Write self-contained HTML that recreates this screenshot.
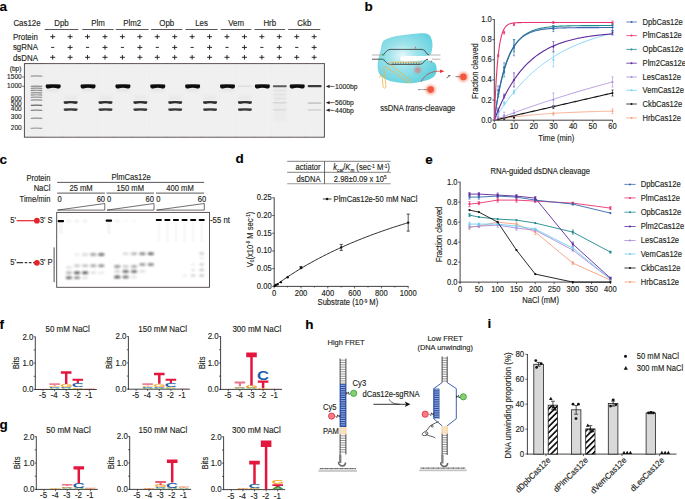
<!DOCTYPE html>
<html><head><meta charset="utf-8"><style>
html,body{margin:0;padding:0;background:#fff;overflow:hidden;}
svg{display:block;font-family:"Liberation Sans", sans-serif;}
text{stroke:#231f20;stroke-width:0.13px;}
</style></head><body>
<svg width="685" height="499" viewBox="0 0 685 499">
<defs>
<filter id="b04" x="-20%" y="-100%" width="140%" height="300%"><feGaussianBlur stdDeviation="0.4"/></filter>
<filter id="b05" x="-20%" y="-100%" width="140%" height="300%"><feGaussianBlur stdDeviation="0.5"/></filter>
<filter id="b08" x="-50%" y="-150%" width="200%" height="400%"><feGaussianBlur stdDeviation="0.75"/></filter>
<filter id="b09" x="-50%" y="-150%" width="200%" height="400%"><feGaussianBlur stdDeviation="0.9"/></filter>
<filter id="b1" x="-50%" y="-50%" width="200%" height="200%"><feGaussianBlur stdDeviation="1"/></filter>
<filter id="b2" x="-50%" y="-50%" width="200%" height="200%"><feGaussianBlur stdDeviation="2"/></filter>
<radialGradient id="cyan" cx="0.42" cy="0.45" r="0.6"><stop offset="0" stop-color="#e4f8fa"/><stop offset="0.4" stop-color="#9fe3eb"/><stop offset="1" stop-color="#62d1de"/></radialGradient>
<pattern id="hatch" patternUnits="userSpaceOnUse" width="4.2" height="4.2" patternTransform="rotate(45)"><rect width="4.2" height="4.2" fill="#fff"/><rect width="1.7" height="4.2" fill="#111"/></pattern>
</defs>
<text x="-0.40" y="10.50" font-size="13.5" text-anchor="start" font-weight="bold" fill="#000" >a</text>
<text x="0" y="0" transform="translate(13.40,25.90) scale(1,1.07)" font-size="7.9" text-anchor="start" fill="#231f20" >Cas12e</text>
<text x="0" y="0" transform="translate(61.50,25.90) scale(1,1.07)" font-size="7.9" text-anchor="middle" fill="#231f20" >Dpb</text>
<line x1="44.70" y1="29.50" x2="78.30" y2="29.50" stroke="#231f20" stroke-width="0.75" />
<text x="0" y="0" transform="translate(97.95,25.90) scale(1,1.07)" font-size="7.9" text-anchor="middle" fill="#231f20" >Plm</text>
<line x1="82.30" y1="29.50" x2="113.60" y2="29.50" stroke="#231f20" stroke-width="0.75" />
<text x="0" y="0" transform="translate(132.15,25.90) scale(1,1.07)" font-size="7.9" text-anchor="middle" fill="#231f20" >Plm2</text>
<line x1="115.80" y1="29.50" x2="148.50" y2="29.50" stroke="#231f20" stroke-width="0.75" />
<text x="0" y="0" transform="translate(166.70,25.90) scale(1,1.07)" font-size="7.9" text-anchor="middle" fill="#231f20" >Opb</text>
<line x1="151.10" y1="29.50" x2="182.30" y2="29.50" stroke="#231f20" stroke-width="0.75" />
<text x="0" y="0" transform="translate(201.55,25.90) scale(1,1.07)" font-size="7.9" text-anchor="middle" fill="#231f20" >Les</text>
<line x1="185.50" y1="29.50" x2="217.60" y2="29.50" stroke="#231f20" stroke-width="0.75" />
<text x="0" y="0" transform="translate(236.05,25.90) scale(1,1.07)" font-size="7.9" text-anchor="middle" fill="#231f20" >Vem</text>
<line x1="220.80" y1="29.50" x2="251.30" y2="29.50" stroke="#231f20" stroke-width="0.75" />
<text x="0" y="0" transform="translate(269.75,25.90) scale(1,1.07)" font-size="7.9" text-anchor="middle" fill="#231f20" >Hrb</text>
<line x1="254.50" y1="29.50" x2="285.00" y2="29.50" stroke="#231f20" stroke-width="0.75" />
<text x="0" y="0" transform="translate(304.25,25.90) scale(1,1.07)" font-size="7.9" text-anchor="middle" fill="#231f20" >Ckb</text>
<line x1="288.20" y1="29.50" x2="320.30" y2="29.50" stroke="#231f20" stroke-width="0.75" />
<text x="0" y="0" transform="translate(12.90,39.80) scale(1,1.07)" font-size="7.9" text-anchor="start" fill="#231f20" >Protein</text>
<text x="0" y="0" transform="translate(12.90,50.30) scale(1,1.07)" font-size="7.9" text-anchor="start" fill="#231f20" >sgRNA</text>
<text x="0" y="0" transform="translate(12.90,60.80) scale(1,1.07)" font-size="7.9" text-anchor="start" fill="#231f20" >dsDNA</text>
<line x1="50.20" y1="36.70" x2="55.20" y2="36.70" stroke="#231f20" stroke-width="0.95" />
<line x1="52.70" y1="34.40" x2="52.70" y2="39.00" stroke="#231f20" stroke-width="0.95" />
<line x1="51.10" y1="47.40" x2="54.30" y2="47.40" stroke="#231f20" stroke-width="0.95" />
<line x1="50.20" y1="57.30" x2="55.20" y2="57.30" stroke="#231f20" stroke-width="0.95" />
<line x1="52.70" y1="55.00" x2="52.70" y2="59.60" stroke="#231f20" stroke-width="0.95" />
<line x1="67.63" y1="36.70" x2="72.63" y2="36.70" stroke="#231f20" stroke-width="0.95" />
<line x1="70.13" y1="34.40" x2="70.13" y2="39.00" stroke="#231f20" stroke-width="0.95" />
<line x1="67.63" y1="47.40" x2="72.63" y2="47.40" stroke="#231f20" stroke-width="0.95" />
<line x1="70.13" y1="45.10" x2="70.13" y2="49.70" stroke="#231f20" stroke-width="0.95" />
<line x1="67.63" y1="57.30" x2="72.63" y2="57.30" stroke="#231f20" stroke-width="0.95" />
<line x1="70.13" y1="55.00" x2="70.13" y2="59.60" stroke="#231f20" stroke-width="0.95" />
<line x1="85.06" y1="36.70" x2="90.06" y2="36.70" stroke="#231f20" stroke-width="0.95" />
<line x1="87.56" y1="34.40" x2="87.56" y2="39.00" stroke="#231f20" stroke-width="0.95" />
<line x1="85.96" y1="47.40" x2="89.16" y2="47.40" stroke="#231f20" stroke-width="0.95" />
<line x1="85.06" y1="57.30" x2="90.06" y2="57.30" stroke="#231f20" stroke-width="0.95" />
<line x1="87.56" y1="55.00" x2="87.56" y2="59.60" stroke="#231f20" stroke-width="0.95" />
<line x1="102.49" y1="36.70" x2="107.49" y2="36.70" stroke="#231f20" stroke-width="0.95" />
<line x1="104.99" y1="34.40" x2="104.99" y2="39.00" stroke="#231f20" stroke-width="0.95" />
<line x1="102.49" y1="47.40" x2="107.49" y2="47.40" stroke="#231f20" stroke-width="0.95" />
<line x1="104.99" y1="45.10" x2="104.99" y2="49.70" stroke="#231f20" stroke-width="0.95" />
<line x1="102.49" y1="57.30" x2="107.49" y2="57.30" stroke="#231f20" stroke-width="0.95" />
<line x1="104.99" y1="55.00" x2="104.99" y2="59.60" stroke="#231f20" stroke-width="0.95" />
<line x1="119.92" y1="36.70" x2="124.92" y2="36.70" stroke="#231f20" stroke-width="0.95" />
<line x1="122.42" y1="34.40" x2="122.42" y2="39.00" stroke="#231f20" stroke-width="0.95" />
<line x1="120.82" y1="47.40" x2="124.02" y2="47.40" stroke="#231f20" stroke-width="0.95" />
<line x1="119.92" y1="57.30" x2="124.92" y2="57.30" stroke="#231f20" stroke-width="0.95" />
<line x1="122.42" y1="55.00" x2="122.42" y2="59.60" stroke="#231f20" stroke-width="0.95" />
<line x1="137.35" y1="36.70" x2="142.35" y2="36.70" stroke="#231f20" stroke-width="0.95" />
<line x1="139.85" y1="34.40" x2="139.85" y2="39.00" stroke="#231f20" stroke-width="0.95" />
<line x1="137.35" y1="47.40" x2="142.35" y2="47.40" stroke="#231f20" stroke-width="0.95" />
<line x1="139.85" y1="45.10" x2="139.85" y2="49.70" stroke="#231f20" stroke-width="0.95" />
<line x1="137.35" y1="57.30" x2="142.35" y2="57.30" stroke="#231f20" stroke-width="0.95" />
<line x1="139.85" y1="55.00" x2="139.85" y2="59.60" stroke="#231f20" stroke-width="0.95" />
<line x1="154.78" y1="36.70" x2="159.78" y2="36.70" stroke="#231f20" stroke-width="0.95" />
<line x1="157.28" y1="34.40" x2="157.28" y2="39.00" stroke="#231f20" stroke-width="0.95" />
<line x1="155.68" y1="47.40" x2="158.88" y2="47.40" stroke="#231f20" stroke-width="0.95" />
<line x1="154.78" y1="57.30" x2="159.78" y2="57.30" stroke="#231f20" stroke-width="0.95" />
<line x1="157.28" y1="55.00" x2="157.28" y2="59.60" stroke="#231f20" stroke-width="0.95" />
<line x1="172.21" y1="36.70" x2="177.21" y2="36.70" stroke="#231f20" stroke-width="0.95" />
<line x1="174.71" y1="34.40" x2="174.71" y2="39.00" stroke="#231f20" stroke-width="0.95" />
<line x1="172.21" y1="47.40" x2="177.21" y2="47.40" stroke="#231f20" stroke-width="0.95" />
<line x1="174.71" y1="45.10" x2="174.71" y2="49.70" stroke="#231f20" stroke-width="0.95" />
<line x1="172.21" y1="57.30" x2="177.21" y2="57.30" stroke="#231f20" stroke-width="0.95" />
<line x1="174.71" y1="55.00" x2="174.71" y2="59.60" stroke="#231f20" stroke-width="0.95" />
<line x1="189.64" y1="36.70" x2="194.64" y2="36.70" stroke="#231f20" stroke-width="0.95" />
<line x1="192.14" y1="34.40" x2="192.14" y2="39.00" stroke="#231f20" stroke-width="0.95" />
<line x1="190.54" y1="47.40" x2="193.74" y2="47.40" stroke="#231f20" stroke-width="0.95" />
<line x1="189.64" y1="57.30" x2="194.64" y2="57.30" stroke="#231f20" stroke-width="0.95" />
<line x1="192.14" y1="55.00" x2="192.14" y2="59.60" stroke="#231f20" stroke-width="0.95" />
<line x1="207.07" y1="36.70" x2="212.07" y2="36.70" stroke="#231f20" stroke-width="0.95" />
<line x1="209.57" y1="34.40" x2="209.57" y2="39.00" stroke="#231f20" stroke-width="0.95" />
<line x1="207.07" y1="47.40" x2="212.07" y2="47.40" stroke="#231f20" stroke-width="0.95" />
<line x1="209.57" y1="45.10" x2="209.57" y2="49.70" stroke="#231f20" stroke-width="0.95" />
<line x1="207.07" y1="57.30" x2="212.07" y2="57.30" stroke="#231f20" stroke-width="0.95" />
<line x1="209.57" y1="55.00" x2="209.57" y2="59.60" stroke="#231f20" stroke-width="0.95" />
<line x1="224.50" y1="36.70" x2="229.50" y2="36.70" stroke="#231f20" stroke-width="0.95" />
<line x1="227.00" y1="34.40" x2="227.00" y2="39.00" stroke="#231f20" stroke-width="0.95" />
<line x1="225.40" y1="47.40" x2="228.60" y2="47.40" stroke="#231f20" stroke-width="0.95" />
<line x1="224.50" y1="57.30" x2="229.50" y2="57.30" stroke="#231f20" stroke-width="0.95" />
<line x1="227.00" y1="55.00" x2="227.00" y2="59.60" stroke="#231f20" stroke-width="0.95" />
<line x1="241.93" y1="36.70" x2="246.93" y2="36.70" stroke="#231f20" stroke-width="0.95" />
<line x1="244.43" y1="34.40" x2="244.43" y2="39.00" stroke="#231f20" stroke-width="0.95" />
<line x1="241.93" y1="47.40" x2="246.93" y2="47.40" stroke="#231f20" stroke-width="0.95" />
<line x1="244.43" y1="45.10" x2="244.43" y2="49.70" stroke="#231f20" stroke-width="0.95" />
<line x1="241.93" y1="57.30" x2="246.93" y2="57.30" stroke="#231f20" stroke-width="0.95" />
<line x1="244.43" y1="55.00" x2="244.43" y2="59.60" stroke="#231f20" stroke-width="0.95" />
<line x1="259.36" y1="36.70" x2="264.36" y2="36.70" stroke="#231f20" stroke-width="0.95" />
<line x1="261.86" y1="34.40" x2="261.86" y2="39.00" stroke="#231f20" stroke-width="0.95" />
<line x1="260.26" y1="47.40" x2="263.46" y2="47.40" stroke="#231f20" stroke-width="0.95" />
<line x1="259.36" y1="57.30" x2="264.36" y2="57.30" stroke="#231f20" stroke-width="0.95" />
<line x1="261.86" y1="55.00" x2="261.86" y2="59.60" stroke="#231f20" stroke-width="0.95" />
<line x1="276.79" y1="36.70" x2="281.79" y2="36.70" stroke="#231f20" stroke-width="0.95" />
<line x1="279.29" y1="34.40" x2="279.29" y2="39.00" stroke="#231f20" stroke-width="0.95" />
<line x1="276.79" y1="47.40" x2="281.79" y2="47.40" stroke="#231f20" stroke-width="0.95" />
<line x1="279.29" y1="45.10" x2="279.29" y2="49.70" stroke="#231f20" stroke-width="0.95" />
<line x1="276.79" y1="57.30" x2="281.79" y2="57.30" stroke="#231f20" stroke-width="0.95" />
<line x1="279.29" y1="55.00" x2="279.29" y2="59.60" stroke="#231f20" stroke-width="0.95" />
<line x1="294.22" y1="36.70" x2="299.22" y2="36.70" stroke="#231f20" stroke-width="0.95" />
<line x1="296.72" y1="34.40" x2="296.72" y2="39.00" stroke="#231f20" stroke-width="0.95" />
<line x1="295.12" y1="47.40" x2="298.32" y2="47.40" stroke="#231f20" stroke-width="0.95" />
<line x1="294.22" y1="57.30" x2="299.22" y2="57.30" stroke="#231f20" stroke-width="0.95" />
<line x1="296.72" y1="55.00" x2="296.72" y2="59.60" stroke="#231f20" stroke-width="0.95" />
<line x1="311.65" y1="36.70" x2="316.65" y2="36.70" stroke="#231f20" stroke-width="0.95" />
<line x1="314.15" y1="34.40" x2="314.15" y2="39.00" stroke="#231f20" stroke-width="0.95" />
<line x1="311.65" y1="47.40" x2="316.65" y2="47.40" stroke="#231f20" stroke-width="0.95" />
<line x1="314.15" y1="45.10" x2="314.15" y2="49.70" stroke="#231f20" stroke-width="0.95" />
<line x1="311.65" y1="57.30" x2="316.65" y2="57.30" stroke="#231f20" stroke-width="0.95" />
<line x1="314.15" y1="55.00" x2="314.15" y2="59.60" stroke="#231f20" stroke-width="0.95" />
<rect x="24.40" y="63.60" width="300.00" height="73.60" fill="#efefef" stroke="#4f4545" stroke-width="0.95" />
<text x="0" y="0" transform="translate(21.50,70.90) scale(1,1.07)" font-size="6.6" text-anchor="end" fill="#231f20" >(bp)</text>
<text x="0" y="0" transform="translate(21.80,78.70) scale(1,1.07)" font-size="6.6" text-anchor="end" fill="#231f20" >1500</text>
<text x="0" y="0" transform="translate(21.80,87.90) scale(1,1.07)" font-size="6.6" text-anchor="end" fill="#231f20" >1000</text>
<text x="0" y="0" transform="translate(21.80,100.50) scale(1,1.07)" font-size="6.6" text-anchor="end" fill="#231f20" >600</text>
<text x="0" y="0" transform="translate(21.80,105.60) scale(1,1.07)" font-size="6.6" text-anchor="end" fill="#231f20" >500</text>
<text x="0" y="0" transform="translate(21.80,111.30) scale(1,1.07)" font-size="6.6" text-anchor="end" fill="#231f20" >400</text>
<text x="0" y="0" transform="translate(21.80,118.90) scale(1,1.07)" font-size="6.6" text-anchor="end" fill="#231f20" >300</text>
<text x="0" y="0" transform="translate(21.80,129.60) scale(1,1.07)" font-size="6.6" text-anchor="end" fill="#231f20" >200</text>
<line x1="22.20" y1="77.00" x2="24.40" y2="77.00" stroke="#231f20" stroke-width="0.6" />
<line x1="22.20" y1="86.30" x2="24.40" y2="86.30" stroke="#231f20" stroke-width="0.6" />
<rect x="45.70" y="64.50" width="15.00" height="72.00" fill="#f4f4f4" stroke="none" stroke-width="0.8" opacity="0.3" filter="url(#b1)"/>
<rect x="63.13" y="64.50" width="15.00" height="72.00" fill="#f4f4f4" stroke="none" stroke-width="0.8" opacity="0.3" filter="url(#b1)"/>
<rect x="80.56" y="64.50" width="15.00" height="72.00" fill="#f4f4f4" stroke="none" stroke-width="0.8" opacity="0.3" filter="url(#b1)"/>
<rect x="97.99" y="64.50" width="15.00" height="72.00" fill="#f4f4f4" stroke="none" stroke-width="0.8" opacity="0.3" filter="url(#b1)"/>
<rect x="115.42" y="64.50" width="15.00" height="72.00" fill="#f4f4f4" stroke="none" stroke-width="0.8" opacity="0.3" filter="url(#b1)"/>
<rect x="132.85" y="64.50" width="15.00" height="72.00" fill="#f4f4f4" stroke="none" stroke-width="0.8" opacity="0.3" filter="url(#b1)"/>
<rect x="150.28" y="64.50" width="15.00" height="72.00" fill="#f4f4f4" stroke="none" stroke-width="0.8" opacity="0.3" filter="url(#b1)"/>
<rect x="167.71" y="64.50" width="15.00" height="72.00" fill="#f4f4f4" stroke="none" stroke-width="0.8" opacity="0.3" filter="url(#b1)"/>
<rect x="185.14" y="64.50" width="15.00" height="72.00" fill="#f4f4f4" stroke="none" stroke-width="0.8" opacity="0.3" filter="url(#b1)"/>
<rect x="202.57" y="64.50" width="15.00" height="72.00" fill="#f4f4f4" stroke="none" stroke-width="0.8" opacity="0.3" filter="url(#b1)"/>
<rect x="220.00" y="64.50" width="15.00" height="72.00" fill="#f4f4f4" stroke="none" stroke-width="0.8" opacity="0.3" filter="url(#b1)"/>
<rect x="237.43" y="64.50" width="15.00" height="72.00" fill="#f4f4f4" stroke="none" stroke-width="0.8" opacity="0.3" filter="url(#b1)"/>
<rect x="254.86" y="64.50" width="15.00" height="72.00" fill="#f4f4f4" stroke="none" stroke-width="0.8" opacity="0.3" filter="url(#b1)"/>
<rect x="272.29" y="64.50" width="15.00" height="72.00" fill="#f4f4f4" stroke="none" stroke-width="0.8" opacity="0.3" filter="url(#b1)"/>
<rect x="289.72" y="64.50" width="15.00" height="72.00" fill="#f4f4f4" stroke="none" stroke-width="0.8" opacity="0.3" filter="url(#b1)"/>
<rect x="307.15" y="64.50" width="15.00" height="72.00" fill="#f4f4f4" stroke="none" stroke-width="0.8" opacity="0.3" filter="url(#b1)"/>
<g opacity="0.375" filter="url(#b05)"><path d="M31.20 75.55 Q30.60 75.55 30.60 76.20 Q30.60 76.84 31.64 76.84 Q36.50 76.23 41.36 76.84 Q42.40 76.84 42.40 76.20 Q42.40 75.55 41.80 75.55 Q36.50 75.10 31.20 75.55 Z" fill="#0a0a0a"/></g>
<g opacity="0.44999999999999996" filter="url(#b05)"><path d="M31.20 85.65 Q30.60 85.65 30.60 86.30 Q30.60 86.94 31.64 86.94 Q36.50 86.33 41.36 86.94 Q42.40 86.94 42.40 86.30 Q42.40 85.65 41.80 85.65 Q36.50 85.20 31.20 85.65 Z" fill="#0a0a0a"/></g>
<g opacity="0.41250000000000003" filter="url(#b05)"><path d="M31.20 87.75 Q30.60 87.75 30.60 88.40 Q30.60 89.04 31.64 89.04 Q36.50 88.42 41.36 89.04 Q42.40 89.04 42.40 88.40 Q42.40 87.75 41.80 87.75 Q36.50 87.30 31.20 87.75 Z" fill="#0a0a0a"/></g>
<g opacity="0.41250000000000003" filter="url(#b05)"><path d="M31.20 89.85 Q30.60 89.85 30.60 90.50 Q30.60 91.14 31.64 91.14 Q36.50 90.53 41.36 91.14 Q42.40 91.14 42.40 90.50 Q42.40 89.85 41.80 89.85 Q36.50 89.40 31.20 89.85 Z" fill="#0a0a0a"/></g>
<g opacity="0.41250000000000003" filter="url(#b05)"><path d="M31.20 92.15 Q30.60 92.15 30.60 92.80 Q30.60 93.44 31.64 93.44 Q36.50 92.83 41.36 93.44 Q42.40 93.44 42.40 92.80 Q42.40 92.15 41.80 92.15 Q36.50 91.70 31.20 92.15 Z" fill="#0a0a0a"/></g>
<g opacity="0.375" filter="url(#b05)"><path d="M31.20 94.35 Q30.60 94.35 30.60 95.00 Q30.60 95.64 31.64 95.64 Q36.50 95.03 41.36 95.64 Q42.40 95.64 42.40 95.00 Q42.40 94.35 41.80 94.35 Q36.50 93.90 31.20 94.35 Z" fill="#0a0a0a"/></g>
<g opacity="0.375" filter="url(#b05)"><path d="M31.20 96.65 Q30.60 96.65 30.60 97.30 Q30.60 97.94 31.64 97.94 Q36.50 97.33 41.36 97.94 Q42.40 97.94 42.40 97.30 Q42.40 96.65 41.80 96.65 Q36.50 96.20 31.20 96.65 Z" fill="#0a0a0a"/></g>
<g opacity="0.41250000000000003" filter="url(#b05)"><path d="M31.20 99.45 Q30.60 99.45 30.60 100.10 Q30.60 100.74 31.64 100.74 Q36.50 100.12 41.36 100.74 Q42.40 100.74 42.40 100.10 Q42.40 99.45 41.80 99.45 Q36.50 99.00 31.20 99.45 Z" fill="#0a0a0a"/></g>
<g opacity="0.6000000000000001" filter="url(#b05)"><path d="M31.20 104.65 Q30.60 104.65 30.60 105.30 Q30.60 105.94 31.64 105.94 Q36.50 105.33 41.36 105.94 Q42.40 105.94 42.40 105.30 Q42.40 104.65 41.80 104.65 Q36.50 104.20 31.20 104.65 Z" fill="#0a0a0a"/></g>
<g opacity="0.44999999999999996" filter="url(#b05)"><path d="M31.20 109.75 Q30.60 109.75 30.60 110.40 Q30.60 111.04 31.64 111.04 Q36.50 110.42 41.36 111.04 Q42.40 111.04 42.40 110.40 Q42.40 109.75 41.80 109.75 Q36.50 109.30 31.20 109.75 Z" fill="#0a0a0a"/></g>
<g opacity="0.41250000000000003" filter="url(#b05)"><path d="M31.20 117.65 Q30.60 117.65 30.60 118.30 Q30.60 118.94 31.64 118.94 Q36.50 118.33 41.36 118.94 Q42.40 118.94 42.40 118.30 Q42.40 117.65 41.80 117.65 Q36.50 117.20 31.20 117.65 Z" fill="#0a0a0a"/></g>
<g opacity="0.3375" filter="url(#b05)"><path d="M31.20 127.75 Q30.60 127.75 30.60 128.40 Q30.60 129.04 31.64 129.04 Q36.50 128.43 41.36 129.04 Q42.40 129.04 42.40 128.40 Q42.40 127.75 41.80 127.75 Q36.50 127.30 31.20 127.75 Z" fill="#0a0a0a"/></g>
<rect x="46.70" y="87.00" width="13.00" height="5.00" fill="#999" stroke="none" stroke-width="0.8" opacity="0.08" filter="url(#b1)"/>
<g opacity="1.0" filter="url(#b05)"><path d="M46.30 84.40 Q45.70 84.40 45.70 86.20 Q45.70 88.49 48.58 88.49 Q53.20 86.80 57.82 88.49 Q60.70 88.49 60.70 86.20 Q60.70 84.40 60.10 84.40 Q53.20 83.95 46.30 84.40 Z" fill="#0a0a0a"/></g>
<rect x="64.13" y="95.00" width="13.00" height="6.00" fill="#999" stroke="none" stroke-width="0.8" opacity="0.06" filter="url(#b1)"/>
<g opacity="0.85" filter="url(#b05)"><path d="M64.23 101.30 Q63.63 101.30 63.63 102.50 Q63.63 103.93 65.55 103.93 Q70.63 102.80 75.71 103.93 Q77.63 103.93 77.63 102.50 Q77.63 101.30 77.03 101.30 Q70.63 100.85 64.23 101.30 Z" fill="#0a0a0a"/></g>
<g opacity="0.8" filter="url(#b05)"><path d="M64.23 108.40 Q63.63 108.40 63.63 109.60 Q63.63 111.03 65.55 111.03 Q70.63 109.90 75.71 111.03 Q77.63 111.03 77.63 109.60 Q77.63 108.40 77.03 108.40 Q70.63 107.95 64.23 108.40 Z" fill="#0a0a0a"/></g>
<rect x="81.56" y="87.00" width="13.00" height="5.00" fill="#999" stroke="none" stroke-width="0.8" opacity="0.08" filter="url(#b1)"/>
<g opacity="1.0" filter="url(#b05)"><path d="M81.16 84.40 Q80.56 84.40 80.56 86.20 Q80.56 88.49 83.44 88.49 Q88.06 86.80 92.68 88.49 Q95.56 88.49 95.56 86.20 Q95.56 84.40 94.96 84.40 Q88.06 83.95 81.16 84.40 Z" fill="#0a0a0a"/></g>
<rect x="98.99" y="95.00" width="13.00" height="6.00" fill="#999" stroke="none" stroke-width="0.8" opacity="0.06" filter="url(#b1)"/>
<g opacity="0.85" filter="url(#b05)"><path d="M99.09 101.30 Q98.49 101.30 98.49 102.50 Q98.49 103.93 100.41 103.93 Q105.49 102.80 110.57 103.93 Q112.49 103.93 112.49 102.50 Q112.49 101.30 111.89 101.30 Q105.49 100.85 99.09 101.30 Z" fill="#0a0a0a"/></g>
<g opacity="0.8" filter="url(#b05)"><path d="M99.09 108.40 Q98.49 108.40 98.49 109.60 Q98.49 111.03 100.41 111.03 Q105.49 109.90 110.57 111.03 Q112.49 111.03 112.49 109.60 Q112.49 108.40 111.89 108.40 Q105.49 107.95 99.09 108.40 Z" fill="#0a0a0a"/></g>
<rect x="116.42" y="87.00" width="13.00" height="5.00" fill="#999" stroke="none" stroke-width="0.8" opacity="0.08" filter="url(#b1)"/>
<g opacity="1.0" filter="url(#b05)"><path d="M116.02 84.40 Q115.42 84.40 115.42 86.20 Q115.42 88.49 118.30 88.49 Q122.92 86.80 127.54 88.49 Q130.42 88.49 130.42 86.20 Q130.42 84.40 129.82 84.40 Q122.92 83.95 116.02 84.40 Z" fill="#0a0a0a"/></g>
<rect x="133.85" y="95.00" width="13.00" height="6.00" fill="#999" stroke="none" stroke-width="0.8" opacity="0.06" filter="url(#b1)"/>
<g opacity="0.85" filter="url(#b05)"><path d="M133.95 101.30 Q133.35 101.30 133.35 102.50 Q133.35 103.93 135.27 103.93 Q140.35 102.80 145.43 103.93 Q147.35 103.93 147.35 102.50 Q147.35 101.30 146.75 101.30 Q140.35 100.85 133.95 101.30 Z" fill="#0a0a0a"/></g>
<g opacity="0.8" filter="url(#b05)"><path d="M133.95 108.40 Q133.35 108.40 133.35 109.60 Q133.35 111.03 135.27 111.03 Q140.35 109.90 145.43 111.03 Q147.35 111.03 147.35 109.60 Q147.35 108.40 146.75 108.40 Q140.35 107.95 133.95 108.40 Z" fill="#0a0a0a"/></g>
<rect x="151.28" y="87.00" width="13.00" height="5.00" fill="#999" stroke="none" stroke-width="0.8" opacity="0.08" filter="url(#b1)"/>
<g opacity="1.0" filter="url(#b05)"><path d="M150.88 84.40 Q150.28 84.40 150.28 86.20 Q150.28 88.49 153.16 88.49 Q157.78 86.80 162.40 88.49 Q165.28 88.49 165.28 86.20 Q165.28 84.40 164.68 84.40 Q157.78 83.95 150.88 84.40 Z" fill="#0a0a0a"/></g>
<rect x="168.71" y="95.00" width="13.00" height="6.00" fill="#999" stroke="none" stroke-width="0.8" opacity="0.06" filter="url(#b1)"/>
<g opacity="0.85" filter="url(#b05)"><path d="M168.81 101.30 Q168.21 101.30 168.21 102.50 Q168.21 103.93 170.13 103.93 Q175.21 102.80 180.29 103.93 Q182.21 103.93 182.21 102.50 Q182.21 101.30 181.61 101.30 Q175.21 100.85 168.81 101.30 Z" fill="#0a0a0a"/></g>
<g opacity="0.8" filter="url(#b05)"><path d="M168.81 108.40 Q168.21 108.40 168.21 109.60 Q168.21 111.03 170.13 111.03 Q175.21 109.90 180.29 111.03 Q182.21 111.03 182.21 109.60 Q182.21 108.40 181.61 108.40 Q175.21 107.95 168.81 108.40 Z" fill="#0a0a0a"/></g>
<rect x="186.14" y="87.00" width="13.00" height="5.00" fill="#999" stroke="none" stroke-width="0.8" opacity="0.08" filter="url(#b1)"/>
<g opacity="1.0" filter="url(#b05)"><path d="M185.74 84.40 Q185.14 84.40 185.14 86.20 Q185.14 88.49 188.02 88.49 Q192.64 86.80 197.26 88.49 Q200.14 88.49 200.14 86.20 Q200.14 84.40 199.54 84.40 Q192.64 83.95 185.74 84.40 Z" fill="#0a0a0a"/></g>
<rect x="203.57" y="95.00" width="13.00" height="6.00" fill="#999" stroke="none" stroke-width="0.8" opacity="0.06" filter="url(#b1)"/>
<g opacity="0.85" filter="url(#b05)"><path d="M203.67 101.30 Q203.07 101.30 203.07 102.50 Q203.07 103.93 204.99 103.93 Q210.07 102.80 215.15 103.93 Q217.07 103.93 217.07 102.50 Q217.07 101.30 216.47 101.30 Q210.07 100.85 203.67 101.30 Z" fill="#0a0a0a"/></g>
<g opacity="0.8" filter="url(#b05)"><path d="M203.67 108.40 Q203.07 108.40 203.07 109.60 Q203.07 111.03 204.99 111.03 Q210.07 109.90 215.15 111.03 Q217.07 111.03 217.07 109.60 Q217.07 108.40 216.47 108.40 Q210.07 107.95 203.67 108.40 Z" fill="#0a0a0a"/></g>
<rect x="221.00" y="87.00" width="13.00" height="5.00" fill="#999" stroke="none" stroke-width="0.8" opacity="0.08" filter="url(#b1)"/>
<g opacity="1.0" filter="url(#b05)"><path d="M220.60 84.40 Q220.00 84.40 220.00 86.20 Q220.00 88.49 222.88 88.49 Q227.50 86.80 232.12 88.49 Q235.00 88.49 235.00 86.20 Q235.00 84.40 234.40 84.40 Q227.50 83.95 220.60 84.40 Z" fill="#0a0a0a"/></g>
<rect x="238.43" y="95.00" width="13.00" height="6.00" fill="#999" stroke="none" stroke-width="0.8" opacity="0.06" filter="url(#b1)"/>
<g opacity="0.85" filter="url(#b05)"><path d="M238.53 101.30 Q237.93 101.30 237.93 102.50 Q237.93 103.93 239.85 103.93 Q244.93 102.80 250.01 103.93 Q251.93 103.93 251.93 102.50 Q251.93 101.30 251.33 101.30 Q244.93 100.85 238.53 101.30 Z" fill="#0a0a0a"/></g>
<g opacity="0.8" filter="url(#b05)"><path d="M238.53 108.40 Q237.93 108.40 237.93 109.60 Q237.93 111.03 239.85 111.03 Q244.93 109.90 250.01 111.03 Q251.93 111.03 251.93 109.60 Q251.93 108.40 251.33 108.40 Q244.93 107.95 238.53 108.40 Z" fill="#0a0a0a"/></g>
<g opacity="0.08" filter="url(#b05)"><rect x="237.83" y="85.50" width="14.20" height="1.60" rx="0.80" fill="#1a1a1a"/></g>
<g opacity="1.0" filter="url(#b05)"><path d="M255.46 84.40 Q254.86 84.40 254.86 86.20 Q254.86 88.49 257.74 88.49 Q262.36 86.80 266.98 88.49 Q269.86 88.49 269.86 86.20 Q269.86 84.40 269.26 84.40 Q262.36 83.95 255.46 84.40 Z" fill="#0a0a0a"/></g>
<g opacity="0.7" filter="url(#b05)"><rect x="272.79" y="85.20" width="14.00" height="2.00" rx="1.00" fill="#1a1a1a"/></g>
<g opacity="0.1" filter="url(#b05)"><rect x="272.69" y="101.90" width="14.20" height="1.60" rx="0.80" fill="#1a1a1a"/></g>
<g opacity="0.08" filter="url(#b05)"><rect x="272.69" y="109.00" width="14.20" height="1.60" rx="0.80" fill="#1a1a1a"/></g>
<rect x="273.29" y="88.00" width="13.00" height="34.00" fill="#ccc" stroke="none" stroke-width="0.8" opacity="0.12" filter="url(#b1)"/>
<g opacity="0.035" filter="url(#b05)"><rect x="273.29" y="89.80" width="13.00" height="1.40" rx="0.70" fill="#1a1a1a"/></g>
<g opacity="0.035" filter="url(#b05)"><rect x="273.29" y="93.80" width="13.00" height="1.40" rx="0.70" fill="#1a1a1a"/></g>
<g opacity="0.035" filter="url(#b05)"><rect x="273.29" y="97.80" width="13.00" height="1.40" rx="0.70" fill="#1a1a1a"/></g>
<g opacity="1.0" filter="url(#b05)"><path d="M290.32 84.40 Q289.72 84.40 289.72 86.20 Q289.72 88.49 292.60 88.49 Q297.22 86.80 301.84 88.49 Q304.72 88.49 304.72 86.20 Q304.72 84.40 304.12 84.40 Q297.22 83.95 290.32 84.40 Z" fill="#0a0a0a"/></g>
<g opacity="0.85" filter="url(#b05)"><rect x="307.65" y="85.10" width="14.00" height="2.20" rx="1.10" fill="#1a1a1a"/></g>
<g opacity="0.18" filter="url(#b05)"><rect x="307.55" y="102.30" width="14.20" height="1.60" rx="0.80" fill="#1a1a1a"/></g>
<g opacity="0.12" filter="url(#b05)"><rect x="307.55" y="109.10" width="14.20" height="1.60" rx="0.80" fill="#1a1a1a"/></g>
<path d="M325.8 86.40 L329.6 84.80 L329.6 88.00 Z" stroke="none" stroke-width="0.8" fill="#231f20" />
<line x1="328.00" y1="86.40" x2="332.50" y2="86.40" stroke="#231f20" stroke-width="0.6" />
<text x="0" y="0" transform="translate(331.00,88.80) scale(1,1.07)" font-size="6.8" text-anchor="start" fill="#231f20" >~1000bp</text>
<path d="M325.8 102.70 L329.6 101.10 L329.6 104.30 Z" stroke="none" stroke-width="0.8" fill="#231f20" />
<line x1="328.00" y1="102.70" x2="332.50" y2="102.70" stroke="#231f20" stroke-width="0.6" />
<text x="0" y="0" transform="translate(331.00,105.10) scale(1,1.07)" font-size="6.8" text-anchor="start" fill="#231f20" >~560bp</text>
<path d="M325.8 110.20 L329.6 108.60 L329.6 111.80 Z" stroke="none" stroke-width="0.8" fill="#231f20" />
<line x1="328.00" y1="110.20" x2="332.50" y2="110.20" stroke="#231f20" stroke-width="0.6" />
<text x="0" y="0" transform="translate(331.00,112.60) scale(1,1.07)" font-size="6.8" text-anchor="start" fill="#231f20" >~440bp</text>
<text x="364.60" y="11.00" font-size="13.5" text-anchor="start" font-weight="bold" fill="#000" >b</text>
<line x1="494.30" y1="19.20" x2="494.30" y2="120.60" stroke="#231f20" stroke-width="0.85" />
<line x1="493.90" y1="120.20" x2="612.80" y2="120.20" stroke="#231f20" stroke-width="0.85" />
<line x1="492.30" y1="120.20" x2="494.30" y2="120.20" stroke="#231f20" stroke-width="0.7" />
<text x="0" y="0" transform="translate(491.80,122.70) scale(1,1.07)" font-size="7.6" text-anchor="end" fill="#231f20" >0.0</text>
<line x1="492.30" y1="100.06" x2="494.30" y2="100.06" stroke="#231f20" stroke-width="0.7" />
<text x="0" y="0" transform="translate(491.80,102.56) scale(1,1.07)" font-size="7.6" text-anchor="end" fill="#231f20" >0.2</text>
<line x1="492.30" y1="79.92" x2="494.30" y2="79.92" stroke="#231f20" stroke-width="0.7" />
<text x="0" y="0" transform="translate(491.80,82.42) scale(1,1.07)" font-size="7.6" text-anchor="end" fill="#231f20" >0.4</text>
<line x1="492.30" y1="59.78" x2="494.30" y2="59.78" stroke="#231f20" stroke-width="0.7" />
<text x="0" y="0" transform="translate(491.80,62.28) scale(1,1.07)" font-size="7.6" text-anchor="end" fill="#231f20" >0.6</text>
<line x1="492.30" y1="39.64" x2="494.30" y2="39.64" stroke="#231f20" stroke-width="0.7" />
<text x="0" y="0" transform="translate(491.80,42.14) scale(1,1.07)" font-size="7.6" text-anchor="end" fill="#231f20" >0.8</text>
<line x1="492.30" y1="19.50" x2="494.30" y2="19.50" stroke="#231f20" stroke-width="0.7" />
<text x="0" y="0" transform="translate(491.80,22.00) scale(1,1.07)" font-size="7.6" text-anchor="end" fill="#231f20" >1.0</text>
<line x1="494.30" y1="120.20" x2="494.30" y2="122.20" stroke="#231f20" stroke-width="0.7" />
<text x="0" y="0" transform="translate(494.30,129.10) scale(1,1.07)" font-size="7.6" text-anchor="middle" fill="#231f20" >0</text>
<line x1="514.00" y1="120.20" x2="514.00" y2="122.20" stroke="#231f20" stroke-width="0.7" />
<text x="0" y="0" transform="translate(514.00,129.10) scale(1,1.07)" font-size="7.6" text-anchor="middle" fill="#231f20" >10</text>
<line x1="533.70" y1="120.20" x2="533.70" y2="122.20" stroke="#231f20" stroke-width="0.7" />
<text x="0" y="0" transform="translate(533.70,129.10) scale(1,1.07)" font-size="7.6" text-anchor="middle" fill="#231f20" >20</text>
<line x1="553.40" y1="120.20" x2="553.40" y2="122.20" stroke="#231f20" stroke-width="0.7" />
<text x="0" y="0" transform="translate(553.40,129.10) scale(1,1.07)" font-size="7.6" text-anchor="middle" fill="#231f20" >30</text>
<line x1="573.10" y1="120.20" x2="573.10" y2="122.20" stroke="#231f20" stroke-width="0.7" />
<text x="0" y="0" transform="translate(573.10,129.10) scale(1,1.07)" font-size="7.6" text-anchor="middle" fill="#231f20" >40</text>
<line x1="592.80" y1="120.20" x2="592.80" y2="122.20" stroke="#231f20" stroke-width="0.7" />
<text x="0" y="0" transform="translate(592.80,129.10) scale(1,1.07)" font-size="7.6" text-anchor="middle" fill="#231f20" >50</text>
<line x1="612.50" y1="120.20" x2="612.50" y2="122.20" stroke="#231f20" stroke-width="0.7" />
<text x="0" y="0" transform="translate(612.50,129.10) scale(1,1.07)" font-size="7.6" text-anchor="middle" fill="#231f20" >60</text>
<text x="0" y="0" transform="translate(556.30,140.60) scale(1,1.07)" font-size="7.6" text-anchor="middle" fill="#231f20" >Time (min)</text>
<text x="0" y="0" font-size="7.6" text-anchor="middle" fill="#231f20" transform="translate(478.20,71.20) rotate(-90) scale(1,1.07)">Fraction cleaved</text>
<path d="M494.30 120.20 L495.29 120.01 L496.27 119.82 L497.25 119.64 L498.24 119.46 L499.23 119.29 L500.21 119.12 L501.19 118.95 L502.18 118.78 L503.17 118.62 L504.15 118.46 L505.13 118.30 L506.12 118.15 L507.11 118.00 L508.09 117.85 L509.07 117.70 L510.06 117.56 L511.05 117.42 L512.03 117.28 L513.01 117.15 L514.00 117.02 L514.99 116.89 L515.97 116.76 L516.96 116.63 L517.94 116.51 L518.92 116.39 L519.91 116.27 L520.89 116.16 L521.88 116.05 L522.87 115.93 L523.85 115.82 L524.84 115.72 L525.82 115.61 L526.81 115.51 L527.79 115.41 L528.77 115.31 L529.76 115.21 L530.75 115.12 L531.73 115.02 L532.72 114.93 L533.70 114.84 L534.69 114.75 L535.67 114.66 L536.65 114.58 L537.64 114.49 L538.62 114.41 L539.61 114.33 L540.60 114.25 L541.58 114.18 L542.57 114.10 L543.55 114.02 L544.53 113.95 L545.52 113.88 L546.50 113.81 L547.49 113.74 L548.48 113.67 L549.46 113.60 L550.45 113.54 L551.43 113.48 L552.41 113.41 L553.40 113.35 L554.38 113.29 L555.37 113.23 L556.36 113.17 L557.34 113.11 L558.33 113.06 L559.31 113.00 L560.30 112.95 L561.28 112.90 L562.26 112.84 L563.25 112.79 L564.24 112.74 L565.22 112.69 L566.21 112.65 L567.19 112.60 L568.17 112.55 L569.16 112.51 L570.14 112.46 L571.13 112.42 L572.12 112.37 L573.10 112.33 L574.09 112.29 L575.07 112.25 L576.06 112.21 L577.04 112.17 L578.02 112.13 L579.01 112.10 L580.00 112.06 L580.98 112.02 L581.97 111.99 L582.95 111.95 L583.94 111.92 L584.92 111.88 L585.90 111.85 L586.89 111.82 L587.88 111.79 L588.86 111.76 L589.85 111.72 L590.83 111.69 L591.82 111.67 L592.80 111.64 L593.78 111.61 L594.77 111.58 L595.75 111.55 L596.74 111.53 L597.73 111.50 L598.71 111.47 L599.70 111.45 L600.68 111.42 L601.66 111.40 L602.65 111.38 L603.63 111.35 L604.62 111.33 L605.61 111.31 L606.59 111.28 L607.58 111.26 L608.56 111.24 L609.55 111.22 L610.53 111.20 L611.51 111.18 L612.50 111.16" stroke="#f4a07a" stroke-width="0.85" fill="none" />
<line x1="498.24" y1="117.18" x2="498.24" y2="119.19" stroke="#f4a07a" stroke-width="0.6" />
<line x1="497.14" y1="117.18" x2="499.34" y2="117.18" stroke="#f4a07a" stroke-width="0.6" />
<line x1="497.14" y1="119.19" x2="499.34" y2="119.19" stroke="#f4a07a" stroke-width="0.6" />
<circle cx="498.24" cy="118.19" r="1.00" fill="#f4a07a" stroke="none" stroke-width="0.5" />
<line x1="504.15" y1="116.17" x2="504.15" y2="118.19" stroke="#f4a07a" stroke-width="0.6" />
<line x1="503.05" y1="116.17" x2="505.25" y2="116.17" stroke="#f4a07a" stroke-width="0.6" />
<line x1="503.05" y1="118.19" x2="505.25" y2="118.19" stroke="#f4a07a" stroke-width="0.6" />
<circle cx="504.15" cy="117.18" r="1.00" fill="#f4a07a" stroke="none" stroke-width="0.5" />
<line x1="514.00" y1="116.17" x2="514.00" y2="118.19" stroke="#f4a07a" stroke-width="0.6" />
<line x1="512.90" y1="116.17" x2="515.10" y2="116.17" stroke="#f4a07a" stroke-width="0.6" />
<line x1="512.90" y1="118.19" x2="515.10" y2="118.19" stroke="#f4a07a" stroke-width="0.6" />
<circle cx="514.00" cy="117.18" r="1.00" fill="#f4a07a" stroke="none" stroke-width="0.5" />
<line x1="553.40" y1="112.14" x2="553.40" y2="115.17" stroke="#f4a07a" stroke-width="0.6" />
<line x1="552.30" y1="112.14" x2="554.50" y2="112.14" stroke="#f4a07a" stroke-width="0.6" />
<line x1="552.30" y1="115.17" x2="554.50" y2="115.17" stroke="#f4a07a" stroke-width="0.6" />
<circle cx="553.40" cy="113.65" r="1.00" fill="#f4a07a" stroke="none" stroke-width="0.5" />
<line x1="612.50" y1="108.62" x2="612.50" y2="113.65" stroke="#f4a07a" stroke-width="0.6" />
<line x1="611.40" y1="108.62" x2="613.60" y2="108.62" stroke="#f4a07a" stroke-width="0.6" />
<line x1="611.40" y1="113.65" x2="613.60" y2="113.65" stroke="#f4a07a" stroke-width="0.6" />
<circle cx="612.50" cy="111.14" r="1.00" fill="#f4a07a" stroke="none" stroke-width="0.5" />
<path d="M494.30 120.20 L495.29 119.97 L496.27 119.75 L497.25 119.52 L498.24 119.29 L499.23 119.07 L500.21 118.84 L501.19 118.61 L502.18 118.39 L503.17 118.16 L504.15 117.93 L505.13 117.71 L506.12 117.48 L507.11 117.25 L508.09 117.03 L509.07 116.80 L510.06 116.57 L511.05 116.35 L512.03 116.12 L513.01 115.90 L514.00 115.67 L514.99 115.44 L515.97 115.22 L516.96 114.99 L517.94 114.76 L518.92 114.54 L519.91 114.31 L520.89 114.08 L521.88 113.86 L522.87 113.63 L523.85 113.40 L524.84 113.18 L525.82 112.95 L526.81 112.72 L527.79 112.50 L528.77 112.27 L529.76 112.04 L530.75 111.82 L531.73 111.59 L532.72 111.36 L533.70 111.14 L534.69 110.91 L535.67 110.68 L536.65 110.46 L537.64 110.23 L538.62 110.00 L539.61 109.78 L540.60 109.55 L541.58 109.32 L542.57 109.10 L543.55 108.87 L544.53 108.64 L545.52 108.42 L546.50 108.19 L547.49 107.96 L548.48 107.74 L549.46 107.51 L550.45 107.29 L551.43 107.06 L552.41 106.83 L553.40 106.61 L554.38 106.38 L555.37 106.15 L556.36 105.93 L557.34 105.70 L558.33 105.47 L559.31 105.25 L560.30 105.02 L561.28 104.79 L562.26 104.57 L563.25 104.34 L564.24 104.11 L565.22 103.89 L566.21 103.66 L567.19 103.43 L568.17 103.21 L569.16 102.98 L570.14 102.75 L571.13 102.53 L572.12 102.30 L573.10 102.07 L574.09 101.85 L575.07 101.62 L576.06 101.39 L577.04 101.17 L578.02 100.94 L579.01 100.71 L580.00 100.49 L580.98 100.26 L581.97 100.03 L582.95 99.81 L583.94 99.58 L584.92 99.36 L585.90 99.13 L586.89 98.90 L587.88 98.68 L588.86 98.45 L589.85 98.22 L590.83 98.00 L591.82 97.77 L592.80 97.54 L593.78 97.32 L594.77 97.09 L595.75 96.86 L596.74 96.64 L597.73 96.41 L598.71 96.18 L599.70 95.96 L600.68 95.73 L601.66 95.50 L602.65 95.28 L603.63 95.05 L604.62 94.82 L605.61 94.60 L606.59 94.37 L607.58 94.14 L608.56 93.92 L609.55 93.69 L610.53 93.46 L611.51 93.24 L612.50 93.01" stroke="#111111" stroke-width="1.1" fill="none" />
<line x1="498.24" y1="118.69" x2="498.24" y2="119.70" stroke="#111111" stroke-width="0.6" />
<line x1="497.14" y1="118.69" x2="499.34" y2="118.69" stroke="#111111" stroke-width="0.6" />
<line x1="497.14" y1="119.70" x2="499.34" y2="119.70" stroke="#111111" stroke-width="0.6" />
<circle cx="498.24" cy="119.19" r="1.00" fill="#111111" stroke="none" stroke-width="0.5" />
<line x1="504.15" y1="118.19" x2="504.15" y2="119.19" stroke="#111111" stroke-width="0.6" />
<line x1="503.05" y1="118.19" x2="505.25" y2="118.19" stroke="#111111" stroke-width="0.6" />
<line x1="503.05" y1="119.19" x2="505.25" y2="119.19" stroke="#111111" stroke-width="0.6" />
<circle cx="504.15" cy="118.69" r="1.00" fill="#111111" stroke="none" stroke-width="0.5" />
<line x1="514.00" y1="116.17" x2="514.00" y2="118.19" stroke="#111111" stroke-width="0.6" />
<line x1="512.90" y1="116.17" x2="515.10" y2="116.17" stroke="#111111" stroke-width="0.6" />
<line x1="512.90" y1="118.19" x2="515.10" y2="118.19" stroke="#111111" stroke-width="0.6" />
<circle cx="514.00" cy="117.18" r="1.00" fill="#111111" stroke="none" stroke-width="0.5" />
<line x1="553.40" y1="105.60" x2="553.40" y2="108.62" stroke="#111111" stroke-width="0.6" />
<line x1="552.30" y1="105.60" x2="554.50" y2="105.60" stroke="#111111" stroke-width="0.6" />
<line x1="552.30" y1="108.62" x2="554.50" y2="108.62" stroke="#111111" stroke-width="0.6" />
<circle cx="553.40" cy="107.11" r="1.00" fill="#111111" stroke="none" stroke-width="0.5" />
<line x1="612.50" y1="89.99" x2="612.50" y2="96.03" stroke="#111111" stroke-width="0.6" />
<line x1="611.40" y1="89.99" x2="613.60" y2="89.99" stroke="#111111" stroke-width="0.6" />
<line x1="611.40" y1="96.03" x2="613.60" y2="96.03" stroke="#111111" stroke-width="0.6" />
<circle cx="612.50" cy="93.01" r="1.00" fill="#111111" stroke="none" stroke-width="0.5" />
<path d="M494.30 120.20 L495.29 119.82 L496.27 119.44 L497.25 119.05 L498.24 118.68 L499.23 118.30 L500.21 117.92 L501.19 117.54 L502.18 117.17 L503.17 116.80 L504.15 116.42 L505.13 116.05 L506.12 115.68 L507.11 115.31 L508.09 114.95 L509.07 114.58 L510.06 114.21 L511.05 113.85 L512.03 113.49 L513.01 113.13 L514.00 112.77 L514.99 112.41 L515.97 112.05 L516.96 111.69 L517.94 111.33 L518.92 110.98 L519.91 110.63 L520.89 110.27 L521.88 109.92 L522.87 109.57 L523.85 109.22 L524.84 108.87 L525.82 108.53 L526.81 108.18 L527.79 107.83 L528.77 107.49 L529.76 107.15 L530.75 106.81 L531.73 106.47 L532.72 106.13 L533.70 105.79 L534.69 105.45 L535.67 105.11 L536.65 104.78 L537.64 104.44 L538.62 104.11 L539.61 103.78 L540.60 103.45 L541.58 103.12 L542.57 102.79 L543.55 102.46 L544.53 102.14 L545.52 101.81 L546.50 101.48 L547.49 101.16 L548.48 100.84 L549.46 100.52 L550.45 100.20 L551.43 99.88 L552.41 99.56 L553.40 99.24 L554.38 98.92 L555.37 98.61 L556.36 98.29 L557.34 97.98 L558.33 97.67 L559.31 97.36 L560.30 97.04 L561.28 96.73 L562.26 96.43 L563.25 96.12 L564.24 95.81 L565.22 95.51 L566.21 95.20 L567.19 94.90 L568.17 94.59 L569.16 94.29 L570.14 93.99 L571.13 93.69 L572.12 93.39 L573.10 93.09 L574.09 92.80 L575.07 92.50 L576.06 92.21 L577.04 91.91 L578.02 91.62 L579.01 91.33 L580.00 91.03 L580.98 90.74 L581.97 90.45 L582.95 90.17 L583.94 89.88 L584.92 89.59 L585.90 89.30 L586.89 89.02 L587.88 88.74 L588.86 88.45 L589.85 88.17 L590.83 87.89 L591.82 87.61 L592.80 87.33 L593.78 87.05 L594.77 86.77 L595.75 86.49 L596.74 86.22 L597.73 85.94 L598.71 85.67 L599.70 85.39 L600.68 85.12 L601.66 84.85 L602.65 84.58 L603.63 84.31 L604.62 84.04 L605.61 83.77 L606.59 83.50 L607.58 83.24 L608.56 82.97 L609.55 82.71 L610.53 82.44 L611.51 82.18 L612.50 81.92" stroke="#a98ad8" stroke-width="0.85" fill="none" />
<line x1="498.24" y1="116.17" x2="498.24" y2="118.19" stroke="#a98ad8" stroke-width="0.6" />
<line x1="497.14" y1="116.17" x2="499.34" y2="116.17" stroke="#a98ad8" stroke-width="0.6" />
<line x1="497.14" y1="118.19" x2="499.34" y2="118.19" stroke="#a98ad8" stroke-width="0.6" />
<circle cx="498.24" cy="117.18" r="1.00" fill="#a98ad8" stroke="none" stroke-width="0.5" />
<line x1="504.15" y1="112.14" x2="504.15" y2="118.19" stroke="#a98ad8" stroke-width="0.6" />
<line x1="503.05" y1="112.14" x2="505.25" y2="112.14" stroke="#a98ad8" stroke-width="0.6" />
<line x1="503.05" y1="118.19" x2="505.25" y2="118.19" stroke="#a98ad8" stroke-width="0.6" />
<circle cx="504.15" cy="115.17" r="1.00" fill="#a98ad8" stroke="none" stroke-width="0.5" />
<line x1="514.00" y1="110.13" x2="514.00" y2="116.17" stroke="#a98ad8" stroke-width="0.6" />
<line x1="512.90" y1="110.13" x2="515.10" y2="110.13" stroke="#a98ad8" stroke-width="0.6" />
<line x1="512.90" y1="116.17" x2="515.10" y2="116.17" stroke="#a98ad8" stroke-width="0.6" />
<circle cx="514.00" cy="113.15" r="1.00" fill="#a98ad8" stroke="none" stroke-width="0.5" />
<line x1="553.40" y1="93.01" x2="553.40" y2="107.11" stroke="#a98ad8" stroke-width="0.6" />
<line x1="552.30" y1="93.01" x2="554.50" y2="93.01" stroke="#a98ad8" stroke-width="0.6" />
<line x1="552.30" y1="107.11" x2="554.50" y2="107.11" stroke="#a98ad8" stroke-width="0.6" />
<circle cx="553.40" cy="100.06" r="1.00" fill="#a98ad8" stroke="none" stroke-width="0.5" />
<line x1="612.50" y1="76.90" x2="612.50" y2="86.97" stroke="#a98ad8" stroke-width="0.6" />
<line x1="611.40" y1="76.90" x2="613.60" y2="76.90" stroke="#a98ad8" stroke-width="0.6" />
<line x1="611.40" y1="86.97" x2="613.60" y2="86.97" stroke="#a98ad8" stroke-width="0.6" />
<circle cx="612.50" cy="81.93" r="1.00" fill="#a98ad8" stroke="none" stroke-width="0.5" />
<path d="M494.30 120.20 L495.29 118.55 L496.27 116.93 L497.25 115.34 L498.24 113.77 L499.23 112.23 L500.21 110.71 L501.19 109.22 L502.18 107.75 L503.17 106.30 L504.15 104.88 L505.13 103.49 L506.12 102.11 L507.11 100.76 L508.09 99.43 L509.07 98.12 L510.06 96.83 L511.05 95.57 L512.03 94.32 L513.01 93.10 L514.00 91.90 L514.99 90.71 L515.97 89.55 L516.96 88.40 L517.94 87.27 L518.92 86.16 L519.91 85.07 L520.89 84.00 L521.88 82.94 L522.87 81.91 L523.85 80.88 L524.84 79.88 L525.82 78.89 L526.81 77.92 L527.79 76.96 L528.77 76.02 L529.76 75.10 L530.75 74.19 L531.73 73.29 L532.72 72.41 L533.70 71.55 L534.69 70.70 L535.67 69.86 L536.65 69.03 L537.64 68.22 L538.62 67.43 L539.61 66.64 L540.60 65.87 L541.58 65.11 L542.57 64.36 L543.55 63.63 L544.53 62.91 L545.52 62.20 L546.50 61.50 L547.49 60.81 L548.48 60.14 L549.46 59.47 L550.45 58.82 L551.43 58.17 L552.41 57.54 L553.40 56.92 L554.38 56.31 L555.37 55.70 L556.36 55.11 L557.34 54.53 L558.33 53.95 L559.31 53.39 L560.30 52.84 L561.28 52.29 L562.26 51.75 L563.25 51.23 L564.24 50.71 L565.22 50.20 L566.21 49.69 L567.19 49.20 L568.17 48.71 L569.16 48.24 L570.14 47.77 L571.13 47.30 L572.12 46.85 L573.10 46.40 L574.09 45.96 L575.07 45.53 L576.06 45.10 L577.04 44.68 L578.02 44.27 L579.01 43.86 L580.00 43.47 L580.98 43.07 L581.97 42.69 L582.95 42.31 L583.94 41.94 L584.92 41.57 L585.90 41.21 L586.89 40.85 L587.88 40.50 L588.86 40.16 L589.85 39.82 L590.83 39.49 L591.82 39.16 L592.80 38.84 L593.78 38.52 L594.77 38.21 L595.75 37.91 L596.74 37.60 L597.73 37.31 L598.71 37.02 L599.70 36.73 L600.68 36.45 L601.66 36.17 L602.65 35.90 L603.63 35.63 L604.62 35.37 L605.61 35.11 L606.59 34.85 L607.58 34.60 L608.56 34.35 L609.55 34.11 L610.53 33.87 L611.51 33.63 L612.50 33.40" stroke="#72cff2" stroke-width="0.85" fill="none" />
<line x1="498.24" y1="113.15" x2="498.24" y2="115.17" stroke="#72cff2" stroke-width="0.6" />
<line x1="497.14" y1="113.15" x2="499.34" y2="113.15" stroke="#72cff2" stroke-width="0.6" />
<line x1="497.14" y1="115.17" x2="499.34" y2="115.17" stroke="#72cff2" stroke-width="0.6" />
<circle cx="498.24" cy="114.16" r="1.00" fill="#72cff2" stroke="none" stroke-width="0.5" />
<line x1="504.15" y1="101.07" x2="504.15" y2="105.09" stroke="#72cff2" stroke-width="0.6" />
<line x1="503.05" y1="101.07" x2="505.25" y2="101.07" stroke="#72cff2" stroke-width="0.6" />
<line x1="503.05" y1="105.09" x2="505.25" y2="105.09" stroke="#72cff2" stroke-width="0.6" />
<circle cx="504.15" cy="103.08" r="1.00" fill="#72cff2" stroke="none" stroke-width="0.5" />
<line x1="514.00" y1="89.99" x2="514.00" y2="94.02" stroke="#72cff2" stroke-width="0.6" />
<line x1="512.90" y1="89.99" x2="515.10" y2="89.99" stroke="#72cff2" stroke-width="0.6" />
<line x1="512.90" y1="94.02" x2="515.10" y2="94.02" stroke="#72cff2" stroke-width="0.6" />
<circle cx="514.00" cy="92.00" r="1.00" fill="#72cff2" stroke="none" stroke-width="0.5" />
<line x1="553.40" y1="52.73" x2="553.40" y2="66.83" stroke="#72cff2" stroke-width="0.6" />
<line x1="552.30" y1="52.73" x2="554.50" y2="52.73" stroke="#72cff2" stroke-width="0.6" />
<line x1="552.30" y1="66.83" x2="554.50" y2="66.83" stroke="#72cff2" stroke-width="0.6" />
<circle cx="553.40" cy="59.78" r="1.00" fill="#72cff2" stroke="none" stroke-width="0.5" />
<line x1="612.50" y1="27.56" x2="612.50" y2="35.61" stroke="#72cff2" stroke-width="0.6" />
<line x1="611.40" y1="27.56" x2="613.60" y2="27.56" stroke="#72cff2" stroke-width="0.6" />
<line x1="611.40" y1="35.61" x2="613.60" y2="35.61" stroke="#72cff2" stroke-width="0.6" />
<circle cx="612.50" cy="31.58" r="1.00" fill="#72cff2" stroke="none" stroke-width="0.5" />
<path d="M494.30 120.20 L495.29 117.56 L496.27 114.99 L497.25 112.50 L498.24 110.09 L499.23 107.74 L500.21 105.47 L501.19 103.26 L502.18 101.12 L503.17 99.05 L504.15 97.04 L505.13 95.08 L506.12 93.19 L507.11 91.35 L508.09 89.56 L509.07 87.83 L510.06 86.16 L511.05 84.53 L512.03 82.95 L513.01 81.41 L514.00 79.93 L514.99 78.48 L515.97 77.08 L516.96 75.73 L517.94 74.41 L518.92 73.13 L519.91 71.89 L520.89 70.69 L521.88 69.52 L522.87 68.39 L523.85 67.29 L524.84 66.22 L525.82 65.19 L526.81 64.19 L527.79 63.21 L528.77 62.27 L529.76 61.35 L530.75 60.47 L531.73 59.60 L532.72 58.77 L533.70 57.96 L534.69 57.17 L535.67 56.41 L536.65 55.66 L537.64 54.95 L538.62 54.25 L539.61 53.57 L540.60 52.92 L541.58 52.28 L542.57 51.66 L543.55 51.06 L544.53 50.48 L545.52 49.92 L546.50 49.37 L547.49 48.84 L548.48 48.32 L549.46 47.82 L550.45 47.34 L551.43 46.87 L552.41 46.41 L553.40 45.97 L554.38 45.54 L555.37 45.12 L556.36 44.72 L557.34 44.33 L558.33 43.95 L559.31 43.58 L560.30 43.22 L561.28 42.87 L562.26 42.54 L563.25 42.21 L564.24 41.89 L565.22 41.59 L566.21 41.29 L567.19 41.00 L568.17 40.72 L569.16 40.44 L570.14 40.18 L571.13 39.92 L572.12 39.67 L573.10 39.43 L574.09 39.20 L575.07 38.97 L576.06 38.75 L577.04 38.54 L578.02 38.33 L579.01 38.13 L580.00 37.93 L580.98 37.74 L581.97 37.56 L582.95 37.38 L583.94 37.21 L584.92 37.04 L585.90 36.88 L586.89 36.72 L587.88 36.57 L588.86 36.42 L589.85 36.27 L590.83 36.13 L591.82 36.00 L592.80 35.87 L593.78 35.74 L594.77 35.61 L595.75 35.49 L596.74 35.38 L597.73 35.26 L598.71 35.15 L599.70 35.05 L600.68 34.94 L601.66 34.84 L602.65 34.75 L603.63 34.65 L604.62 34.56 L605.61 34.47 L606.59 34.39 L607.58 34.30 L608.56 34.22 L609.55 34.14 L610.53 34.07 L611.51 33.99 L612.50 33.92" stroke="#5b2b9c" stroke-width="1.1" fill="none" />
<line x1="498.24" y1="108.12" x2="498.24" y2="112.14" stroke="#5b2b9c" stroke-width="0.6" />
<line x1="497.14" y1="108.12" x2="499.34" y2="108.12" stroke="#5b2b9c" stroke-width="0.6" />
<line x1="497.14" y1="112.14" x2="499.34" y2="112.14" stroke="#5b2b9c" stroke-width="0.6" />
<circle cx="498.24" cy="110.13" r="1.00" fill="#5b2b9c" stroke="none" stroke-width="0.5" />
<line x1="504.15" y1="94.02" x2="504.15" y2="98.05" stroke="#5b2b9c" stroke-width="0.6" />
<line x1="503.05" y1="94.02" x2="505.25" y2="94.02" stroke="#5b2b9c" stroke-width="0.6" />
<line x1="503.05" y1="98.05" x2="505.25" y2="98.05" stroke="#5b2b9c" stroke-width="0.6" />
<circle cx="504.15" cy="96.03" r="1.00" fill="#5b2b9c" stroke="none" stroke-width="0.5" />
<line x1="514.00" y1="72.87" x2="514.00" y2="86.97" stroke="#5b2b9c" stroke-width="0.6" />
<line x1="512.90" y1="72.87" x2="515.10" y2="72.87" stroke="#5b2b9c" stroke-width="0.6" />
<line x1="512.90" y1="86.97" x2="515.10" y2="86.97" stroke="#5b2b9c" stroke-width="0.6" />
<circle cx="514.00" cy="79.92" r="1.00" fill="#5b2b9c" stroke="none" stroke-width="0.5" />
<line x1="553.40" y1="41.65" x2="553.40" y2="51.72" stroke="#5b2b9c" stroke-width="0.6" />
<line x1="552.30" y1="41.65" x2="554.50" y2="41.65" stroke="#5b2b9c" stroke-width="0.6" />
<line x1="552.30" y1="51.72" x2="554.50" y2="51.72" stroke="#5b2b9c" stroke-width="0.6" />
<circle cx="553.40" cy="46.69" r="1.00" fill="#5b2b9c" stroke="none" stroke-width="0.5" />
<line x1="612.50" y1="30.58" x2="612.50" y2="34.61" stroke="#5b2b9c" stroke-width="0.6" />
<line x1="611.40" y1="30.58" x2="613.60" y2="30.58" stroke="#5b2b9c" stroke-width="0.6" />
<line x1="611.40" y1="34.61" x2="613.60" y2="34.61" stroke="#5b2b9c" stroke-width="0.6" />
<circle cx="612.50" cy="32.59" r="1.00" fill="#5b2b9c" stroke="none" stroke-width="0.5" />
<path d="M494.30 120.20 L495.29 113.36 L496.27 107.01 L497.25 101.13 L498.24 95.67 L499.23 90.60 L500.21 85.90 L501.19 81.54 L502.18 77.49 L503.17 73.74 L504.15 70.26 L505.13 67.02 L506.12 64.03 L507.11 61.25 L508.09 58.67 L509.07 56.27 L510.06 54.05 L511.05 51.99 L512.03 50.08 L513.01 48.31 L514.00 46.66 L514.99 45.14 L515.97 43.72 L516.96 42.41 L517.94 41.19 L518.92 40.06 L519.91 39.01 L520.89 38.04 L521.88 37.13 L522.87 36.30 L523.85 35.52 L524.84 34.80 L525.82 34.13 L526.81 33.51 L527.79 32.93 L528.77 32.40 L529.76 31.90 L530.75 31.44 L531.73 31.02 L532.72 30.62 L533.70 30.25 L534.69 29.91 L535.67 29.60 L536.65 29.31 L537.64 29.03 L538.62 28.78 L539.61 28.55 L540.60 28.33 L541.58 28.13 L542.57 27.94 L543.55 27.77 L544.53 27.61 L545.52 27.46 L546.50 27.32 L547.49 27.19 L548.48 27.07 L549.46 26.96 L550.45 26.86 L551.43 26.76 L552.41 26.68 L553.40 26.59 L554.38 26.52 L555.37 26.45 L556.36 26.38 L557.34 26.32 L558.33 26.26 L559.31 26.21 L560.30 26.16 L561.28 26.12 L562.26 26.08 L563.25 26.04 L564.24 26.00 L565.22 25.97 L566.21 25.94 L567.19 25.91 L568.17 25.88 L569.16 25.86 L570.14 25.84 L571.13 25.81 L572.12 25.79 L573.10 25.78 L574.09 25.76 L575.07 25.74 L576.06 25.73 L577.04 25.72 L578.02 25.70 L579.01 25.69 L580.00 25.68 L580.98 25.67 L581.97 25.66 L582.95 25.65 L583.94 25.64 L584.92 25.64 L585.90 25.63 L586.89 25.62 L587.88 25.62 L588.86 25.61 L589.85 25.61 L590.83 25.60 L591.82 25.60 L592.80 25.59 L593.78 25.59 L594.77 25.59 L595.75 25.58 L596.74 25.58 L597.73 25.58 L598.71 25.58 L599.70 25.57 L600.68 25.57 L601.66 25.57 L602.65 25.57 L603.63 25.56 L604.62 25.56 L605.61 25.56 L606.59 25.56 L607.58 25.56 L608.56 25.56 L609.55 25.56 L610.53 25.56 L611.51 25.55 L612.50 25.55" stroke="#1d8a8c" stroke-width="1.1" fill="none" />
<line x1="498.24" y1="91.00" x2="498.24" y2="97.04" stroke="#1d8a8c" stroke-width="0.6" />
<line x1="497.14" y1="91.00" x2="499.34" y2="91.00" stroke="#1d8a8c" stroke-width="0.6" />
<line x1="497.14" y1="97.04" x2="499.34" y2="97.04" stroke="#1d8a8c" stroke-width="0.6" />
<circle cx="498.24" cy="94.02" r="1.00" fill="#1d8a8c" stroke="none" stroke-width="0.5" />
<line x1="504.15" y1="66.83" x2="504.15" y2="76.90" stroke="#1d8a8c" stroke-width="0.6" />
<line x1="503.05" y1="66.83" x2="505.25" y2="66.83" stroke="#1d8a8c" stroke-width="0.6" />
<line x1="503.05" y1="76.90" x2="505.25" y2="76.90" stroke="#1d8a8c" stroke-width="0.6" />
<circle cx="504.15" cy="71.86" r="1.00" fill="#1d8a8c" stroke="none" stroke-width="0.5" />
<line x1="514.00" y1="39.64" x2="514.00" y2="51.72" stroke="#1d8a8c" stroke-width="0.6" />
<line x1="512.90" y1="39.64" x2="515.10" y2="39.64" stroke="#1d8a8c" stroke-width="0.6" />
<line x1="512.90" y1="51.72" x2="515.10" y2="51.72" stroke="#1d8a8c" stroke-width="0.6" />
<circle cx="514.00" cy="45.68" r="1.00" fill="#1d8a8c" stroke="none" stroke-width="0.5" />
<line x1="553.40" y1="25.54" x2="553.40" y2="29.57" stroke="#1d8a8c" stroke-width="0.6" />
<line x1="552.30" y1="25.54" x2="554.50" y2="25.54" stroke="#1d8a8c" stroke-width="0.6" />
<line x1="552.30" y1="29.57" x2="554.50" y2="29.57" stroke="#1d8a8c" stroke-width="0.6" />
<circle cx="553.40" cy="27.56" r="1.00" fill="#1d8a8c" stroke="none" stroke-width="0.5" />
<line x1="612.50" y1="23.53" x2="612.50" y2="27.56" stroke="#1d8a8c" stroke-width="0.6" />
<line x1="611.40" y1="23.53" x2="613.60" y2="23.53" stroke="#1d8a8c" stroke-width="0.6" />
<line x1="611.40" y1="27.56" x2="613.60" y2="27.56" stroke="#1d8a8c" stroke-width="0.6" />
<circle cx="612.50" cy="25.54" r="1.00" fill="#1d8a8c" stroke="none" stroke-width="0.5" />
<path d="M494.30 120.20 L495.29 113.08 L496.27 106.50 L497.25 100.43 L498.24 94.83 L499.23 89.66 L500.21 84.88 L501.19 80.48 L502.18 76.41 L503.17 72.65 L504.15 69.18 L505.13 65.98 L506.12 63.03 L507.11 60.30 L508.09 57.78 L509.07 55.46 L510.06 53.31 L511.05 51.33 L512.03 49.51 L513.01 47.82 L514.00 46.26 L514.99 44.82 L515.97 43.49 L516.96 42.27 L517.94 41.14 L518.92 40.09 L519.91 39.13 L520.89 38.24 L521.88 37.42 L522.87 36.66 L523.85 35.96 L524.84 35.31 L525.82 34.72 L526.81 34.17 L527.79 33.66 L528.77 33.19 L529.76 32.76 L530.75 32.36 L531.73 31.99 L532.72 31.65 L533.70 31.33 L534.69 31.04 L535.67 30.77 L536.65 30.53 L537.64 30.30 L538.62 30.09 L539.61 29.89 L540.60 29.71 L541.58 29.55 L542.57 29.39 L543.55 29.25 L544.53 29.12 L545.52 29.00 L546.50 28.89 L547.49 28.79 L548.48 28.69 L549.46 28.61 L550.45 28.53 L551.43 28.45 L552.41 28.38 L553.40 28.32 L554.38 28.26 L555.37 28.21 L556.36 28.16 L557.34 28.11 L558.33 28.07 L559.31 28.03 L560.30 27.99 L561.28 27.96 L562.26 27.93 L563.25 27.90 L564.24 27.87 L565.22 27.85 L566.21 27.83 L567.19 27.80 L568.17 27.79 L569.16 27.77 L570.14 27.75 L571.13 27.74 L572.12 27.72 L573.10 27.71 L574.09 27.70 L575.07 27.69 L576.06 27.68 L577.04 27.67 L578.02 27.66 L579.01 27.65 L580.00 27.64 L580.98 27.64 L581.97 27.63 L582.95 27.63 L583.94 27.62 L584.92 27.61 L585.90 27.61 L586.89 27.61 L587.88 27.60 L588.86 27.60 L589.85 27.60 L590.83 27.59 L591.82 27.59 L592.80 27.59 L593.78 27.58 L594.77 27.58 L595.75 27.58 L596.74 27.58 L597.73 27.58 L598.71 27.58 L599.70 27.57 L600.68 27.57 L601.66 27.57 L602.65 27.57 L603.63 27.57 L604.62 27.57 L605.61 27.57 L606.59 27.57 L607.58 27.57 L608.56 27.56 L609.55 27.56 L610.53 27.56 L611.51 27.56 L612.50 27.56" stroke="#3a67b0" stroke-width="1.1" fill="none" />
<line x1="498.24" y1="85.96" x2="498.24" y2="94.02" stroke="#3a67b0" stroke-width="0.6" />
<line x1="497.14" y1="85.96" x2="499.34" y2="85.96" stroke="#3a67b0" stroke-width="0.6" />
<line x1="497.14" y1="94.02" x2="499.34" y2="94.02" stroke="#3a67b0" stroke-width="0.6" />
<circle cx="498.24" cy="89.99" r="1.00" fill="#3a67b0" stroke="none" stroke-width="0.5" />
<line x1="504.15" y1="62.80" x2="504.15" y2="72.87" stroke="#3a67b0" stroke-width="0.6" />
<line x1="503.05" y1="62.80" x2="505.25" y2="62.80" stroke="#3a67b0" stroke-width="0.6" />
<line x1="503.05" y1="72.87" x2="505.25" y2="72.87" stroke="#3a67b0" stroke-width="0.6" />
<circle cx="504.15" cy="67.84" r="1.00" fill="#3a67b0" stroke="none" stroke-width="0.5" />
<line x1="514.00" y1="39.64" x2="514.00" y2="55.75" stroke="#3a67b0" stroke-width="0.6" />
<line x1="512.90" y1="39.64" x2="515.10" y2="39.64" stroke="#3a67b0" stroke-width="0.6" />
<line x1="512.90" y1="55.75" x2="515.10" y2="55.75" stroke="#3a67b0" stroke-width="0.6" />
<circle cx="514.00" cy="47.70" r="1.00" fill="#3a67b0" stroke="none" stroke-width="0.5" />
<line x1="553.40" y1="25.54" x2="553.40" y2="31.58" stroke="#3a67b0" stroke-width="0.6" />
<line x1="552.30" y1="25.54" x2="554.50" y2="25.54" stroke="#3a67b0" stroke-width="0.6" />
<line x1="552.30" y1="31.58" x2="554.50" y2="31.58" stroke="#3a67b0" stroke-width="0.6" />
<circle cx="553.40" cy="28.56" r="1.00" fill="#3a67b0" stroke="none" stroke-width="0.5" />
<line x1="612.50" y1="24.53" x2="612.50" y2="30.58" stroke="#3a67b0" stroke-width="0.6" />
<line x1="611.40" y1="24.53" x2="613.60" y2="24.53" stroke="#3a67b0" stroke-width="0.6" />
<line x1="611.40" y1="30.58" x2="613.60" y2="30.58" stroke="#3a67b0" stroke-width="0.6" />
<circle cx="612.50" cy="27.56" r="1.00" fill="#3a67b0" stroke="none" stroke-width="0.5" />
<path d="M494.30 120.20 L495.29 96.72 L496.27 78.88 L497.25 65.33 L498.24 55.04 L499.23 47.22 L500.21 41.28 L501.19 36.77 L502.18 33.34 L503.17 30.74 L504.15 28.77 L505.13 27.26 L506.12 26.12 L507.11 25.26 L508.09 24.60 L509.07 24.10 L510.06 23.72 L511.05 23.43 L512.03 23.21 L513.01 23.05 L514.00 22.92 L514.99 22.82 L515.97 22.75 L516.96 22.70 L517.94 22.65 L518.92 22.62 L519.91 22.60 L520.89 22.58 L521.88 22.57 L522.87 22.55 L523.85 22.55 L524.84 22.54 L525.82 22.54 L526.81 22.53 L527.79 22.53 L528.77 22.53 L529.76 22.53 L530.75 22.52 L531.73 22.52 L532.72 22.52 L533.70 22.52 L534.69 22.52 L535.67 22.52 L536.65 22.52 L537.64 22.52 L538.62 22.52 L539.61 22.52 L540.60 22.52 L541.58 22.52 L542.57 22.52 L543.55 22.52 L544.53 22.52 L545.52 22.52 L546.50 22.52 L547.49 22.52 L548.48 22.52 L549.46 22.52 L550.45 22.52 L551.43 22.52 L552.41 22.52 L553.40 22.52 L554.38 22.52 L555.37 22.52 L556.36 22.52 L557.34 22.52 L558.33 22.52 L559.31 22.52 L560.30 22.52 L561.28 22.52 L562.26 22.52 L563.25 22.52 L564.24 22.52 L565.22 22.52 L566.21 22.52 L567.19 22.52 L568.17 22.52 L569.16 22.52 L570.14 22.52 L571.13 22.52 L572.12 22.52 L573.10 22.52 L574.09 22.52 L575.07 22.52 L576.06 22.52 L577.04 22.52 L578.02 22.52 L579.01 22.52 L580.00 22.52 L580.98 22.52 L581.97 22.52 L582.95 22.52 L583.94 22.52 L584.92 22.52 L585.90 22.52 L586.89 22.52 L587.88 22.52 L588.86 22.52 L589.85 22.52 L590.83 22.52 L591.82 22.52 L592.80 22.52 L593.78 22.52 L594.77 22.52 L595.75 22.52 L596.74 22.52 L597.73 22.52 L598.71 22.52 L599.70 22.52 L600.68 22.52 L601.66 22.52 L602.65 22.52 L603.63 22.52 L604.62 22.52 L605.61 22.52 L606.59 22.52 L607.58 22.52 L608.56 22.52 L609.55 22.52 L610.53 22.52 L611.51 22.52 L612.50 22.52" stroke="#e8336e" stroke-width="1.1" fill="none" />
<line x1="498.24" y1="54.75" x2="498.24" y2="56.76" stroke="#e8336e" stroke-width="0.6" />
<line x1="497.14" y1="54.75" x2="499.34" y2="54.75" stroke="#e8336e" stroke-width="0.6" />
<line x1="497.14" y1="56.76" x2="499.34" y2="56.76" stroke="#e8336e" stroke-width="0.6" />
<circle cx="498.24" cy="55.75" r="1.00" fill="#e8336e" stroke="none" stroke-width="0.5" />
<line x1="504.15" y1="31.08" x2="504.15" y2="34.10" stroke="#e8336e" stroke-width="0.6" />
<line x1="503.05" y1="31.08" x2="505.25" y2="31.08" stroke="#e8336e" stroke-width="0.6" />
<line x1="503.05" y1="34.10" x2="505.25" y2="34.10" stroke="#e8336e" stroke-width="0.6" />
<circle cx="504.15" cy="32.59" r="1.00" fill="#e8336e" stroke="none" stroke-width="0.5" />
<line x1="514.00" y1="23.53" x2="514.00" y2="25.54" stroke="#e8336e" stroke-width="0.6" />
<line x1="512.90" y1="23.53" x2="515.10" y2="23.53" stroke="#e8336e" stroke-width="0.6" />
<line x1="512.90" y1="25.54" x2="515.10" y2="25.54" stroke="#e8336e" stroke-width="0.6" />
<circle cx="514.00" cy="24.54" r="1.00" fill="#e8336e" stroke="none" stroke-width="0.5" />
<line x1="553.40" y1="21.51" x2="553.40" y2="23.53" stroke="#e8336e" stroke-width="0.6" />
<line x1="552.30" y1="21.51" x2="554.50" y2="21.51" stroke="#e8336e" stroke-width="0.6" />
<line x1="552.30" y1="23.53" x2="554.50" y2="23.53" stroke="#e8336e" stroke-width="0.6" />
<circle cx="553.40" cy="22.52" r="1.00" fill="#e8336e" stroke="none" stroke-width="0.5" />
<line x1="612.50" y1="21.01" x2="612.50" y2="24.03" stroke="#e8336e" stroke-width="0.6" />
<line x1="611.40" y1="21.01" x2="613.60" y2="21.01" stroke="#e8336e" stroke-width="0.6" />
<line x1="611.40" y1="24.03" x2="613.60" y2="24.03" stroke="#e8336e" stroke-width="0.6" />
<circle cx="612.50" cy="22.52" r="1.00" fill="#e8336e" stroke="none" stroke-width="0.5" />
<line x1="626.30" y1="22.00" x2="636.80" y2="22.00" stroke="#3a67b0" stroke-width="0.8" />
<circle cx="631.50" cy="22.00" r="1.00" fill="#3a67b0" stroke="none" stroke-width="0.5" />
<text x="0" y="0" transform="translate(642.60,24.60) scale(1,1.07)" font-size="7.6" text-anchor="start" fill="#231f20" >DpbCas12e</text>
<line x1="626.30" y1="35.60" x2="636.80" y2="35.60" stroke="#e8336e" stroke-width="0.8" />
<circle cx="631.50" cy="35.60" r="1.00" fill="#e8336e" stroke="none" stroke-width="0.5" />
<text x="0" y="0" transform="translate(642.60,38.20) scale(1,1.07)" font-size="7.6" text-anchor="start" fill="#231f20" >PlmCas12e</text>
<line x1="626.30" y1="49.40" x2="636.80" y2="49.40" stroke="#1d8a8c" stroke-width="0.8" />
<circle cx="631.50" cy="49.40" r="1.00" fill="#1d8a8c" stroke="none" stroke-width="0.5" />
<text x="0" y="0" transform="translate(642.60,52.00) scale(1,1.07)" font-size="7.6" text-anchor="start" fill="#231f20" >OpbCas12e</text>
<line x1="626.30" y1="63.20" x2="636.80" y2="63.20" stroke="#5b2b9c" stroke-width="0.8" />
<circle cx="631.50" cy="63.20" r="1.00" fill="#5b2b9c" stroke="none" stroke-width="0.5" />
<text x="0" y="0" transform="translate(642.60,65.80) scale(1,1.07)" font-size="7.6" text-anchor="start" fill="#231f20" >Plm2Cas12e</text>
<line x1="626.30" y1="77.00" x2="636.80" y2="77.00" stroke="#a98ad8" stroke-width="0.8" />
<circle cx="631.50" cy="77.00" r="1.00" fill="#a98ad8" stroke="none" stroke-width="0.5" />
<text x="0" y="0" transform="translate(642.60,79.60) scale(1,1.07)" font-size="7.6" text-anchor="start" fill="#231f20" >LesCas12e</text>
<line x1="626.30" y1="90.30" x2="636.80" y2="90.30" stroke="#72cff2" stroke-width="0.8" />
<circle cx="631.50" cy="90.30" r="1.00" fill="#72cff2" stroke="none" stroke-width="0.5" />
<text x="0" y="0" transform="translate(642.60,92.90) scale(1,1.07)" font-size="7.6" text-anchor="start" fill="#231f20" >VemCas12e</text>
<line x1="626.30" y1="104.00" x2="636.80" y2="104.00" stroke="#111111" stroke-width="0.8" />
<circle cx="631.50" cy="104.00" r="1.00" fill="#111111" stroke="none" stroke-width="0.5" />
<text x="0" y="0" transform="translate(642.60,106.60) scale(1,1.07)" font-size="7.6" text-anchor="start" fill="#231f20" >CkbCas12e</text>
<line x1="626.30" y1="117.90" x2="636.80" y2="117.90" stroke="#f4a07a" stroke-width="0.8" />
<circle cx="631.50" cy="117.90" r="1.00" fill="#f4a07a" stroke="none" stroke-width="0.5" />
<text x="0" y="0" transform="translate(642.60,120.50) scale(1,1.07)" font-size="7.6" text-anchor="start" fill="#231f20" >HrbCas12e</text>
<path d="M383.30 41.10 C385.27 38.88 388.78 37.95 392.40 36.90 C396.02 35.85 400.78 35.38 405.00 34.80 C409.22 34.22 414.20 33.62 417.70 33.40 C421.20 33.18 423.90 33.03 426.00 33.50 C428.10 33.97 429.23 34.58 430.30 36.20 C431.37 37.82 432.17 40.73 432.40 43.20 C432.63 45.67 432.27 48.97 431.70 51.00 C431.13 53.03 431.62 54.57 429.00 55.40 C426.38 56.23 420.33 55.85 416.00 56.00 C411.67 56.15 405.63 55.87 403.00 56.30 C400.37 56.73 400.20 57.83 400.20 58.60 C400.20 59.37 400.37 60.50 403.00 60.90 C405.63 61.30 411.67 61.08 416.00 61.00 C420.33 60.92 425.80 59.97 429.00 60.40 C432.20 60.83 433.93 61.92 435.20 63.60 C436.47 65.28 436.80 68.35 436.60 70.50 C436.40 72.65 435.77 74.82 434.00 76.50 C432.23 78.18 429.67 79.48 426.00 80.60 C422.33 81.72 416.67 82.87 412.00 83.20 C407.33 83.53 402.20 83.17 398.00 82.60 C393.80 82.03 389.83 81.10 386.80 79.80 C383.77 78.50 381.32 76.93 379.80 74.80 C378.28 72.67 377.93 69.70 377.70 67.00 C377.47 64.30 377.92 61.40 378.40 58.60 C378.88 55.80 379.78 53.12 380.60 50.20 C381.42 47.28 381.33 43.32 383.30 41.10 Z" fill="url(#cyan)" stroke="none"/>
<line x1="372.00" y1="55.00" x2="382.00" y2="55.00" stroke="#aaa" stroke-width="0.9" />
<line x1="372.00" y1="59.20" x2="382.00" y2="59.20" stroke="#444" stroke-width="0.9" />
<path d="M382 55 C385 55 386 49.4 390 49.4 L422 49.4 C426 49.4 426 55 429 55" stroke="#444" stroke-width="0.9" fill="none" />
<path d="M382 59.2 C385 59.2 386 64.4 390 64.4 L420 64.4 C424 64.4 424 59.2 428 59.2" stroke="#444" stroke-width="0.9" fill="none" />
<line x1="429.00" y1="55.00" x2="440.50" y2="55.00" stroke="#aaa" stroke-width="0.9" />
<line x1="432.00" y1="59.20" x2="440.50" y2="59.20" stroke="#aaa" stroke-width="0.9" />
<path d="M421.5 62.2 L391 62.2 C389 62.2 389 64 391 65 L410 80 C412 82 410 84 408 82 L386 67 C384 66 383 68 384 70 L386 86 C386 89 383 89 383 86 L382 74 L379 78" stroke="#f2b441" stroke-width="0.8" fill="none" />
<line x1="393.00" y1="62.60" x2="393.00" y2="64.20" stroke="#333" stroke-width="0.5" />
<line x1="395.60" y1="62.60" x2="395.60" y2="64.20" stroke="#333" stroke-width="0.5" />
<line x1="398.20" y1="62.60" x2="398.20" y2="64.20" stroke="#333" stroke-width="0.5" />
<line x1="400.80" y1="62.60" x2="400.80" y2="64.20" stroke="#333" stroke-width="0.5" />
<line x1="403.40" y1="62.60" x2="403.40" y2="64.20" stroke="#333" stroke-width="0.5" />
<line x1="406.00" y1="62.60" x2="406.00" y2="64.20" stroke="#333" stroke-width="0.5" />
<line x1="408.60" y1="62.60" x2="408.60" y2="64.20" stroke="#333" stroke-width="0.5" />
<line x1="411.20" y1="62.60" x2="411.20" y2="64.20" stroke="#333" stroke-width="0.5" />
<line x1="413.80" y1="62.60" x2="413.80" y2="64.20" stroke="#333" stroke-width="0.5" />
<line x1="416.40" y1="62.60" x2="416.40" y2="64.20" stroke="#333" stroke-width="0.5" />
<line x1="419.00" y1="62.60" x2="419.00" y2="64.20" stroke="#333" stroke-width="0.5" />
<line x1="415.60" y1="46.60" x2="415.60" y2="48.60" stroke="#e4424a" stroke-width="0.8" />
<line x1="431.40" y1="60.60" x2="431.40" y2="62.60" stroke="#e4424a" stroke-width="0.8" />
<line x1="382.00" y1="55.00" x2="384.50" y2="55.00" stroke="#3bb36a" stroke-width="0.9" />
<line x1="382.00" y1="59.20" x2="384.50" y2="59.20" stroke="#3bb36a" stroke-width="0.9" />
<circle cx="417.70" cy="70.00" r="3.20" fill="#f05a5a" stroke="none" stroke-width="0.5" filter="url(#b1)" opacity="0.55"/>
<path d="M421 82 C425 74 432 71 440 71.2" stroke="#c33" stroke-width="0.7" fill="none" />
<path d="M444.5 71.2 L440 69.4 L440 73 Z" stroke="none" stroke-width="0.8" fill="#e33" />
<circle cx="430.60" cy="89.60" r="5.20" fill="#f47a5a" stroke="none" stroke-width="0.5" filter="url(#b1)" opacity="0.55"/>
<circle cx="430.60" cy="89.60" r="3.30" fill="#f0573e" stroke="none" stroke-width="0.5" />
<line x1="418.00" y1="89.60" x2="427.50" y2="89.60" stroke="#333" stroke-width="0.7" stroke-dasharray="0.8 0.4"/>
<circle cx="463.40" cy="76.90" r="5.20" fill="#f47a5a" stroke="none" stroke-width="0.5" filter="url(#b1)" opacity="0.55"/>
<circle cx="463.40" cy="76.90" r="3.30" fill="#f0573e" stroke="none" stroke-width="0.5" />
<line x1="455.50" y1="76.70" x2="460.00" y2="76.70" stroke="#333" stroke-width="0.6" />
<path d="M446.5 78 L449.5 76 L448.5 75.5 L450.5 75.6" stroke="#333" stroke-width="0.7" fill="none" />
<text x="0" y="0" transform="translate(417.80,111.30) scale(1,1.07)" font-size="7.6" text-anchor="middle" fill="#231f20" >ssDNA <tspan font-style="italic">trans</tspan>-cleavage</text>
<text x="-0.40" y="163.70" font-size="13.5" text-anchor="start" font-weight="bold" fill="#000" >c</text>
<text x="0" y="0" transform="translate(50.50,180.50) scale(1,1.07)" font-size="7.6" text-anchor="end" fill="#231f20" >Protein</text>
<text x="0" y="0" transform="translate(50.50,191.30) scale(1,1.07)" font-size="7.6" text-anchor="end" fill="#231f20" >NaCl</text>
<text x="0" y="0" transform="translate(50.50,202.30) scale(1,1.07)" font-size="7.6" text-anchor="end" fill="#231f20" >Time/min</text>
<text x="0" y="0" transform="translate(131.00,180.30) scale(1,1.07)" font-size="7.6" text-anchor="middle" fill="#231f20" >PlmCas12e</text>
<line x1="57.20" y1="182.40" x2="204.10" y2="182.40" stroke="#231f20" stroke-width="0.75" />
<line x1="57.20" y1="193.10" x2="104.90" y2="193.10" stroke="#231f20" stroke-width="0.75" />
<text x="0" y="0" transform="translate(81.05,191.10) scale(1,1.07)" font-size="7.6" text-anchor="middle" fill="#231f20" >25 mM</text>
<line x1="106.60" y1="193.10" x2="154.00" y2="193.10" stroke="#231f20" stroke-width="0.75" />
<text x="0" y="0" transform="translate(130.30,191.10) scale(1,1.07)" font-size="7.6" text-anchor="middle" fill="#231f20" >150 mM</text>
<line x1="156.00" y1="193.10" x2="204.10" y2="193.10" stroke="#231f20" stroke-width="0.75" />
<text x="0" y="0" transform="translate(180.05,191.10) scale(1,1.07)" font-size="7.6" text-anchor="middle" fill="#231f20" >400 mM</text>
<text x="0" y="0" transform="translate(57.50,202.00) scale(1,1.07)" font-size="7.6" text-anchor="start" fill="#231f20" >0</text>
<text x="0" y="0" transform="translate(105.10,202.00) scale(1,1.07)" font-size="7.6" text-anchor="end" fill="#231f20" >60</text>
<text x="0" y="0" transform="translate(107.00,202.00) scale(1,1.07)" font-size="7.6" text-anchor="start" fill="#231f20" >0</text>
<text x="0" y="0" transform="translate(153.90,202.00) scale(1,1.07)" font-size="7.6" text-anchor="end" fill="#231f20" >60</text>
<text x="0" y="0" transform="translate(156.30,202.00) scale(1,1.07)" font-size="7.6" text-anchor="start" fill="#231f20" >0</text>
<text x="0" y="0" transform="translate(206.30,202.00) scale(1,1.07)" font-size="7.6" text-anchor="end" fill="#231f20" >60</text>
<path d="M57.50 210.1 L104.80 203.5 L104.80 210.1 Z" stroke="#231f20" stroke-width="0.65" fill="none" stroke-linejoin="miter"/>
<path d="M107.00 210.1 L154.00 203.5 L154.00 210.1 Z" stroke="#231f20" stroke-width="0.65" fill="none" stroke-linejoin="miter"/>
<path d="M156.50 210.1 L204.30 203.5 L204.30 210.1 Z" stroke="#231f20" stroke-width="0.65" fill="none" stroke-linejoin="miter"/>
<rect x="56.70" y="212.40" width="152.80" height="74.90" fill="#ffffff" stroke="#4a4141" stroke-width="0.9" />
<text x="0" y="0" transform="translate(210.00,222.90) scale(1,1.07)" font-size="7.8" text-anchor="start" fill="#231f20" >-55 nt</text>
<text x="0" y="0" transform="translate(10.20,223.30) scale(1,1.07)" font-size="7.6" text-anchor="start" fill="#231f20" >5'</text>
<line x1="16.60" y1="220.70" x2="35.50" y2="220.70" stroke="#e5232b" stroke-width="1.2" />
<circle cx="36.90" cy="220.70" r="2.90" fill="#e5232b" stroke="none" stroke-width="0.5" />
<text x="0" y="0" transform="translate(39.70,223.30) scale(1,1.07)" font-size="7.6" text-anchor="start" fill="#231f20" >3' S</text>
<text x="0" y="0" transform="translate(10.20,265.40) scale(1,1.07)" font-size="7.6" text-anchor="start" fill="#231f20" >5'</text>
<line x1="16.60" y1="262.70" x2="35.50" y2="262.70" stroke="#3a3a3a" stroke-width="1.25" stroke-dasharray="6.5 1.6 2.6 1.6 2.6 1.6"/>
<circle cx="36.90" cy="262.80" r="2.90" fill="#e5232b" stroke="none" stroke-width="0.5" />
<text x="0" y="0" transform="translate(39.70,265.40) scale(1,1.07)" font-size="7.6" text-anchor="start" fill="#231f20" >3' P</text>
<line x1="54.10" y1="247.40" x2="54.10" y2="282.20" stroke="#231f20" stroke-width="0.8" />
<rect x="57.60" y="220.00" width="6.40" height="2.20" fill="#000" stroke="none" stroke-width="0.8" rx="0.8" filter="url(#b05)"/>
<rect x="66.40" y="220.60" width="5.00" height="1.20" fill="#111" stroke="none" stroke-width="0.8" rx="1.2" opacity="0.13" filter="url(#b09)"/>
<rect x="74.50" y="220.60" width="5.00" height="1.20" fill="#111" stroke="none" stroke-width="0.8" rx="1.2" opacity="0.13" filter="url(#b09)"/>
<rect x="82.60" y="220.60" width="5.00" height="1.20" fill="#111" stroke="none" stroke-width="0.8" rx="1.2" opacity="0.13" filter="url(#b09)"/>
<rect x="105.70" y="219.60" width="6.40" height="2.20" fill="#000" stroke="none" stroke-width="0.8" rx="0.8" filter="url(#b05)"/>
<rect x="114.78" y="220.40" width="5.00" height="1.20" fill="#111" stroke="none" stroke-width="0.8" rx="1.2" opacity="0.17" filter="url(#b09)"/>
<rect x="123.16" y="220.40" width="5.00" height="1.20" fill="#111" stroke="none" stroke-width="0.8" rx="1.2" opacity="0.09" filter="url(#b09)"/>
<rect x="131.54" y="220.40" width="5.00" height="1.20" fill="#111" stroke="none" stroke-width="0.8" rx="1.2" opacity="0.09" filter="url(#b09)"/>
<rect x="155.80" y="218.90" width="6.00" height="2.10" fill="#000" stroke="none" stroke-width="0.8" rx="0.8" filter="url(#b05)"/>
<rect x="164.38" y="218.90" width="6.00" height="2.10" fill="#000" stroke="none" stroke-width="0.8" rx="0.8" filter="url(#b05)"/>
<rect x="172.96" y="218.90" width="6.00" height="2.10" fill="#000" stroke="none" stroke-width="0.8" rx="0.8" filter="url(#b05)"/>
<rect x="181.54" y="218.90" width="6.00" height="2.10" fill="#000" stroke="none" stroke-width="0.8" rx="0.8" filter="url(#b05)"/>
<rect x="190.12" y="218.90" width="6.00" height="2.10" fill="#000" stroke="none" stroke-width="0.8" rx="0.8" filter="url(#b05)"/>
<rect x="198.70" y="218.90" width="6.00" height="2.10" fill="#000" stroke="none" stroke-width="0.8" rx="0.8" filter="url(#b05)"/>
<rect x="58.80" y="222.00" width="4.00" height="12.00" fill="#888" stroke="none" stroke-width="0.8" opacity="0.07" filter="url(#b08)"/>
<rect x="106.90" y="222.00" width="4.00" height="12.00" fill="#888" stroke="none" stroke-width="0.8" opacity="0.07" filter="url(#b08)"/>
<rect x="157.30" y="222.00" width="3.00" height="20.00" fill="#999" stroke="none" stroke-width="0.8" opacity="0.05" filter="url(#b08)"/>
<rect x="165.88" y="222.00" width="3.00" height="20.00" fill="#999" stroke="none" stroke-width="0.8" opacity="0.05" filter="url(#b08)"/>
<rect x="174.46" y="222.00" width="3.00" height="20.00" fill="#999" stroke="none" stroke-width="0.8" opacity="0.05" filter="url(#b08)"/>
<rect x="183.04" y="222.00" width="3.00" height="20.00" fill="#999" stroke="none" stroke-width="0.8" opacity="0.05" filter="url(#b08)"/>
<rect x="191.62" y="222.00" width="3.00" height="20.00" fill="#999" stroke="none" stroke-width="0.8" opacity="0.05" filter="url(#b08)"/>
<rect x="200.20" y="222.00" width="3.00" height="20.00" fill="#999" stroke="none" stroke-width="0.8" opacity="0.05" filter="url(#b08)"/>
<rect x="65.90" y="266.25" width="6.00" height="2.50" fill="#111" stroke="none" stroke-width="0.8" rx="1.2" opacity="0.13" filter="url(#b09)"/>
<rect x="65.90" y="271.45" width="6.00" height="2.50" fill="#111" stroke="none" stroke-width="0.8" rx="1.2" opacity="0.33" filter="url(#b09)"/>
<rect x="65.90" y="276.45" width="6.00" height="2.50" fill="#111" stroke="none" stroke-width="0.8" rx="1.2" opacity="0.66" filter="url(#b09)"/>
<rect x="74.00" y="253.35" width="6.00" height="2.50" fill="#111" stroke="none" stroke-width="0.8" rx="1.2" opacity="0.07" filter="url(#b09)"/>
<rect x="74.00" y="264.45" width="6.00" height="2.50" fill="#111" stroke="none" stroke-width="0.8" rx="1.2" opacity="0.24" filter="url(#b09)"/>
<rect x="74.00" y="271.45" width="6.00" height="2.50" fill="#111" stroke="none" stroke-width="0.8" rx="1.2" opacity="0.72" filter="url(#b09)"/>
<rect x="74.00" y="276.45" width="6.00" height="2.50" fill="#111" stroke="none" stroke-width="0.8" rx="1.2" opacity="0.50" filter="url(#b09)"/>
<rect x="82.10" y="253.35" width="6.00" height="2.50" fill="#111" stroke="none" stroke-width="0.8" rx="1.2" opacity="0.17" filter="url(#b09)"/>
<rect x="82.10" y="264.45" width="6.00" height="2.50" fill="#111" stroke="none" stroke-width="0.8" rx="1.2" opacity="0.28" filter="url(#b09)"/>
<rect x="82.10" y="271.45" width="6.00" height="2.50" fill="#111" stroke="none" stroke-width="0.8" rx="1.2" opacity="0.72" filter="url(#b09)"/>
<rect x="82.10" y="276.45" width="6.00" height="2.50" fill="#111" stroke="none" stroke-width="0.8" rx="1.2" opacity="0.13" filter="url(#b09)"/>
<rect x="90.20" y="253.35" width="6.00" height="2.50" fill="#111" stroke="none" stroke-width="0.8" rx="1.2" opacity="0.44" filter="url(#b09)"/>
<rect x="90.20" y="264.45" width="6.00" height="2.50" fill="#111" stroke="none" stroke-width="0.8" rx="1.2" opacity="0.39" filter="url(#b09)"/>
<rect x="90.20" y="271.45" width="6.00" height="2.50" fill="#111" stroke="none" stroke-width="0.8" rx="1.2" opacity="0.13" filter="url(#b09)"/>
<rect x="98.30" y="253.35" width="6.00" height="2.50" fill="#111" stroke="none" stroke-width="0.8" rx="1.2" opacity="0.66" filter="url(#b09)"/>
<rect x="98.30" y="264.45" width="6.00" height="2.50" fill="#111" stroke="none" stroke-width="0.8" rx="1.2" opacity="0.50" filter="url(#b09)"/>
<rect x="98.30" y="271.45" width="6.00" height="2.50" fill="#111" stroke="none" stroke-width="0.8" rx="1.2" opacity="0.09" filter="url(#b09)"/>
<rect x="114.28" y="265.15" width="6.00" height="2.50" fill="#111" stroke="none" stroke-width="0.8" rx="1.2" opacity="0.50" filter="url(#b09)"/>
<rect x="114.28" y="270.25" width="6.00" height="2.50" fill="#111" stroke="none" stroke-width="0.8" rx="1.2" opacity="0.20" filter="url(#b09)"/>
<rect x="114.28" y="275.85" width="6.00" height="2.50" fill="#111" stroke="none" stroke-width="0.8" rx="1.2" opacity="0.72" filter="url(#b09)"/>
<rect x="122.66" y="252.45" width="6.00" height="2.50" fill="#111" stroke="none" stroke-width="0.8" rx="1.2" opacity="0.17" filter="url(#b09)"/>
<rect x="122.66" y="265.15" width="6.00" height="2.50" fill="#111" stroke="none" stroke-width="0.8" rx="1.2" opacity="0.24" filter="url(#b09)"/>
<rect x="122.66" y="270.25" width="6.00" height="2.50" fill="#111" stroke="none" stroke-width="0.8" rx="1.2" opacity="0.68" filter="url(#b09)"/>
<rect x="122.66" y="275.85" width="6.00" height="2.50" fill="#111" stroke="none" stroke-width="0.8" rx="1.2" opacity="0.61" filter="url(#b09)"/>
<rect x="131.04" y="252.45" width="6.00" height="2.50" fill="#111" stroke="none" stroke-width="0.8" rx="1.2" opacity="0.33" filter="url(#b09)"/>
<rect x="131.04" y="265.15" width="6.00" height="2.50" fill="#111" stroke="none" stroke-width="0.8" rx="1.2" opacity="0.39" filter="url(#b09)"/>
<rect x="131.04" y="270.25" width="6.00" height="2.50" fill="#111" stroke="none" stroke-width="0.8" rx="1.2" opacity="0.66" filter="url(#b09)"/>
<rect x="131.04" y="275.85" width="6.00" height="2.50" fill="#111" stroke="none" stroke-width="0.8" rx="1.2" opacity="0.11" filter="url(#b09)"/>
<rect x="139.42" y="252.45" width="6.00" height="2.50" fill="#111" stroke="none" stroke-width="0.8" rx="1.2" opacity="0.55" filter="url(#b09)"/>
<rect x="139.42" y="263.35" width="6.00" height="2.50" fill="#111" stroke="none" stroke-width="0.8" rx="1.2" opacity="0.46" filter="url(#b09)"/>
<rect x="139.42" y="269.95" width="6.00" height="2.50" fill="#111" stroke="none" stroke-width="0.8" rx="1.2" opacity="0.13" filter="url(#b09)"/>
<rect x="147.80" y="252.45" width="6.00" height="2.50" fill="#111" stroke="none" stroke-width="0.8" rx="1.2" opacity="0.68" filter="url(#b09)"/>
<rect x="147.80" y="263.35" width="6.00" height="2.50" fill="#111" stroke="none" stroke-width="0.8" rx="1.2" opacity="0.55" filter="url(#b09)"/>
<rect x="199.45" y="252.60" width="4.50" height="1.80" fill="#111" stroke="none" stroke-width="0.8" rx="1.2" opacity="0.28" filter="url(#b09)"/>
<rect x="199.45" y="257.10" width="4.50" height="1.80" fill="#111" stroke="none" stroke-width="0.8" rx="1.2" opacity="0.09" filter="url(#b09)"/>
<rect x="199.45" y="263.60" width="4.50" height="1.80" fill="#111" stroke="none" stroke-width="0.8" rx="1.2" opacity="0.24" filter="url(#b09)"/>
<rect x="199.45" y="269.10" width="4.50" height="1.80" fill="#111" stroke="none" stroke-width="0.8" rx="1.2" opacity="0.28" filter="url(#b09)"/>
<rect x="199.45" y="274.60" width="4.50" height="1.80" fill="#111" stroke="none" stroke-width="0.8" rx="1.2" opacity="0.31" filter="url(#b09)"/>
<rect x="190.87" y="263.60" width="4.50" height="1.80" fill="#111" stroke="none" stroke-width="0.8" rx="1.2" opacity="0.09" filter="url(#b09)"/>
<rect x="190.87" y="269.10" width="4.50" height="1.80" fill="#111" stroke="none" stroke-width="0.8" rx="1.2" opacity="0.13" filter="url(#b09)"/>
<rect x="190.87" y="274.60" width="4.50" height="1.80" fill="#111" stroke="none" stroke-width="0.8" rx="1.2" opacity="0.24" filter="url(#b09)"/>
<rect x="182.29" y="274.60" width="4.50" height="1.80" fill="#111" stroke="none" stroke-width="0.8" rx="1.2" opacity="0.09" filter="url(#b09)"/>
<text x="235.40" y="163.10" font-size="13.5" text-anchor="start" font-weight="bold" fill="#000" >d</text>
<line x1="287.20" y1="161.40" x2="390.70" y2="161.40" stroke="#9a9a9a" stroke-width="1.1" />
<line x1="287.20" y1="172.40" x2="390.70" y2="172.40" stroke="#9a9a9a" stroke-width="1.1" />
<line x1="287.20" y1="183.80" x2="390.70" y2="183.80" stroke="#9a9a9a" stroke-width="1.1" />
<line x1="324.50" y1="161.40" x2="324.50" y2="183.80" stroke="#333" stroke-width="0.7" />
<text x="0" y="0" transform="translate(320.50,170.40) scale(1,1.07)" font-size="7.6" text-anchor="end" fill="#231f20" >actiator</text>
<text x="0" y="0" transform="translate(320.50,182.00) scale(1,1.07)" font-size="7.6" text-anchor="end" fill="#231f20" >dsDNA</text>
<text x="0" y="0" transform="translate(333.30,170.40) scale(1,1.07)" font-size="7.6" text-anchor="start" fill="#231f20" ><tspan font-style="italic">k</tspan><tspan font-style="italic" font-size="4.6" dy="1.2">cat</tspan><tspan dy="-1.2">/</tspan><tspan font-style="italic">K</tspan><tspan font-style="italic" font-size="4.6" dy="1.2">m</tspan><tspan dy="-1.2"> (sec</tspan><tspan font-size="4.6" dy="-2.6">-1</tspan><tspan dy="2.6"> M</tspan><tspan font-size="4.6" dy="-2.6">-1</tspan><tspan dy="2.6">)</tspan></text>
<text x="0" y="0" transform="translate(333.80,182.00) scale(1,1.07)" font-size="7.6" text-anchor="start" fill="#231f20" >2.98±0.09 x 10<tspan font-size="4.6" dy="-2.6">5</tspan></text>
<line x1="274.20" y1="197.50" x2="274.20" y2="286.80" stroke="#231f20" stroke-width="0.85" />
<line x1="273.80" y1="286.40" x2="408.50" y2="286.40" stroke="#231f20" stroke-width="0.85" />
<line x1="272.20" y1="286.40" x2="274.20" y2="286.40" stroke="#231f20" stroke-width="0.7" />
<text x="0" y="0" transform="translate(271.60,288.90) scale(1,1.07)" font-size="7.6" text-anchor="end" fill="#231f20" >0.00</text>
<line x1="272.20" y1="268.68" x2="274.20" y2="268.68" stroke="#231f20" stroke-width="0.7" />
<text x="0" y="0" transform="translate(271.60,271.18) scale(1,1.07)" font-size="7.6" text-anchor="end" fill="#231f20" >0.05</text>
<line x1="272.20" y1="250.96" x2="274.20" y2="250.96" stroke="#231f20" stroke-width="0.7" />
<text x="0" y="0" transform="translate(271.60,253.46) scale(1,1.07)" font-size="7.6" text-anchor="end" fill="#231f20" >0.10</text>
<line x1="272.20" y1="233.24" x2="274.20" y2="233.24" stroke="#231f20" stroke-width="0.7" />
<text x="0" y="0" transform="translate(271.60,235.74) scale(1,1.07)" font-size="7.6" text-anchor="end" fill="#231f20" >0.15</text>
<line x1="272.20" y1="215.52" x2="274.20" y2="215.52" stroke="#231f20" stroke-width="0.7" />
<text x="0" y="0" transform="translate(271.60,218.02) scale(1,1.07)" font-size="7.6" text-anchor="end" fill="#231f20" >0.20</text>
<line x1="272.20" y1="197.80" x2="274.20" y2="197.80" stroke="#231f20" stroke-width="0.7" />
<text x="0" y="0" transform="translate(271.60,200.30) scale(1,1.07)" font-size="7.6" text-anchor="end" fill="#231f20" >0.25</text>
<line x1="274.20" y1="286.40" x2="274.20" y2="288.40" stroke="#231f20" stroke-width="0.7" />
<text x="0" y="0" transform="translate(274.20,295.60) scale(1,1.07)" font-size="7.6" text-anchor="middle" fill="#231f20" >0</text>
<line x1="301.00" y1="286.40" x2="301.00" y2="288.40" stroke="#231f20" stroke-width="0.7" />
<text x="0" y="0" transform="translate(301.00,295.60) scale(1,1.07)" font-size="7.6" text-anchor="middle" fill="#231f20" >200</text>
<line x1="327.80" y1="286.40" x2="327.80" y2="288.40" stroke="#231f20" stroke-width="0.7" />
<text x="0" y="0" transform="translate(327.80,295.60) scale(1,1.07)" font-size="7.6" text-anchor="middle" fill="#231f20" >400</text>
<line x1="354.60" y1="286.40" x2="354.60" y2="288.40" stroke="#231f20" stroke-width="0.7" />
<text x="0" y="0" transform="translate(354.60,295.60) scale(1,1.07)" font-size="7.6" text-anchor="middle" fill="#231f20" >600</text>
<line x1="381.40" y1="286.40" x2="381.40" y2="288.40" stroke="#231f20" stroke-width="0.7" />
<text x="0" y="0" transform="translate(381.40,295.60) scale(1,1.07)" font-size="7.6" text-anchor="middle" fill="#231f20" >800</text>
<line x1="408.20" y1="286.40" x2="408.20" y2="288.40" stroke="#231f20" stroke-width="0.7" />
<text x="0" y="0" transform="translate(408.20,295.60) scale(1,1.07)" font-size="7.6" text-anchor="middle" fill="#231f20" >1000</text>
<line x1="287.60" y1="286.40" x2="287.60" y2="287.60" stroke="#231f20" stroke-width="0.6" />
<line x1="314.40" y1="286.40" x2="314.40" y2="287.60" stroke="#231f20" stroke-width="0.6" />
<line x1="341.20" y1="286.40" x2="341.20" y2="287.60" stroke="#231f20" stroke-width="0.6" />
<line x1="368.00" y1="286.40" x2="368.00" y2="287.60" stroke="#231f20" stroke-width="0.6" />
<line x1="394.80" y1="286.40" x2="394.80" y2="287.60" stroke="#231f20" stroke-width="0.6" />
<text x="0" y="0" transform="translate(347.90,305.30) scale(1,1.07)" font-size="7.6" text-anchor="middle" fill="#231f20" >Substrate (10<tspan font-size="4.6" dy="-2.6">-9</tspan><tspan dy="2.6"> M)</tspan></text>
<text x="0" y="0" font-size="7.6" text-anchor="middle" fill="#231f20" transform="translate(252.5,239.5) rotate(-90) scale(1,1.07)">V<tspan font-size="4.6" dy="1.2">0</tspan><tspan dy="-1.2">(x10</tspan><tspan font-size="4.6" dy="-2.6">-9</tspan><tspan dy="2.6"> M sec</tspan><tspan font-size="4.6" dy="-2.6">-1</tspan><tspan dy="2.6">)</tspan></text>
<path d="M274.20 286.40 L275.54 285.40 L276.88 284.42 L278.22 283.44 L279.56 282.48 L280.90 281.53 L282.24 280.59 L283.58 279.66 L284.92 278.73 L286.26 277.82 L287.60 276.92 L288.94 276.03 L290.28 275.15 L291.62 274.27 L292.96 273.41 L294.30 272.56 L295.64 271.71 L296.98 270.87 L298.32 270.05 L299.66 269.23 L301.00 268.42 L302.34 267.61 L303.68 266.82 L305.02 266.03 L306.36 265.25 L307.70 264.48 L309.04 263.72 L310.38 262.96 L311.72 262.22 L313.06 261.48 L314.40 260.74 L315.74 260.02 L317.08 259.30 L318.42 258.58 L319.76 257.88 L321.10 257.18 L322.44 256.49 L323.78 255.80 L325.12 255.12 L326.46 254.45 L327.80 253.78 L329.14 253.12 L330.48 252.47 L331.82 251.82 L333.16 251.18 L334.50 250.54 L335.84 249.91 L337.18 249.28 L338.52 248.67 L339.86 248.05 L341.20 247.44 L342.54 246.84 L343.88 246.24 L345.22 245.65 L346.56 245.06 L347.90 244.48 L349.24 243.90 L350.58 243.33 L351.92 242.76 L353.26 242.20 L354.60 241.64 L355.94 241.09 L357.28 240.54 L358.62 240.00 L359.96 239.46 L361.30 238.92 L362.64 238.39 L363.98 237.87 L365.32 237.35 L366.66 236.83 L368.00 236.32 L369.34 235.81 L370.68 235.30 L372.02 234.80 L373.36 234.31 L374.70 233.81 L376.04 233.33 L377.38 232.84 L378.72 232.36 L380.06 231.88 L381.40 231.41 L382.74 230.94 L384.08 230.47 L385.42 230.01 L386.76 229.55 L388.10 229.10 L389.44 228.65 L390.78 228.20 L392.12 227.75 L393.46 227.31 L394.80 226.87 L396.14 226.44 L397.48 226.01 L398.82 225.58 L400.16 225.15 L401.50 224.73 L402.84 224.31 L404.18 223.90 L405.52 223.48 L406.86 223.07 L408.20 222.67" stroke="#111" stroke-width="0.9" fill="none" />
<circle cx="274.87" cy="285.69" r="1.20" fill="#111" stroke="none" stroke-width="0.5" />
<circle cx="275.81" cy="284.98" r="1.20" fill="#111" stroke="none" stroke-width="0.5" />
<circle cx="277.55" cy="284.27" r="1.20" fill="#111" stroke="none" stroke-width="0.5" />
<circle cx="280.90" cy="282.15" r="1.20" fill="#111" stroke="none" stroke-width="0.5" />
<circle cx="287.60" cy="277.19" r="1.20" fill="#111" stroke="none" stroke-width="0.5" />
<line x1="301.00" y1="266.55" x2="301.00" y2="268.68" stroke="#111" stroke-width="0.7" />
<line x1="299.40" y1="266.55" x2="302.60" y2="266.55" stroke="#111" stroke-width="0.7" />
<line x1="299.40" y1="268.68" x2="302.60" y2="268.68" stroke="#111" stroke-width="0.7" />
<circle cx="301.00" cy="267.62" r="1.20" fill="#111" stroke="none" stroke-width="0.5" />
<line x1="341.20" y1="244.40" x2="341.20" y2="250.43" stroke="#111" stroke-width="0.7" />
<line x1="339.60" y1="244.40" x2="342.80" y2="244.40" stroke="#111" stroke-width="0.7" />
<line x1="339.60" y1="250.43" x2="342.80" y2="250.43" stroke="#111" stroke-width="0.7" />
<circle cx="341.20" cy="247.42" r="1.20" fill="#111" stroke="none" stroke-width="0.5" />
<line x1="408.20" y1="214.10" x2="408.20" y2="231.11" stroke="#111" stroke-width="0.7" />
<line x1="406.60" y1="214.10" x2="409.80" y2="214.10" stroke="#111" stroke-width="0.7" />
<line x1="406.60" y1="231.11" x2="409.80" y2="231.11" stroke="#111" stroke-width="0.7" />
<circle cx="408.20" cy="222.61" r="1.20" fill="#111" stroke="none" stroke-width="0.5" />
<line x1="322.80" y1="199.00" x2="331.50" y2="199.00" stroke="#111" stroke-width="0.8" />
<circle cx="327.10" cy="199.00" r="1.20" fill="#111" stroke="none" stroke-width="0.5" />
<text x="0" y="0" transform="translate(333.60,201.60) scale(1,1.07)" font-size="7.6" text-anchor="start" fill="#231f20" >PlmCas12e-50 mM NaCl</text>
<text x="425.30" y="163.60" font-size="13.5" text-anchor="start" font-weight="bold" fill="#000" >e</text>
<text x="0" y="0" transform="translate(540.20,173.50) scale(1,1.07)" font-size="7.6" text-anchor="middle" fill="#231f20" >RNA-guided dsDNA cleavage</text>
<line x1="460.10" y1="181.80" x2="460.10" y2="282.50" stroke="#231f20" stroke-width="0.85" />
<line x1="459.70" y1="282.10" x2="610.70" y2="282.10" stroke="#231f20" stroke-width="0.85" />
<line x1="458.10" y1="282.10" x2="460.10" y2="282.10" stroke="#231f20" stroke-width="0.7" />
<text x="0" y="0" transform="translate(457.50,284.60) scale(1,1.07)" font-size="7.6" text-anchor="end" fill="#231f20" >0.0</text>
<line x1="458.10" y1="262.10" x2="460.10" y2="262.10" stroke="#231f20" stroke-width="0.7" />
<text x="0" y="0" transform="translate(457.50,264.60) scale(1,1.07)" font-size="7.6" text-anchor="end" fill="#231f20" >0.2</text>
<line x1="458.10" y1="242.10" x2="460.10" y2="242.10" stroke="#231f20" stroke-width="0.7" />
<text x="0" y="0" transform="translate(457.50,244.60) scale(1,1.07)" font-size="7.6" text-anchor="end" fill="#231f20" >0.4</text>
<line x1="458.10" y1="222.10" x2="460.10" y2="222.10" stroke="#231f20" stroke-width="0.7" />
<text x="0" y="0" transform="translate(457.50,224.60) scale(1,1.07)" font-size="7.6" text-anchor="end" fill="#231f20" >0.6</text>
<line x1="458.10" y1="202.10" x2="460.10" y2="202.10" stroke="#231f20" stroke-width="0.7" />
<text x="0" y="0" transform="translate(457.50,204.60) scale(1,1.07)" font-size="7.6" text-anchor="end" fill="#231f20" >0.8</text>
<line x1="458.10" y1="182.10" x2="460.10" y2="182.10" stroke="#231f20" stroke-width="0.7" />
<text x="0" y="0" transform="translate(457.50,184.60) scale(1,1.07)" font-size="7.6" text-anchor="end" fill="#231f20" >1.0</text>
<line x1="460.10" y1="282.10" x2="460.10" y2="284.10" stroke="#231f20" stroke-width="0.7" />
<text x="0" y="0" transform="translate(460.10,291.50) scale(1,1.07)" font-size="7.6" text-anchor="middle" fill="#231f20" >0</text>
<line x1="478.89" y1="282.10" x2="478.89" y2="284.10" stroke="#231f20" stroke-width="0.7" />
<text x="0" y="0" transform="translate(478.89,291.50) scale(1,1.07)" font-size="7.6" text-anchor="middle" fill="#231f20" >50</text>
<line x1="497.68" y1="282.10" x2="497.68" y2="284.10" stroke="#231f20" stroke-width="0.7" />
<text x="0" y="0" transform="translate(497.68,291.50) scale(1,1.07)" font-size="7.6" text-anchor="middle" fill="#231f20" >100</text>
<line x1="516.46" y1="282.10" x2="516.46" y2="284.10" stroke="#231f20" stroke-width="0.7" />
<text x="0" y="0" transform="translate(516.46,291.50) scale(1,1.07)" font-size="7.6" text-anchor="middle" fill="#231f20" >150</text>
<line x1="535.25" y1="282.10" x2="535.25" y2="284.10" stroke="#231f20" stroke-width="0.7" />
<text x="0" y="0" transform="translate(535.25,291.50) scale(1,1.07)" font-size="7.6" text-anchor="middle" fill="#231f20" >200</text>
<line x1="554.04" y1="282.10" x2="554.04" y2="284.10" stroke="#231f20" stroke-width="0.7" />
<text x="0" y="0" transform="translate(554.04,291.50) scale(1,1.07)" font-size="7.6" text-anchor="middle" fill="#231f20" >250</text>
<line x1="572.82" y1="282.10" x2="572.82" y2="284.10" stroke="#231f20" stroke-width="0.7" />
<text x="0" y="0" transform="translate(572.82,291.50) scale(1,1.07)" font-size="7.6" text-anchor="middle" fill="#231f20" >300</text>
<line x1="591.61" y1="282.10" x2="591.61" y2="284.10" stroke="#231f20" stroke-width="0.7" />
<text x="0" y="0" transform="translate(591.61,291.50) scale(1,1.07)" font-size="7.6" text-anchor="middle" fill="#231f20" >350</text>
<line x1="610.40" y1="282.10" x2="610.40" y2="284.10" stroke="#231f20" stroke-width="0.7" />
<text x="0" y="0" transform="translate(610.40,291.50) scale(1,1.07)" font-size="7.6" text-anchor="middle" fill="#231f20" >400</text>
<text x="0" y="0" transform="translate(540.60,302.90) scale(1,1.07)" font-size="7.6" text-anchor="middle" fill="#231f20" >NaCl (mM)</text>
<text x="0" y="0" font-size="7.6" text-anchor="middle" fill="#231f20" transform="translate(441.6,234.5) rotate(-90) scale(1,1.07)">Fraction cleaved</text>
<path d="M469.49 227.10 L478.89 226.10 L497.68 222.10 L516.46 224.10 L535.25 232.10 L572.82 263.10 L610.40 280.10" stroke="#f4a07a" stroke-width="0.9" fill="none" />
<line x1="469.49" y1="225.10" x2="469.49" y2="229.10" stroke="#f4a07a" stroke-width="0.65" />
<line x1="468.29" y1="225.10" x2="470.69" y2="225.10" stroke="#f4a07a" stroke-width="0.65" />
<line x1="468.29" y1="229.10" x2="470.69" y2="229.10" stroke="#f4a07a" stroke-width="0.65" />
<circle cx="469.49" cy="227.10" r="1.15" fill="#f4a07a" stroke="none" stroke-width="0.5" />
<line x1="478.89" y1="225.10" x2="478.89" y2="227.10" stroke="#f4a07a" stroke-width="0.65" />
<line x1="477.69" y1="225.10" x2="480.09" y2="225.10" stroke="#f4a07a" stroke-width="0.65" />
<line x1="477.69" y1="227.10" x2="480.09" y2="227.10" stroke="#f4a07a" stroke-width="0.65" />
<circle cx="478.89" cy="226.10" r="1.15" fill="#f4a07a" stroke="none" stroke-width="0.5" />
<line x1="497.68" y1="221.10" x2="497.68" y2="223.10" stroke="#f4a07a" stroke-width="0.65" />
<line x1="496.48" y1="221.10" x2="498.88" y2="221.10" stroke="#f4a07a" stroke-width="0.65" />
<line x1="496.48" y1="223.10" x2="498.88" y2="223.10" stroke="#f4a07a" stroke-width="0.65" />
<circle cx="497.68" cy="222.10" r="1.15" fill="#f4a07a" stroke="none" stroke-width="0.5" />
<line x1="516.46" y1="222.10" x2="516.46" y2="226.10" stroke="#f4a07a" stroke-width="0.65" />
<line x1="515.26" y1="222.10" x2="517.66" y2="222.10" stroke="#f4a07a" stroke-width="0.65" />
<line x1="515.26" y1="226.10" x2="517.66" y2="226.10" stroke="#f4a07a" stroke-width="0.65" />
<circle cx="516.46" cy="224.10" r="1.15" fill="#f4a07a" stroke="none" stroke-width="0.5" />
<line x1="535.25" y1="229.60" x2="535.25" y2="234.60" stroke="#f4a07a" stroke-width="0.65" />
<line x1="534.05" y1="229.60" x2="536.45" y2="229.60" stroke="#f4a07a" stroke-width="0.65" />
<line x1="534.05" y1="234.60" x2="536.45" y2="234.60" stroke="#f4a07a" stroke-width="0.65" />
<circle cx="535.25" cy="232.10" r="1.15" fill="#f4a07a" stroke="none" stroke-width="0.5" />
<line x1="572.82" y1="261.60" x2="572.82" y2="264.60" stroke="#f4a07a" stroke-width="0.65" />
<line x1="571.62" y1="261.60" x2="574.02" y2="261.60" stroke="#f4a07a" stroke-width="0.65" />
<line x1="571.62" y1="264.60" x2="574.02" y2="264.60" stroke="#f4a07a" stroke-width="0.65" />
<circle cx="572.82" cy="263.10" r="1.15" fill="#f4a07a" stroke="none" stroke-width="0.5" />
<line x1="610.40" y1="279.10" x2="610.40" y2="281.10" stroke="#f4a07a" stroke-width="0.65" />
<line x1="609.20" y1="279.10" x2="611.60" y2="279.10" stroke="#f4a07a" stroke-width="0.65" />
<line x1="609.20" y1="281.10" x2="611.60" y2="281.10" stroke="#f4a07a" stroke-width="0.65" />
<circle cx="610.40" cy="280.10" r="1.15" fill="#f4a07a" stroke="none" stroke-width="0.5" />
<path d="M469.49 227.10 L478.89 226.10 L497.68 225.10 L516.46 228.10 L535.25 230.10 L572.82 250.10 L610.40 279.10" stroke="#a98ad8" stroke-width="0.9" fill="none" />
<line x1="469.49" y1="225.10" x2="469.49" y2="229.10" stroke="#a98ad8" stroke-width="0.65" />
<line x1="468.29" y1="225.10" x2="470.69" y2="225.10" stroke="#a98ad8" stroke-width="0.65" />
<line x1="468.29" y1="229.10" x2="470.69" y2="229.10" stroke="#a98ad8" stroke-width="0.65" />
<circle cx="469.49" cy="227.10" r="1.15" fill="#a98ad8" stroke="none" stroke-width="0.5" />
<line x1="478.89" y1="224.60" x2="478.89" y2="227.60" stroke="#a98ad8" stroke-width="0.65" />
<line x1="477.69" y1="224.60" x2="480.09" y2="224.60" stroke="#a98ad8" stroke-width="0.65" />
<line x1="477.69" y1="227.60" x2="480.09" y2="227.60" stroke="#a98ad8" stroke-width="0.65" />
<circle cx="478.89" cy="226.10" r="1.15" fill="#a98ad8" stroke="none" stroke-width="0.5" />
<line x1="497.68" y1="223.10" x2="497.68" y2="227.10" stroke="#a98ad8" stroke-width="0.65" />
<line x1="496.48" y1="223.10" x2="498.88" y2="223.10" stroke="#a98ad8" stroke-width="0.65" />
<line x1="496.48" y1="227.10" x2="498.88" y2="227.10" stroke="#a98ad8" stroke-width="0.65" />
<circle cx="497.68" cy="225.10" r="1.15" fill="#a98ad8" stroke="none" stroke-width="0.5" />
<line x1="516.46" y1="226.10" x2="516.46" y2="230.10" stroke="#a98ad8" stroke-width="0.65" />
<line x1="515.26" y1="226.10" x2="517.66" y2="226.10" stroke="#a98ad8" stroke-width="0.65" />
<line x1="515.26" y1="230.10" x2="517.66" y2="230.10" stroke="#a98ad8" stroke-width="0.65" />
<circle cx="516.46" cy="228.10" r="1.15" fill="#a98ad8" stroke="none" stroke-width="0.5" />
<line x1="535.25" y1="229.10" x2="535.25" y2="231.10" stroke="#a98ad8" stroke-width="0.65" />
<line x1="534.05" y1="229.10" x2="536.45" y2="229.10" stroke="#a98ad8" stroke-width="0.65" />
<line x1="534.05" y1="231.10" x2="536.45" y2="231.10" stroke="#a98ad8" stroke-width="0.65" />
<circle cx="535.25" cy="230.10" r="1.15" fill="#a98ad8" stroke="none" stroke-width="0.5" />
<line x1="572.82" y1="249.10" x2="572.82" y2="251.10" stroke="#a98ad8" stroke-width="0.65" />
<line x1="571.62" y1="249.10" x2="574.02" y2="249.10" stroke="#a98ad8" stroke-width="0.65" />
<line x1="571.62" y1="251.10" x2="574.02" y2="251.10" stroke="#a98ad8" stroke-width="0.65" />
<circle cx="572.82" cy="250.10" r="1.15" fill="#a98ad8" stroke="none" stroke-width="0.5" />
<line x1="610.40" y1="278.10" x2="610.40" y2="280.10" stroke="#a98ad8" stroke-width="0.65" />
<line x1="609.20" y1="278.10" x2="611.60" y2="278.10" stroke="#a98ad8" stroke-width="0.65" />
<line x1="609.20" y1="280.10" x2="611.60" y2="280.10" stroke="#a98ad8" stroke-width="0.65" />
<circle cx="610.40" cy="279.10" r="1.15" fill="#a98ad8" stroke="none" stroke-width="0.5" />
<path d="M469.49 224.10 L478.89 224.10 L497.68 224.10 L516.46 226.10 L535.25 229.10 L572.82 248.10 L610.40 279.10" stroke="#72cff2" stroke-width="0.9" fill="none" />
<line x1="469.49" y1="222.10" x2="469.49" y2="226.10" stroke="#72cff2" stroke-width="0.65" />
<line x1="468.29" y1="222.10" x2="470.69" y2="222.10" stroke="#72cff2" stroke-width="0.65" />
<line x1="468.29" y1="226.10" x2="470.69" y2="226.10" stroke="#72cff2" stroke-width="0.65" />
<circle cx="469.49" cy="224.10" r="1.15" fill="#72cff2" stroke="none" stroke-width="0.5" />
<line x1="478.89" y1="223.10" x2="478.89" y2="225.10" stroke="#72cff2" stroke-width="0.65" />
<line x1="477.69" y1="223.10" x2="480.09" y2="223.10" stroke="#72cff2" stroke-width="0.65" />
<line x1="477.69" y1="225.10" x2="480.09" y2="225.10" stroke="#72cff2" stroke-width="0.65" />
<circle cx="478.89" cy="224.10" r="1.15" fill="#72cff2" stroke="none" stroke-width="0.5" />
<line x1="497.68" y1="223.10" x2="497.68" y2="225.10" stroke="#72cff2" stroke-width="0.65" />
<line x1="496.48" y1="223.10" x2="498.88" y2="223.10" stroke="#72cff2" stroke-width="0.65" />
<line x1="496.48" y1="225.10" x2="498.88" y2="225.10" stroke="#72cff2" stroke-width="0.65" />
<circle cx="497.68" cy="224.10" r="1.15" fill="#72cff2" stroke="none" stroke-width="0.5" />
<line x1="516.46" y1="225.10" x2="516.46" y2="227.10" stroke="#72cff2" stroke-width="0.65" />
<line x1="515.26" y1="225.10" x2="517.66" y2="225.10" stroke="#72cff2" stroke-width="0.65" />
<line x1="515.26" y1="227.10" x2="517.66" y2="227.10" stroke="#72cff2" stroke-width="0.65" />
<circle cx="516.46" cy="226.10" r="1.15" fill="#72cff2" stroke="none" stroke-width="0.5" />
<line x1="535.25" y1="228.10" x2="535.25" y2="230.10" stroke="#72cff2" stroke-width="0.65" />
<line x1="534.05" y1="228.10" x2="536.45" y2="228.10" stroke="#72cff2" stroke-width="0.65" />
<line x1="534.05" y1="230.10" x2="536.45" y2="230.10" stroke="#72cff2" stroke-width="0.65" />
<circle cx="535.25" cy="229.10" r="1.15" fill="#72cff2" stroke="none" stroke-width="0.5" />
<line x1="572.82" y1="247.10" x2="572.82" y2="249.10" stroke="#72cff2" stroke-width="0.65" />
<line x1="571.62" y1="247.10" x2="574.02" y2="247.10" stroke="#72cff2" stroke-width="0.65" />
<line x1="571.62" y1="249.10" x2="574.02" y2="249.10" stroke="#72cff2" stroke-width="0.65" />
<circle cx="572.82" cy="248.10" r="1.15" fill="#72cff2" stroke="none" stroke-width="0.5" />
<line x1="610.40" y1="278.10" x2="610.40" y2="280.10" stroke="#72cff2" stroke-width="0.65" />
<line x1="609.20" y1="278.10" x2="611.60" y2="278.10" stroke="#72cff2" stroke-width="0.65" />
<line x1="609.20" y1="280.10" x2="611.60" y2="280.10" stroke="#72cff2" stroke-width="0.65" />
<circle cx="610.40" cy="279.10" r="1.15" fill="#72cff2" stroke="none" stroke-width="0.5" />
<path d="M469.49 215.10 L478.89 217.10 L497.68 219.10 L516.46 220.10 L535.25 223.10 L572.82 232.10 L610.40 252.10" stroke="#1d8a8c" stroke-width="0.9" fill="none" />
<line x1="469.49" y1="213.60" x2="469.49" y2="216.60" stroke="#1d8a8c" stroke-width="0.65" />
<line x1="468.29" y1="213.60" x2="470.69" y2="213.60" stroke="#1d8a8c" stroke-width="0.65" />
<line x1="468.29" y1="216.60" x2="470.69" y2="216.60" stroke="#1d8a8c" stroke-width="0.65" />
<circle cx="469.49" cy="215.10" r="1.15" fill="#1d8a8c" stroke="none" stroke-width="0.5" />
<circle cx="478.89" cy="217.10" r="1.15" fill="#1d8a8c" stroke="none" stroke-width="0.5" />
<circle cx="497.68" cy="219.10" r="1.15" fill="#1d8a8c" stroke="none" stroke-width="0.5" />
<circle cx="516.46" cy="220.10" r="1.15" fill="#1d8a8c" stroke="none" stroke-width="0.5" />
<circle cx="535.25" cy="223.10" r="1.15" fill="#1d8a8c" stroke="none" stroke-width="0.5" />
<line x1="572.82" y1="230.10" x2="572.82" y2="234.10" stroke="#1d8a8c" stroke-width="0.65" />
<line x1="571.62" y1="230.10" x2="574.02" y2="230.10" stroke="#1d8a8c" stroke-width="0.65" />
<line x1="571.62" y1="234.10" x2="574.02" y2="234.10" stroke="#1d8a8c" stroke-width="0.65" />
<circle cx="572.82" cy="232.10" r="1.15" fill="#1d8a8c" stroke="none" stroke-width="0.5" />
<line x1="610.40" y1="251.10" x2="610.40" y2="253.10" stroke="#1d8a8c" stroke-width="0.65" />
<line x1="609.20" y1="251.10" x2="611.60" y2="251.10" stroke="#1d8a8c" stroke-width="0.65" />
<line x1="609.20" y1="253.10" x2="611.60" y2="253.10" stroke="#1d8a8c" stroke-width="0.65" />
<circle cx="610.40" cy="252.10" r="1.15" fill="#1d8a8c" stroke="none" stroke-width="0.5" />
<path d="M469.49 210.10 L478.89 212.10 L497.68 222.10 L516.46 250.10 L535.25 274.10 L572.82 282.10 L610.40 282.10" stroke="#111111" stroke-width="0.9" fill="none" />
<circle cx="469.49" cy="210.10" r="1.15" fill="#111111" stroke="none" stroke-width="0.5" />
<circle cx="478.89" cy="212.10" r="1.15" fill="#111111" stroke="none" stroke-width="0.5" />
<circle cx="497.68" cy="222.10" r="1.15" fill="#111111" stroke="none" stroke-width="0.5" />
<circle cx="516.46" cy="250.10" r="1.15" fill="#111111" stroke="none" stroke-width="0.5" />
<circle cx="535.25" cy="274.10" r="1.15" fill="#111111" stroke="none" stroke-width="0.5" />
<circle cx="572.82" cy="282.10" r="1.15" fill="#111111" stroke="none" stroke-width="0.5" />
<circle cx="610.40" cy="282.10" r="1.15" fill="#111111" stroke="none" stroke-width="0.5" />
<path d="M469.49 204.10 L478.89 203.10 L497.68 200.10 L516.46 200.10 L535.25 201.10 L572.82 203.10 L610.40 208.10" stroke="#e8336e" stroke-width="0.9" fill="none" />
<line x1="469.49" y1="201.60" x2="469.49" y2="206.60" stroke="#e8336e" stroke-width="0.65" />
<line x1="468.29" y1="201.60" x2="470.69" y2="201.60" stroke="#e8336e" stroke-width="0.65" />
<line x1="468.29" y1="206.60" x2="470.69" y2="206.60" stroke="#e8336e" stroke-width="0.65" />
<circle cx="469.49" cy="204.10" r="1.15" fill="#e8336e" stroke="none" stroke-width="0.5" />
<line x1="478.89" y1="201.60" x2="478.89" y2="204.60" stroke="#e8336e" stroke-width="0.65" />
<line x1="477.69" y1="201.60" x2="480.09" y2="201.60" stroke="#e8336e" stroke-width="0.65" />
<line x1="477.69" y1="204.60" x2="480.09" y2="204.60" stroke="#e8336e" stroke-width="0.65" />
<circle cx="478.89" cy="203.10" r="1.15" fill="#e8336e" stroke="none" stroke-width="0.5" />
<line x1="497.68" y1="198.10" x2="497.68" y2="202.10" stroke="#e8336e" stroke-width="0.65" />
<line x1="496.48" y1="198.10" x2="498.88" y2="198.10" stroke="#e8336e" stroke-width="0.65" />
<line x1="496.48" y1="202.10" x2="498.88" y2="202.10" stroke="#e8336e" stroke-width="0.65" />
<circle cx="497.68" cy="200.10" r="1.15" fill="#e8336e" stroke="none" stroke-width="0.5" />
<line x1="516.46" y1="198.10" x2="516.46" y2="202.10" stroke="#e8336e" stroke-width="0.65" />
<line x1="515.26" y1="198.10" x2="517.66" y2="198.10" stroke="#e8336e" stroke-width="0.65" />
<line x1="515.26" y1="202.10" x2="517.66" y2="202.10" stroke="#e8336e" stroke-width="0.65" />
<circle cx="516.46" cy="200.10" r="1.15" fill="#e8336e" stroke="none" stroke-width="0.5" />
<line x1="535.25" y1="199.60" x2="535.25" y2="202.60" stroke="#e8336e" stroke-width="0.65" />
<line x1="534.05" y1="199.60" x2="536.45" y2="199.60" stroke="#e8336e" stroke-width="0.65" />
<line x1="534.05" y1="202.60" x2="536.45" y2="202.60" stroke="#e8336e" stroke-width="0.65" />
<circle cx="535.25" cy="201.10" r="1.15" fill="#e8336e" stroke="none" stroke-width="0.5" />
<line x1="572.82" y1="202.10" x2="572.82" y2="204.10" stroke="#e8336e" stroke-width="0.65" />
<line x1="571.62" y1="202.10" x2="574.02" y2="202.10" stroke="#e8336e" stroke-width="0.65" />
<line x1="571.62" y1="204.10" x2="574.02" y2="204.10" stroke="#e8336e" stroke-width="0.65" />
<circle cx="572.82" cy="203.10" r="1.15" fill="#e8336e" stroke="none" stroke-width="0.5" />
<line x1="610.40" y1="206.60" x2="610.40" y2="209.60" stroke="#e8336e" stroke-width="0.65" />
<line x1="609.20" y1="206.60" x2="611.60" y2="206.60" stroke="#e8336e" stroke-width="0.65" />
<line x1="609.20" y1="209.60" x2="611.60" y2="209.60" stroke="#e8336e" stroke-width="0.65" />
<circle cx="610.40" cy="208.10" r="1.15" fill="#e8336e" stroke="none" stroke-width="0.5" />
<path d="M469.49 197.10 L478.89 197.10 L497.68 196.10 L516.46 197.10 L535.25 200.10 L572.82 204.10 L610.40 213.10" stroke="#3a67b0" stroke-width="0.9" fill="none" />
<line x1="469.49" y1="195.10" x2="469.49" y2="199.10" stroke="#3a67b0" stroke-width="0.65" />
<line x1="468.29" y1="195.10" x2="470.69" y2="195.10" stroke="#3a67b0" stroke-width="0.65" />
<line x1="468.29" y1="199.10" x2="470.69" y2="199.10" stroke="#3a67b0" stroke-width="0.65" />
<circle cx="469.49" cy="197.10" r="1.15" fill="#3a67b0" stroke="none" stroke-width="0.5" />
<line x1="478.89" y1="195.10" x2="478.89" y2="199.10" stroke="#3a67b0" stroke-width="0.65" />
<line x1="477.69" y1="195.10" x2="480.09" y2="195.10" stroke="#3a67b0" stroke-width="0.65" />
<line x1="477.69" y1="199.10" x2="480.09" y2="199.10" stroke="#3a67b0" stroke-width="0.65" />
<circle cx="478.89" cy="197.10" r="1.15" fill="#3a67b0" stroke="none" stroke-width="0.5" />
<line x1="497.68" y1="195.10" x2="497.68" y2="197.10" stroke="#3a67b0" stroke-width="0.65" />
<line x1="496.48" y1="195.10" x2="498.88" y2="195.10" stroke="#3a67b0" stroke-width="0.65" />
<line x1="496.48" y1="197.10" x2="498.88" y2="197.10" stroke="#3a67b0" stroke-width="0.65" />
<circle cx="497.68" cy="196.10" r="1.15" fill="#3a67b0" stroke="none" stroke-width="0.5" />
<line x1="516.46" y1="196.10" x2="516.46" y2="198.10" stroke="#3a67b0" stroke-width="0.65" />
<line x1="515.26" y1="196.10" x2="517.66" y2="196.10" stroke="#3a67b0" stroke-width="0.65" />
<line x1="515.26" y1="198.10" x2="517.66" y2="198.10" stroke="#3a67b0" stroke-width="0.65" />
<circle cx="516.46" cy="197.10" r="1.15" fill="#3a67b0" stroke="none" stroke-width="0.5" />
<line x1="535.25" y1="199.10" x2="535.25" y2="201.10" stroke="#3a67b0" stroke-width="0.65" />
<line x1="534.05" y1="199.10" x2="536.45" y2="199.10" stroke="#3a67b0" stroke-width="0.65" />
<line x1="534.05" y1="201.10" x2="536.45" y2="201.10" stroke="#3a67b0" stroke-width="0.65" />
<circle cx="535.25" cy="200.10" r="1.15" fill="#3a67b0" stroke="none" stroke-width="0.5" />
<line x1="572.82" y1="203.10" x2="572.82" y2="205.10" stroke="#3a67b0" stroke-width="0.65" />
<line x1="571.62" y1="203.10" x2="574.02" y2="203.10" stroke="#3a67b0" stroke-width="0.65" />
<line x1="571.62" y1="205.10" x2="574.02" y2="205.10" stroke="#3a67b0" stroke-width="0.65" />
<circle cx="572.82" cy="204.10" r="1.15" fill="#3a67b0" stroke="none" stroke-width="0.5" />
<circle cx="610.40" cy="213.10" r="1.15" fill="#3a67b0" stroke="none" stroke-width="0.5" />
<path d="M469.49 194.10 L478.89 194.10 L497.68 195.10 L516.46 196.10 L535.25 198.10 L572.82 244.10 L610.40 278.10" stroke="#5b2b9c" stroke-width="0.9" fill="none" />
<line x1="469.49" y1="192.60" x2="469.49" y2="195.60" stroke="#5b2b9c" stroke-width="0.65" />
<line x1="468.29" y1="192.60" x2="470.69" y2="192.60" stroke="#5b2b9c" stroke-width="0.65" />
<line x1="468.29" y1="195.60" x2="470.69" y2="195.60" stroke="#5b2b9c" stroke-width="0.65" />
<circle cx="469.49" cy="194.10" r="1.15" fill="#5b2b9c" stroke="none" stroke-width="0.5" />
<line x1="478.89" y1="192.60" x2="478.89" y2="195.60" stroke="#5b2b9c" stroke-width="0.65" />
<line x1="477.69" y1="192.60" x2="480.09" y2="192.60" stroke="#5b2b9c" stroke-width="0.65" />
<line x1="477.69" y1="195.60" x2="480.09" y2="195.60" stroke="#5b2b9c" stroke-width="0.65" />
<circle cx="478.89" cy="194.10" r="1.15" fill="#5b2b9c" stroke="none" stroke-width="0.5" />
<line x1="497.68" y1="193.10" x2="497.68" y2="197.10" stroke="#5b2b9c" stroke-width="0.65" />
<line x1="496.48" y1="193.10" x2="498.88" y2="193.10" stroke="#5b2b9c" stroke-width="0.65" />
<line x1="496.48" y1="197.10" x2="498.88" y2="197.10" stroke="#5b2b9c" stroke-width="0.65" />
<circle cx="497.68" cy="195.10" r="1.15" fill="#5b2b9c" stroke="none" stroke-width="0.5" />
<line x1="516.46" y1="194.60" x2="516.46" y2="197.60" stroke="#5b2b9c" stroke-width="0.65" />
<line x1="515.26" y1="194.60" x2="517.66" y2="194.60" stroke="#5b2b9c" stroke-width="0.65" />
<line x1="515.26" y1="197.60" x2="517.66" y2="197.60" stroke="#5b2b9c" stroke-width="0.65" />
<circle cx="516.46" cy="196.10" r="1.15" fill="#5b2b9c" stroke="none" stroke-width="0.5" />
<line x1="535.25" y1="196.60" x2="535.25" y2="199.60" stroke="#5b2b9c" stroke-width="0.65" />
<line x1="534.05" y1="196.60" x2="536.45" y2="196.60" stroke="#5b2b9c" stroke-width="0.65" />
<line x1="534.05" y1="199.60" x2="536.45" y2="199.60" stroke="#5b2b9c" stroke-width="0.65" />
<circle cx="535.25" cy="198.10" r="1.15" fill="#5b2b9c" stroke="none" stroke-width="0.5" />
<line x1="572.82" y1="242.10" x2="572.82" y2="246.10" stroke="#5b2b9c" stroke-width="0.65" />
<line x1="571.62" y1="242.10" x2="574.02" y2="242.10" stroke="#5b2b9c" stroke-width="0.65" />
<line x1="571.62" y1="246.10" x2="574.02" y2="246.10" stroke="#5b2b9c" stroke-width="0.65" />
<circle cx="572.82" cy="244.10" r="1.15" fill="#5b2b9c" stroke="none" stroke-width="0.5" />
<line x1="610.40" y1="277.10" x2="610.40" y2="279.10" stroke="#5b2b9c" stroke-width="0.65" />
<line x1="609.20" y1="277.10" x2="611.60" y2="277.10" stroke="#5b2b9c" stroke-width="0.65" />
<line x1="609.20" y1="279.10" x2="611.60" y2="279.10" stroke="#5b2b9c" stroke-width="0.65" />
<circle cx="610.40" cy="278.10" r="1.15" fill="#5b2b9c" stroke="none" stroke-width="0.5" />
<line x1="624.40" y1="184.40" x2="635.60" y2="184.40" stroke="#3a67b0" stroke-width="0.8" />
<circle cx="630.00" cy="184.40" r="1.00" fill="#3a67b0" stroke="none" stroke-width="0.5" />
<text x="0" y="0" transform="translate(640.70,187.00) scale(1,1.07)" font-size="7.6" text-anchor="start" fill="#231f20" >DpbCas12e</text>
<line x1="624.40" y1="197.90" x2="635.60" y2="197.90" stroke="#e8336e" stroke-width="0.8" />
<circle cx="630.00" cy="197.90" r="1.00" fill="#e8336e" stroke="none" stroke-width="0.5" />
<text x="0" y="0" transform="translate(640.70,200.50) scale(1,1.07)" font-size="7.6" text-anchor="start" fill="#231f20" >PlmCas12e</text>
<line x1="624.40" y1="212.20" x2="635.60" y2="212.20" stroke="#1d8a8c" stroke-width="0.8" />
<circle cx="630.00" cy="212.20" r="1.00" fill="#1d8a8c" stroke="none" stroke-width="0.5" />
<text x="0" y="0" transform="translate(640.70,214.80) scale(1,1.07)" font-size="7.6" text-anchor="start" fill="#231f20" >OpbCas12e</text>
<line x1="624.40" y1="226.50" x2="635.60" y2="226.50" stroke="#5b2b9c" stroke-width="0.8" />
<circle cx="630.00" cy="226.50" r="1.00" fill="#5b2b9c" stroke="none" stroke-width="0.5" />
<text x="0" y="0" transform="translate(640.70,229.10) scale(1,1.07)" font-size="7.6" text-anchor="start" fill="#231f20" >Plm2Cas12e</text>
<line x1="624.40" y1="240.50" x2="635.60" y2="240.50" stroke="#a98ad8" stroke-width="0.8" />
<circle cx="630.00" cy="240.50" r="1.00" fill="#a98ad8" stroke="none" stroke-width="0.5" />
<text x="0" y="0" transform="translate(640.70,243.10) scale(1,1.07)" font-size="7.6" text-anchor="start" fill="#231f20" >LesCas12e</text>
<line x1="624.40" y1="254.00" x2="635.60" y2="254.00" stroke="#72cff2" stroke-width="0.8" />
<circle cx="630.00" cy="254.00" r="1.00" fill="#72cff2" stroke="none" stroke-width="0.5" />
<text x="0" y="0" transform="translate(640.70,256.60) scale(1,1.07)" font-size="7.6" text-anchor="start" fill="#231f20" >VemCas12e</text>
<line x1="624.40" y1="268.00" x2="635.60" y2="268.00" stroke="#111111" stroke-width="0.8" />
<circle cx="630.00" cy="268.00" r="1.00" fill="#111111" stroke="none" stroke-width="0.5" />
<text x="0" y="0" transform="translate(640.70,270.60) scale(1,1.07)" font-size="7.6" text-anchor="start" fill="#231f20" >CkbCas12e</text>
<line x1="624.40" y1="282.00" x2="635.60" y2="282.00" stroke="#f4a07a" stroke-width="0.8" />
<circle cx="630.00" cy="282.00" r="1.00" fill="#f4a07a" stroke="none" stroke-width="0.5" />
<text x="0" y="0" transform="translate(640.70,284.60) scale(1,1.07)" font-size="7.6" text-anchor="start" fill="#231f20" >HrbCas12e</text>
<text x="-0.40" y="329.20" font-size="13.5" text-anchor="start" font-weight="bold" fill="#000" >f</text>
<text x="-0.50" y="428.50" font-size="13.5" text-anchor="start" font-weight="bold" fill="#000" >g</text>
<text x="0" y="0" transform="translate(67.70,331.60) scale(1,1.07)" font-size="8.0" text-anchor="middle" fill="#231f20" >50 mM NaCl</text>
<line x1="35.30" y1="336.50" x2="35.30" y2="389.90" stroke="#231f20" stroke-width="0.85" />
<line x1="34.90" y1="389.50" x2="96.80" y2="389.50" stroke="#231f20" stroke-width="0.85" />
<line x1="33.70" y1="389.50" x2="35.30" y2="389.50" stroke="#231f20" stroke-width="0.7" />
<line x1="33.70" y1="376.32" x2="35.30" y2="376.32" stroke="#231f20" stroke-width="0.7" />
<line x1="33.70" y1="363.15" x2="35.30" y2="363.15" stroke="#231f20" stroke-width="0.7" />
<line x1="33.70" y1="349.98" x2="35.30" y2="349.98" stroke="#231f20" stroke-width="0.7" />
<line x1="33.70" y1="336.80" x2="35.30" y2="336.80" stroke="#231f20" stroke-width="0.7" />
<text x="0" y="0" transform="translate(33.40,392.30) scale(1,1.07)" font-size="7.9" text-anchor="end" fill="#231f20" >0.0</text>
<text x="0" y="0" transform="translate(33.40,365.95) scale(1,1.07)" font-size="7.9" text-anchor="end" fill="#231f20" >1.0</text>
<text x="0" y="0" transform="translate(33.40,339.60) scale(1,1.07)" font-size="7.9" text-anchor="end" fill="#231f20" >2.0</text>
<text x="0" y="0" font-size="7.6" text-anchor="middle" fill="#231f20" transform="translate(19.30,363.00) rotate(-90) scale(1,1.07)">Bits</text>
<line x1="43.00" y1="389.50" x2="43.00" y2="391.30" stroke="#231f20" stroke-width="0.7" />
<text x="0" y="0" transform="translate(42.60,398.40) scale(1,1.07)" font-size="7.9" text-anchor="middle" fill="#231f20" >-5</text>
<path d="M37.70 388.84 H48.30 V388.99 H44.10 V389.10 H41.90 V388.99 H37.70 Z" fill="#e3173e" opacity="0.4"/>
<line x1="54.60" y1="389.50" x2="54.60" y2="391.30" stroke="#231f20" stroke-width="0.7" />
<text x="0" y="0" transform="translate(54.20,398.40) scale(1,1.07)" font-size="7.9" text-anchor="middle" fill="#231f20" >-4</text>
<text font-size="100" font-weight="bold" fill="#2a9d3a" opacity="1.0" style="stroke:none" transform="translate(48.80,389.10) scale(0.1612,0.0115)">A</text>
<text font-size="100" font-weight="bold" fill="#1a5ca8" opacity="1.0" style="stroke:none" transform="translate(48.52,388.30) scale(0.1654,0.0149)">C</text>
<text font-size="100" font-weight="bold" fill="#f4a81d" opacity="1.0" style="stroke:none" transform="translate(48.54,387.24) scale(0.1602,0.0224)">G</text>
<path d="M49.30 383.30 H59.90 V384.94 H55.70 V385.67 H53.50 V384.94 H49.30 Z" fill="#e3173e" opacity="0.55"/>
<line x1="66.20" y1="389.50" x2="66.20" y2="391.30" stroke="#231f20" stroke-width="0.7" />
<text x="0" y="0" transform="translate(65.80,398.40) scale(1,1.07)" font-size="7.9" text-anchor="middle" fill="#231f20" >-3</text>
<text font-size="100" font-weight="bold" fill="#2a9d3a" opacity="1.0" style="stroke:none" transform="translate(60.40,389.10) scale(0.1612,0.0115)">A</text>
<text font-size="100" font-weight="bold" fill="#1a5ca8" opacity="1.0" style="stroke:none" transform="translate(60.12,388.29) scale(0.1654,0.0186)">C</text>
<text font-size="100" font-weight="bold" fill="#f4a81d" opacity="1.0" style="stroke:none" transform="translate(60.14,386.96) scale(0.1602,0.0410)">G</text>
<path d="M60.90 371.18 H71.50 V373.87 H67.45 V384.09 H64.95 V373.87 H60.90 Z" fill="#e3173e" opacity="1.0"/>
<line x1="77.80" y1="389.50" x2="77.80" y2="391.30" stroke="#231f20" stroke-width="0.7" />
<text x="0" y="0" transform="translate(77.40,398.40) scale(1,1.07)" font-size="7.9" text-anchor="middle" fill="#231f20" >-2</text>
<text font-size="100" font-weight="bold" fill="#2a9d3a" opacity="1.0" style="stroke:none" transform="translate(72.00,389.10) scale(0.1612,0.0077)">A</text>
<text font-size="100" font-weight="bold" fill="#f4a81d" opacity="1.0" style="stroke:none" transform="translate(71.74,388.56) scale(0.1602,0.0186)">G</text>
<text font-size="100" font-weight="bold" fill="#1a5ca8" opacity="1.0" style="stroke:none" transform="translate(71.72,387.20) scale(0.1654,0.0596)">C</text>
<path d="M72.50 378.82 H83.10 V380.65 H78.90 V383.04 H76.70 V380.65 H72.50 Z" fill="#e3173e" opacity="1.0"/>
<line x1="89.40" y1="389.50" x2="89.40" y2="391.30" stroke="#231f20" stroke-width="0.7" />
<text x="0" y="0" transform="translate(89.00,398.40) scale(1,1.07)" font-size="7.9" text-anchor="middle" fill="#231f20" >-1</text>
<text font-size="100" font-weight="bold" fill="#f4a81d" opacity="1.0" style="stroke:none" transform="translate(83.34,389.10) scale(0.1602,0.0037)">G</text>
<path d="M84.10 388.31 H94.70 V388.63 H90.50 V388.84 H88.30 V388.63 H84.10 Z" fill="#e3173e" opacity="0.5"/>
<text x="0" y="0" transform="translate(162.70,331.60) scale(1,1.07)" font-size="8.0" text-anchor="middle" fill="#231f20" >150 mM NaCl</text>
<line x1="128.40" y1="336.30" x2="128.40" y2="389.60" stroke="#231f20" stroke-width="0.85" />
<line x1="128.00" y1="389.20" x2="189.90" y2="389.20" stroke="#231f20" stroke-width="0.85" />
<line x1="126.80" y1="389.20" x2="128.40" y2="389.20" stroke="#231f20" stroke-width="0.7" />
<line x1="126.80" y1="376.05" x2="128.40" y2="376.05" stroke="#231f20" stroke-width="0.7" />
<line x1="126.80" y1="362.90" x2="128.40" y2="362.90" stroke="#231f20" stroke-width="0.7" />
<line x1="126.80" y1="349.75" x2="128.40" y2="349.75" stroke="#231f20" stroke-width="0.7" />
<line x1="126.80" y1="336.60" x2="128.40" y2="336.60" stroke="#231f20" stroke-width="0.7" />
<text x="0" y="0" transform="translate(126.50,392.00) scale(1,1.07)" font-size="7.9" text-anchor="end" fill="#231f20" >0.0</text>
<text x="0" y="0" transform="translate(126.50,365.70) scale(1,1.07)" font-size="7.9" text-anchor="end" fill="#231f20" >1.0</text>
<text x="0" y="0" transform="translate(126.50,339.40) scale(1,1.07)" font-size="7.9" text-anchor="end" fill="#231f20" >2.0</text>
<text x="0" y="0" font-size="7.6" text-anchor="middle" fill="#231f20" transform="translate(112.40,362.70) rotate(-90) scale(1,1.07)">Bits</text>
<line x1="136.10" y1="389.20" x2="136.10" y2="391.00" stroke="#231f20" stroke-width="0.7" />
<text x="0" y="0" transform="translate(135.70,398.10) scale(1,1.07)" font-size="7.9" text-anchor="middle" fill="#231f20" >-5</text>
<line x1="147.70" y1="389.20" x2="147.70" y2="391.00" stroke="#231f20" stroke-width="0.7" />
<text x="0" y="0" transform="translate(147.30,398.10) scale(1,1.07)" font-size="7.9" text-anchor="middle" fill="#231f20" >-4</text>
<text font-size="100" font-weight="bold" fill="#2a9d3a" opacity="1.0" style="stroke:none" transform="translate(141.90,388.80) scale(0.1612,0.0115)">A</text>
<text font-size="100" font-weight="bold" fill="#1a5ca8" opacity="1.0" style="stroke:none" transform="translate(141.62,388.00) scale(0.1654,0.0149)">C</text>
<text font-size="100" font-weight="bold" fill="#f4a81d" opacity="1.0" style="stroke:none" transform="translate(141.64,386.94) scale(0.1602,0.0223)">G</text>
<path d="M142.40 383.28 H153.00 V384.89 H148.80 V385.38 H146.60 V384.89 H142.40 Z" fill="#e3173e" opacity="0.55"/>
<line x1="159.30" y1="389.20" x2="159.30" y2="391.00" stroke="#231f20" stroke-width="0.7" />
<text x="0" y="0" transform="translate(158.90,398.10) scale(1,1.07)" font-size="7.9" text-anchor="middle" fill="#231f20" >-3</text>
<text font-size="100" font-weight="bold" fill="#2a9d3a" opacity="1.0" style="stroke:none" transform="translate(153.50,388.80) scale(0.1612,0.0115)">A</text>
<text font-size="100" font-weight="bold" fill="#1a5ca8" opacity="1.0" style="stroke:none" transform="translate(153.22,387.99) scale(0.1654,0.0186)">C</text>
<text font-size="100" font-weight="bold" fill="#f4a81d" opacity="1.0" style="stroke:none" transform="translate(153.24,386.66) scale(0.1602,0.0409)">G</text>
<path d="M154.00 372.76 H164.60 V375.26 H160.55 V383.80 H158.05 V375.26 H154.00 Z" fill="#e3173e" opacity="1.0"/>
<line x1="170.90" y1="389.20" x2="170.90" y2="391.00" stroke="#231f20" stroke-width="0.7" />
<text x="0" y="0" transform="translate(170.50,398.10) scale(1,1.07)" font-size="7.9" text-anchor="middle" fill="#231f20" >-2</text>
<text font-size="100" font-weight="bold" fill="#2a9d3a" opacity="1.0" style="stroke:none" transform="translate(165.10,388.80) scale(0.1612,0.0076)">A</text>
<text font-size="100" font-weight="bold" fill="#f4a81d" opacity="1.0" style="stroke:none" transform="translate(164.84,388.26) scale(0.1602,0.0186)">G</text>
<text font-size="100" font-weight="bold" fill="#1a5ca8" opacity="1.0" style="stroke:none" transform="translate(164.82,386.91) scale(0.1654,0.0558)">C</text>
<path d="M165.60 378.81 H176.20 V380.63 H172.00 V383.01 H169.80 V380.63 H165.60 Z" fill="#e3173e" opacity="1.0"/>
<line x1="182.50" y1="389.20" x2="182.50" y2="391.00" stroke="#231f20" stroke-width="0.7" />
<text x="0" y="0" transform="translate(182.10,398.10) scale(1,1.07)" font-size="7.9" text-anchor="middle" fill="#231f20" >-1</text>
<text font-size="100" font-weight="bold" fill="#f4a81d" opacity="1.0" style="stroke:none" transform="translate(176.44,388.80) scale(0.1602,0.0037)">G</text>
<path d="M177.20 388.01 H187.80 V388.33 H183.60 V388.54 H181.40 V388.33 H177.20 Z" fill="#e3173e" opacity="0.5"/>
<text x="0" y="0" transform="translate(256.80,331.60) scale(1,1.07)" font-size="8.0" text-anchor="middle" fill="#231f20" >300 mM NaCl</text>
<line x1="220.60" y1="336.20" x2="220.60" y2="389.80" stroke="#231f20" stroke-width="0.85" />
<line x1="220.20" y1="389.40" x2="282.10" y2="389.40" stroke="#231f20" stroke-width="0.85" />
<line x1="219.00" y1="389.40" x2="220.60" y2="389.40" stroke="#231f20" stroke-width="0.7" />
<line x1="219.00" y1="376.17" x2="220.60" y2="376.17" stroke="#231f20" stroke-width="0.7" />
<line x1="219.00" y1="362.95" x2="220.60" y2="362.95" stroke="#231f20" stroke-width="0.7" />
<line x1="219.00" y1="349.73" x2="220.60" y2="349.73" stroke="#231f20" stroke-width="0.7" />
<line x1="219.00" y1="336.50" x2="220.60" y2="336.50" stroke="#231f20" stroke-width="0.7" />
<text x="0" y="0" transform="translate(218.70,392.20) scale(1,1.07)" font-size="7.9" text-anchor="end" fill="#231f20" >0.0</text>
<text x="0" y="0" transform="translate(218.70,365.75) scale(1,1.07)" font-size="7.9" text-anchor="end" fill="#231f20" >1.0</text>
<text x="0" y="0" transform="translate(218.70,339.30) scale(1,1.07)" font-size="7.9" text-anchor="end" fill="#231f20" >2.0</text>
<text x="0" y="0" font-size="7.6" text-anchor="middle" fill="#231f20" transform="translate(204.60,362.90) rotate(-90) scale(1,1.07)">Bits</text>
<line x1="228.30" y1="389.40" x2="228.30" y2="391.20" stroke="#231f20" stroke-width="0.7" />
<text x="0" y="0" transform="translate(227.90,398.30) scale(1,1.07)" font-size="7.9" text-anchor="middle" fill="#231f20" >-5</text>
<line x1="239.90" y1="389.40" x2="239.90" y2="391.20" stroke="#231f20" stroke-width="0.7" />
<text x="0" y="0" transform="translate(239.50,398.30) scale(1,1.07)" font-size="7.9" text-anchor="middle" fill="#231f20" >-4</text>
<text font-size="100" font-weight="bold" fill="#2a9d3a" opacity="1.0" style="stroke:none" transform="translate(234.10,389.00) scale(0.1612,0.0077)">A</text>
<text font-size="100" font-weight="bold" fill="#1a5ca8" opacity="1.0" style="stroke:none" transform="translate(233.82,388.46) scale(0.1654,0.0112)">C</text>
<text font-size="100" font-weight="bold" fill="#f4a81d" opacity="1.0" style="stroke:none" transform="translate(233.84,387.66) scale(0.1602,0.0187)">G</text>
<path d="M234.60 381.59 H245.20 V383.47 H241.00 V386.36 H238.80 V383.47 H234.60 Z" fill="#e3173e" opacity="0.6"/>
<line x1="251.50" y1="389.40" x2="251.50" y2="391.20" stroke="#231f20" stroke-width="0.7" />
<text x="0" y="0" transform="translate(251.10,398.30) scale(1,1.07)" font-size="7.9" text-anchor="middle" fill="#231f20" >-3</text>
<text font-size="100" font-weight="bold" fill="#2a9d3a" opacity="1.0" style="stroke:none" transform="translate(245.70,389.00) scale(0.1612,0.0077)">A</text>
<text font-size="100" font-weight="bold" fill="#1a5ca8" opacity="1.0" style="stroke:none" transform="translate(245.42,388.46) scale(0.1654,0.0112)">C</text>
<text font-size="100" font-weight="bold" fill="#f4a81d" opacity="1.0" style="stroke:none" transform="translate(245.44,387.65) scale(0.1602,0.0299)">G</text>
<path d="M246.20 352.50 H256.80 V357.21 H252.75 V385.56 H250.25 V357.21 H246.20 Z" fill="#e3173e" opacity="1.0"/>
<line x1="263.10" y1="389.40" x2="263.10" y2="391.20" stroke="#231f20" stroke-width="0.7" />
<text x="0" y="0" transform="translate(262.70,398.30) scale(1,1.07)" font-size="7.9" text-anchor="middle" fill="#231f20" >-2</text>
<text font-size="100" font-weight="bold" fill="#f4a81d" opacity="1.0" style="stroke:none" transform="translate(257.04,388.99) scale(0.1602,0.0112)">G</text>
<path d="M257.80 380.54 H268.40 V382.70 H264.35 V388.21 H261.85 V382.70 H257.80 Z" fill="#e3173e" opacity="1.0"/>
<text font-size="100" font-weight="bold" fill="#1a5ca8" opacity="1.0" style="stroke:none" transform="translate(257.02,380.43) scale(0.1654,0.1197)">C</text>
<line x1="274.70" y1="389.40" x2="274.70" y2="391.20" stroke="#231f20" stroke-width="0.7" />
<text x="0" y="0" transform="translate(274.30,398.30) scale(1,1.07)" font-size="7.9" text-anchor="middle" fill="#231f20" >-1</text>
<path d="M269.40 388.47 H280.00 V388.79 H275.80 V389.00 H273.60 V388.79 H269.40 Z" fill="#e3173e" opacity="0.4"/>
<text x="0" y="0" transform="translate(68.50,433.20) scale(1,1.07)" font-size="8.0" text-anchor="middle" fill="#231f20" >50 mM NaCl</text>
<line x1="36.30" y1="436.40" x2="36.30" y2="489.80" stroke="#231f20" stroke-width="0.85" />
<line x1="35.90" y1="489.40" x2="97.80" y2="489.40" stroke="#231f20" stroke-width="0.85" />
<line x1="34.70" y1="489.40" x2="36.30" y2="489.40" stroke="#231f20" stroke-width="0.7" />
<line x1="34.70" y1="476.22" x2="36.30" y2="476.22" stroke="#231f20" stroke-width="0.7" />
<line x1="34.70" y1="463.05" x2="36.30" y2="463.05" stroke="#231f20" stroke-width="0.7" />
<line x1="34.70" y1="449.88" x2="36.30" y2="449.88" stroke="#231f20" stroke-width="0.7" />
<line x1="34.70" y1="436.70" x2="36.30" y2="436.70" stroke="#231f20" stroke-width="0.7" />
<text x="0" y="0" transform="translate(34.40,492.20) scale(1,1.07)" font-size="7.9" text-anchor="end" fill="#231f20" >0.0</text>
<text x="0" y="0" transform="translate(34.40,465.85) scale(1,1.07)" font-size="7.9" text-anchor="end" fill="#231f20" >1.0</text>
<text x="0" y="0" transform="translate(34.40,439.50) scale(1,1.07)" font-size="7.9" text-anchor="end" fill="#231f20" >2.0</text>
<text x="0" y="0" font-size="7.6" text-anchor="middle" fill="#231f20" transform="translate(20.30,462.90) rotate(-90) scale(1,1.07)">Bits</text>
<line x1="44.00" y1="489.40" x2="44.00" y2="491.20" stroke="#231f20" stroke-width="0.7" />
<text x="0" y="0" transform="translate(43.60,498.30) scale(1,1.07)" font-size="7.9" text-anchor="middle" fill="#231f20" >-5</text>
<line x1="55.60" y1="489.40" x2="55.60" y2="491.20" stroke="#231f20" stroke-width="0.7" />
<text x="0" y="0" transform="translate(55.20,498.30) scale(1,1.07)" font-size="7.9" text-anchor="middle" fill="#231f20" >-4</text>
<text font-size="100" font-weight="bold" fill="#f4a81d" opacity="1.0" style="stroke:none" transform="translate(49.54,488.99) scale(0.1602,0.0075)">G</text>
<path d="M50.30 488.21 H60.90 V488.37 H56.70 V488.47 H54.50 V488.37 H50.30 Z" fill="#e3173e" opacity="0.5"/>
<line x1="67.20" y1="489.40" x2="67.20" y2="491.20" stroke="#231f20" stroke-width="0.7" />
<text x="0" y="0" transform="translate(66.80,498.30) scale(1,1.07)" font-size="7.9" text-anchor="middle" fill="#231f20" >-3</text>
<text font-size="100" font-weight="bold" fill="#2a9d3a" opacity="1.0" style="stroke:none" transform="translate(61.40,489.00) scale(0.1612,0.0077)">A</text>
<text font-size="100" font-weight="bold" fill="#1a5ca8" opacity="1.0" style="stroke:none" transform="translate(61.12,488.46) scale(0.1654,0.0112)">C</text>
<text font-size="100" font-weight="bold" fill="#f4a81d" opacity="1.0" style="stroke:none" transform="translate(61.14,487.66) scale(0.1602,0.0224)">G</text>
<path d="M61.90 483.99 H72.50 V485.60 H68.30 V486.10 H66.10 V485.60 H61.90 Z" fill="#e3173e" opacity="0.6"/>
<line x1="78.80" y1="489.40" x2="78.80" y2="491.20" stroke="#231f20" stroke-width="0.7" />
<text x="0" y="0" transform="translate(78.40,498.30) scale(1,1.07)" font-size="7.9" text-anchor="middle" fill="#231f20" >-2</text>
<text font-size="100" font-weight="bold" fill="#2a9d3a" opacity="1.0" style="stroke:none" transform="translate(73.00,489.00) scale(0.1612,0.0077)">A</text>
<text font-size="100" font-weight="bold" fill="#f4a81d" opacity="1.0" style="stroke:none" transform="translate(72.74,488.46) scale(0.1602,0.0112)">G</text>
<text font-size="100" font-weight="bold" fill="#1a5ca8" opacity="1.0" style="stroke:none" transform="translate(72.72,487.63) scale(0.1654,0.0634)">C</text>
<path d="M73.50 466.34 H84.10 V469.43 H80.05 V483.20 H77.55 V469.43 H73.50 Z" fill="#e3173e" opacity="1.0"/>
<line x1="90.40" y1="489.40" x2="90.40" y2="491.20" stroke="#231f20" stroke-width="0.7" />
<text x="0" y="0" transform="translate(90.00,498.30) scale(1,1.07)" font-size="7.9" text-anchor="middle" fill="#231f20" >-1</text>
<text font-size="100" font-weight="bold" fill="#f4a81d" opacity="1.0" style="stroke:none" transform="translate(84.34,488.99) scale(0.1602,0.0075)">G</text>
<path d="M85.10 487.68 H95.70 V488.16 H91.50 V488.47 H89.30 V488.16 H85.10 Z" fill="#e3173e" opacity="0.5"/>
<text x="0" y="0" transform="translate(163.00,433.20) scale(1,1.07)" font-size="8.0" text-anchor="middle" fill="#231f20" >150 mM NaCl</text>
<line x1="129.70" y1="436.20" x2="129.70" y2="489.80" stroke="#231f20" stroke-width="0.85" />
<line x1="129.30" y1="489.40" x2="191.20" y2="489.40" stroke="#231f20" stroke-width="0.85" />
<line x1="128.10" y1="489.40" x2="129.70" y2="489.40" stroke="#231f20" stroke-width="0.7" />
<line x1="128.10" y1="476.17" x2="129.70" y2="476.17" stroke="#231f20" stroke-width="0.7" />
<line x1="128.10" y1="462.95" x2="129.70" y2="462.95" stroke="#231f20" stroke-width="0.7" />
<line x1="128.10" y1="449.73" x2="129.70" y2="449.73" stroke="#231f20" stroke-width="0.7" />
<line x1="128.10" y1="436.50" x2="129.70" y2="436.50" stroke="#231f20" stroke-width="0.7" />
<text x="0" y="0" transform="translate(127.80,492.20) scale(1,1.07)" font-size="7.9" text-anchor="end" fill="#231f20" >0.0</text>
<text x="0" y="0" transform="translate(127.80,465.75) scale(1,1.07)" font-size="7.9" text-anchor="end" fill="#231f20" >1.0</text>
<text x="0" y="0" transform="translate(127.80,439.30) scale(1,1.07)" font-size="7.9" text-anchor="end" fill="#231f20" >2.0</text>
<text x="0" y="0" font-size="7.6" text-anchor="middle" fill="#231f20" transform="translate(113.70,462.90) rotate(-90) scale(1,1.07)">Bits</text>
<line x1="137.40" y1="489.40" x2="137.40" y2="491.20" stroke="#231f20" stroke-width="0.7" />
<text x="0" y="0" transform="translate(137.00,498.30) scale(1,1.07)" font-size="7.9" text-anchor="middle" fill="#231f20" >-5</text>
<line x1="149.00" y1="489.40" x2="149.00" y2="491.20" stroke="#231f20" stroke-width="0.7" />
<text x="0" y="0" transform="translate(148.60,498.30) scale(1,1.07)" font-size="7.9" text-anchor="middle" fill="#231f20" >-4</text>
<text font-size="100" font-weight="bold" fill="#f4a81d" opacity="1.0" style="stroke:none" transform="translate(142.94,488.99) scale(0.1602,0.0075)">G</text>
<path d="M143.70 487.94 H154.30 V488.26 H150.10 V488.47 H147.90 V488.26 H143.70 Z" fill="#e3173e" opacity="0.5"/>
<line x1="160.60" y1="489.40" x2="160.60" y2="491.20" stroke="#231f20" stroke-width="0.7" />
<text x="0" y="0" transform="translate(160.20,498.30) scale(1,1.07)" font-size="7.9" text-anchor="middle" fill="#231f20" >-3</text>
<text font-size="100" font-weight="bold" fill="#2a9d3a" opacity="1.0" style="stroke:none" transform="translate(154.80,489.00) scale(0.1612,0.0077)">A</text>
<text font-size="100" font-weight="bold" fill="#1a5ca8" opacity="1.0" style="stroke:none" transform="translate(154.52,488.46) scale(0.1654,0.0150)">C</text>
<text font-size="100" font-weight="bold" fill="#f4a81d" opacity="1.0" style="stroke:none" transform="translate(154.54,487.39) scale(0.1602,0.0299)">G</text>
<path d="M155.30 481.07 H165.90 V482.89 H161.70 V485.30 H159.50 V482.89 H155.30 Z" fill="#e3173e" opacity="0.7"/>
<line x1="172.20" y1="489.40" x2="172.20" y2="491.20" stroke="#231f20" stroke-width="0.7" />
<text x="0" y="0" transform="translate(171.80,498.30) scale(1,1.07)" font-size="7.9" text-anchor="middle" fill="#231f20" >-2</text>
<text font-size="100" font-weight="bold" fill="#2a9d3a" opacity="1.0" style="stroke:none" transform="translate(166.40,489.00) scale(0.1612,0.0077)">A</text>
<text font-size="100" font-weight="bold" fill="#f4a81d" opacity="1.0" style="stroke:none" transform="translate(166.14,488.46) scale(0.1602,0.0112)">G</text>
<text font-size="100" font-weight="bold" fill="#1a5ca8" opacity="1.0" style="stroke:none" transform="translate(166.12,487.61) scale(0.1654,0.0748)">C</text>
<path d="M166.90 459.38 H177.50 V463.08 H173.45 V482.39 H170.95 V463.08 H166.90 Z" fill="#e3173e" opacity="1.0"/>
<line x1="183.80" y1="489.40" x2="183.80" y2="491.20" stroke="#231f20" stroke-width="0.7" />
<text x="0" y="0" transform="translate(183.40,498.30) scale(1,1.07)" font-size="7.9" text-anchor="middle" fill="#231f20" >-1</text>
<text font-size="100" font-weight="bold" fill="#2a9d3a" opacity="1.0" style="stroke:none" transform="translate(178.00,489.00) scale(0.1612,0.0077)">A</text>
<text font-size="100" font-weight="bold" fill="#f4a81d" opacity="1.0" style="stroke:none" transform="translate(177.74,488.46) scale(0.1602,0.0150)">G</text>
<path d="M178.50 486.62 H189.10 V487.10 H184.90 V487.41 H182.70 V487.10 H178.50 Z" fill="#e3173e" opacity="0.5"/>
<text x="0" y="0" transform="translate(256.50,433.20) scale(1,1.07)" font-size="8.0" text-anchor="middle" fill="#231f20" >300 mM NaCl</text>
<line x1="223.60" y1="436.50" x2="223.60" y2="490.00" stroke="#231f20" stroke-width="0.85" />
<line x1="223.20" y1="489.60" x2="285.10" y2="489.60" stroke="#231f20" stroke-width="0.85" />
<line x1="222.00" y1="489.60" x2="223.60" y2="489.60" stroke="#231f20" stroke-width="0.7" />
<line x1="222.00" y1="476.40" x2="223.60" y2="476.40" stroke="#231f20" stroke-width="0.7" />
<line x1="222.00" y1="463.20" x2="223.60" y2="463.20" stroke="#231f20" stroke-width="0.7" />
<line x1="222.00" y1="450.00" x2="223.60" y2="450.00" stroke="#231f20" stroke-width="0.7" />
<line x1="222.00" y1="436.80" x2="223.60" y2="436.80" stroke="#231f20" stroke-width="0.7" />
<text x="0" y="0" transform="translate(221.70,492.40) scale(1,1.07)" font-size="7.9" text-anchor="end" fill="#231f20" >0.0</text>
<text x="0" y="0" transform="translate(221.70,466.00) scale(1,1.07)" font-size="7.9" text-anchor="end" fill="#231f20" >1.0</text>
<text x="0" y="0" transform="translate(221.70,439.60) scale(1,1.07)" font-size="7.9" text-anchor="end" fill="#231f20" >2.0</text>
<text x="0" y="0" font-size="7.6" text-anchor="middle" fill="#231f20" transform="translate(207.60,463.10) rotate(-90) scale(1,1.07)">Bits</text>
<line x1="231.30" y1="489.60" x2="231.30" y2="491.40" stroke="#231f20" stroke-width="0.7" />
<text x="0" y="0" transform="translate(230.90,498.50) scale(1,1.07)" font-size="7.9" text-anchor="middle" fill="#231f20" >-5</text>
<line x1="242.90" y1="489.60" x2="242.90" y2="491.40" stroke="#231f20" stroke-width="0.7" />
<text x="0" y="0" transform="translate(242.50,498.50) scale(1,1.07)" font-size="7.9" text-anchor="middle" fill="#231f20" >-4</text>
<text font-size="100" font-weight="bold" fill="#f4a81d" opacity="1.0" style="stroke:none" transform="translate(236.84,489.19) scale(0.1602,0.0075)">G</text>
<path d="M237.60 488.14 H248.20 V488.46 H244.00 V488.67 H241.80 V488.46 H237.60 Z" fill="#e3173e" opacity="0.5"/>
<line x1="254.50" y1="489.60" x2="254.50" y2="491.40" stroke="#231f20" stroke-width="0.7" />
<text x="0" y="0" transform="translate(254.10,498.50) scale(1,1.07)" font-size="7.9" text-anchor="middle" fill="#231f20" >-3</text>
<text font-size="100" font-weight="bold" fill="#2a9d3a" opacity="1.0" style="stroke:none" transform="translate(248.70,489.20) scale(0.1612,0.0077)">A</text>
<text font-size="100" font-weight="bold" fill="#f4a81d" opacity="1.0" style="stroke:none" transform="translate(248.44,488.66) scale(0.1602,0.0112)">G</text>
<text font-size="100" font-weight="bold" fill="#1a5ca8" opacity="1.0" style="stroke:none" transform="translate(248.42,487.83) scale(0.1654,0.0560)">C</text>
<path d="M249.20 460.69 H259.80 V464.41 H255.75 V483.92 H253.25 V464.41 H249.20 Z" fill="#e3173e" opacity="1.0"/>
<line x1="266.10" y1="489.60" x2="266.10" y2="491.40" stroke="#231f20" stroke-width="0.7" />
<text x="0" y="0" transform="translate(265.70,498.50) scale(1,1.07)" font-size="7.9" text-anchor="middle" fill="#231f20" >-2</text>
<path d="M260.80 440.62 H271.40 V446.88 H267.35 V489.20 H264.85 V446.88 H260.80 Z" fill="#e3173e" opacity="1.0"/>
<line x1="277.70" y1="489.60" x2="277.70" y2="491.40" stroke="#231f20" stroke-width="0.7" />
<text x="0" y="0" transform="translate(277.30,498.50) scale(1,1.07)" font-size="7.9" text-anchor="middle" fill="#231f20" >-1</text>
<text font-size="100" font-weight="bold" fill="#2a9d3a" opacity="1.0" style="stroke:none" transform="translate(271.90,489.20) scale(0.1612,0.0269)">A</text>
<path d="M272.40 484.18 H283.00 V485.90 H278.80 V487.35 H276.60 V485.90 H272.40 Z" fill="#e3173e" opacity="1.0"/>
<text font-size="100" font-weight="bold" fill="#f4a81d" opacity="1.0" style="stroke:none" transform="translate(271.64,484.13) scale(0.1602,0.0560)">G</text>
<text x="305.20" y="328.80" font-size="13.5" text-anchor="start" font-weight="bold" fill="#000" >h</text>
<text x="0" y="0" transform="translate(346.00,344.60) scale(1,1.07)" font-size="7.5" text-anchor="middle" fill="#231f20" >High FRET</text>
<line x1="340.10" y1="360.20" x2="345.90" y2="360.20" stroke="#707070" stroke-width="0.75" />
<line x1="340.10" y1="362.50" x2="345.90" y2="362.50" stroke="#707070" stroke-width="0.75" />
<line x1="340.10" y1="364.80" x2="345.90" y2="364.80" stroke="#707070" stroke-width="0.75" />
<line x1="340.10" y1="367.10" x2="345.90" y2="367.10" stroke="#707070" stroke-width="0.75" />
<line x1="340.10" y1="369.40" x2="345.90" y2="369.40" stroke="#707070" stroke-width="0.75" />
<line x1="340.10" y1="371.70" x2="345.90" y2="371.70" stroke="#707070" stroke-width="0.75" />
<line x1="340.10" y1="374.00" x2="345.90" y2="374.00" stroke="#707070" stroke-width="0.75" />
<line x1="340.10" y1="376.30" x2="345.90" y2="376.30" stroke="#707070" stroke-width="0.75" />
<line x1="340.10" y1="378.60" x2="345.90" y2="378.60" stroke="#707070" stroke-width="0.75" />
<line x1="340.10" y1="380.90" x2="345.90" y2="380.90" stroke="#707070" stroke-width="0.75" />
<line x1="340.10" y1="383.20" x2="345.90" y2="383.20" stroke="#707070" stroke-width="0.75" />
<line x1="340.10" y1="358.60" x2="340.10" y2="384.00" stroke="#3a3434" stroke-width="0.9" />
<line x1="345.90" y1="358.60" x2="345.90" y2="384.00" stroke="#3a3434" stroke-width="0.9" />
<rect x="339.60" y="384.00" width="6.80" height="43.10" fill="#2a4ea6" stroke="none" stroke-width="0.8" />
<line x1="340.80" y1="385.30" x2="345.20" y2="385.30" stroke="#dfe6f7" stroke-width="0.65" />
<line x1="340.80" y1="387.50" x2="345.20" y2="387.50" stroke="#dfe6f7" stroke-width="0.65" />
<line x1="340.80" y1="389.70" x2="345.20" y2="389.70" stroke="#dfe6f7" stroke-width="0.65" />
<line x1="340.80" y1="391.90" x2="345.20" y2="391.90" stroke="#dfe6f7" stroke-width="0.65" />
<line x1="340.80" y1="394.10" x2="345.20" y2="394.10" stroke="#dfe6f7" stroke-width="0.65" />
<line x1="340.80" y1="396.30" x2="345.20" y2="396.30" stroke="#dfe6f7" stroke-width="0.65" />
<line x1="340.80" y1="398.50" x2="345.20" y2="398.50" stroke="#dfe6f7" stroke-width="0.65" />
<line x1="340.80" y1="400.70" x2="345.20" y2="400.70" stroke="#dfe6f7" stroke-width="0.65" />
<line x1="340.80" y1="402.90" x2="345.20" y2="402.90" stroke="#dfe6f7" stroke-width="0.65" />
<line x1="340.80" y1="405.10" x2="345.20" y2="405.10" stroke="#dfe6f7" stroke-width="0.65" />
<line x1="340.80" y1="407.30" x2="345.20" y2="407.30" stroke="#dfe6f7" stroke-width="0.65" />
<line x1="340.80" y1="409.50" x2="345.20" y2="409.50" stroke="#dfe6f7" stroke-width="0.65" />
<line x1="340.80" y1="411.70" x2="345.20" y2="411.70" stroke="#dfe6f7" stroke-width="0.65" />
<line x1="340.80" y1="413.90" x2="345.20" y2="413.90" stroke="#dfe6f7" stroke-width="0.65" />
<line x1="340.80" y1="416.10" x2="345.20" y2="416.10" stroke="#dfe6f7" stroke-width="0.65" />
<line x1="340.80" y1="418.30" x2="345.20" y2="418.30" stroke="#dfe6f7" stroke-width="0.65" />
<line x1="340.80" y1="420.50" x2="345.20" y2="420.50" stroke="#dfe6f7" stroke-width="0.65" />
<line x1="340.80" y1="422.70" x2="345.20" y2="422.70" stroke="#dfe6f7" stroke-width="0.65" />
<line x1="340.80" y1="424.90" x2="345.20" y2="424.90" stroke="#dfe6f7" stroke-width="0.65" />
<rect x="339.60" y="427.10" width="6.80" height="7.20" fill="#fbeedd" stroke="none" stroke-width="0.8" />
<line x1="340.10" y1="427.10" x2="340.10" y2="434.30" stroke="#f3c98f" stroke-width="0.9" />
<line x1="345.90" y1="427.10" x2="345.90" y2="434.30" stroke="#f3c98f" stroke-width="0.9" />
<line x1="340.50" y1="428.10" x2="345.50" y2="428.10" stroke="#f5cf98" stroke-width="0.75" />
<line x1="340.50" y1="430.00" x2="345.50" y2="430.00" stroke="#f5cf98" stroke-width="0.75" />
<line x1="340.50" y1="431.90" x2="345.50" y2="431.90" stroke="#f5cf98" stroke-width="0.75" />
<line x1="340.50" y1="433.80" x2="345.50" y2="433.80" stroke="#f5cf98" stroke-width="0.75" />
<line x1="340.10" y1="435.90" x2="345.90" y2="435.90" stroke="#707070" stroke-width="0.75" />
<line x1="340.10" y1="438.20" x2="345.90" y2="438.20" stroke="#707070" stroke-width="0.75" />
<line x1="340.10" y1="440.50" x2="345.90" y2="440.50" stroke="#707070" stroke-width="0.75" />
<line x1="340.10" y1="442.80" x2="345.90" y2="442.80" stroke="#707070" stroke-width="0.75" />
<line x1="340.10" y1="445.10" x2="345.90" y2="445.10" stroke="#707070" stroke-width="0.75" />
<line x1="340.10" y1="447.40" x2="345.90" y2="447.40" stroke="#707070" stroke-width="0.75" />
<line x1="340.10" y1="449.70" x2="345.90" y2="449.70" stroke="#707070" stroke-width="0.75" />
<line x1="340.10" y1="452.00" x2="345.90" y2="452.00" stroke="#707070" stroke-width="0.75" />
<line x1="340.10" y1="434.30" x2="340.10" y2="454.50" stroke="#3a3434" stroke-width="0.9" />
<line x1="345.90" y1="434.30" x2="345.90" y2="454.50" stroke="#3a3434" stroke-width="0.9" />
<line x1="340.30" y1="454.50" x2="340.30" y2="462.90" stroke="#5a5555" stroke-width="2.0" />
<line x1="340.30" y1="454.80" x2="340.30" y2="462.70" stroke="#9a9a9a" stroke-width="0.7" />
<path d="M338.50 461.70 C338.30 465.10 341.30 466.10 342.70 465.90 C344.70 465.50 345.70 464.50 345.50 462.50" stroke="#6a6565" stroke-width="1.5" fill="none" />
<rect x="318.30" y="470.10" width="38.70" height="1.70" fill="#c4c4c4" stroke="none" stroke-width="0.8" filter="url(#b04)"/>
<line x1="319.80" y1="468.70" x2="356.00" y2="468.70" stroke="#2a2a2a" stroke-width="1.3" stroke-dasharray="0.9 0.5 0.6 0.5"/>
<path d="M346.2 392.2 L346.2 394.4 M346.2 393.3 L347.6 393.3 L348.3 391.9 L349.0 394.6 L350.3 393.3" stroke="#222" stroke-width="0.75" fill="none" />
<circle cx="353.70" cy="393.30" r="3.10" fill="#86d072" stroke="#2f9a3a" stroke-width="0.8" />
<text x="0" y="0" transform="translate(352.60,385.60) scale(1,1.07)" font-size="7.6" text-anchor="start" fill="#231f20" >Cy3</text>
<path d="M339.8 415.1 L339.8 417.3 M339.8 416.2 L338.4 416.2 L337.7 414.8 L337.0 417.5 L335.4 416.2" stroke="#222" stroke-width="0.75" fill="none" />
<circle cx="331.60" cy="416.10" r="3.10" fill="#f47d86" stroke="#e0283a" stroke-width="0.8" />
<text x="0" y="0" transform="translate(329.80,410.00) scale(1,1.07)" font-size="7.6" text-anchor="middle" fill="#231f20" >Cy5</text>
<text x="0" y="0" transform="translate(323.00,434.20) scale(1,1.07)" font-size="7.6" text-anchor="start" fill="#231f20" >PAM</text>
<text x="0" y="0" transform="translate(391.00,397.00) scale(1,1.07)" font-size="7.6" text-anchor="middle" fill="#231f20" >dCas12e-sgRNA</text>
<line x1="373.40" y1="404.30" x2="408.00" y2="404.30" stroke="#111" stroke-width="0.85" />
<path d="M410.4 404.3 L404.8 401.6 L406.2 404.3 L404.8 407.0 Z" stroke="none" stroke-width="0.8" fill="#111" />
<path d="M389.2 399.2 C390.5 402.6 394.5 404.0 399.7 404.3" stroke="#111" stroke-width="0.65" fill="none" />
<text x="0" y="0" transform="translate(445.10,340.70) scale(1,1.07)" font-size="7.5" text-anchor="middle" fill="#231f20" >Low FRET</text>
<text x="0" y="0" transform="translate(445.20,349.70) scale(1,1.07)" font-size="7.4" text-anchor="middle" fill="#231f20" >(DNA unwinding)</text>
<line x1="442.10" y1="358.10" x2="447.20" y2="358.10" stroke="#707070" stroke-width="0.75" />
<line x1="442.10" y1="360.40" x2="447.20" y2="360.40" stroke="#707070" stroke-width="0.75" />
<line x1="442.10" y1="362.70" x2="447.20" y2="362.70" stroke="#707070" stroke-width="0.75" />
<line x1="442.10" y1="365.00" x2="447.20" y2="365.00" stroke="#707070" stroke-width="0.75" />
<line x1="442.10" y1="367.30" x2="447.20" y2="367.30" stroke="#707070" stroke-width="0.75" />
<line x1="442.10" y1="369.60" x2="447.20" y2="369.60" stroke="#707070" stroke-width="0.75" />
<line x1="442.10" y1="371.90" x2="447.20" y2="371.90" stroke="#707070" stroke-width="0.75" />
<line x1="442.10" y1="374.20" x2="447.20" y2="374.20" stroke="#707070" stroke-width="0.75" />
<line x1="442.10" y1="376.50" x2="447.20" y2="376.50" stroke="#707070" stroke-width="0.75" />
<line x1="442.10" y1="378.80" x2="447.20" y2="378.80" stroke="#707070" stroke-width="0.75" />
<line x1="442.10" y1="381.10" x2="447.20" y2="381.10" stroke="#707070" stroke-width="0.75" />
<line x1="442.10" y1="356.50" x2="442.10" y2="382.60" stroke="#3a3434" stroke-width="0.9" />
<line x1="447.20" y1="356.50" x2="447.20" y2="382.60" stroke="#3a3434" stroke-width="0.9" />
<path d="M442.1 382.6 L433.7 388.6 L433.7 418.7 L442.1 425.8" stroke="#2b4fa6" stroke-width="0.9" fill="none" />
<path d="M447.2 382.6 L456.3 388.6 L456.3 418.7 L447.2 425.8" stroke="#2b4fa6" stroke-width="0.9" fill="none" />
<rect x="433.70" y="388.60" width="5.80" height="30.10" fill="#2b4fa6" stroke="none" stroke-width="0.8" />
<line x1="434.40" y1="389.80" x2="438.90" y2="389.80" stroke="#dfe6f7" stroke-width="0.65" />
<line x1="434.40" y1="392.00" x2="438.90" y2="392.00" stroke="#dfe6f7" stroke-width="0.65" />
<line x1="434.40" y1="394.20" x2="438.90" y2="394.20" stroke="#dfe6f7" stroke-width="0.65" />
<line x1="434.40" y1="396.40" x2="438.90" y2="396.40" stroke="#dfe6f7" stroke-width="0.65" />
<line x1="434.40" y1="398.60" x2="438.90" y2="398.60" stroke="#dfe6f7" stroke-width="0.65" />
<line x1="434.40" y1="400.80" x2="438.90" y2="400.80" stroke="#dfe6f7" stroke-width="0.65" />
<line x1="434.40" y1="403.00" x2="438.90" y2="403.00" stroke="#dfe6f7" stroke-width="0.65" />
<line x1="434.40" y1="405.20" x2="438.90" y2="405.20" stroke="#dfe6f7" stroke-width="0.65" />
<line x1="434.40" y1="407.40" x2="438.90" y2="407.40" stroke="#dfe6f7" stroke-width="0.65" />
<line x1="434.40" y1="409.60" x2="438.90" y2="409.60" stroke="#dfe6f7" stroke-width="0.65" />
<line x1="434.40" y1="411.80" x2="438.90" y2="411.80" stroke="#dfe6f7" stroke-width="0.65" />
<line x1="434.40" y1="414.00" x2="438.90" y2="414.00" stroke="#dfe6f7" stroke-width="0.65" />
<line x1="434.40" y1="416.20" x2="438.90" y2="416.20" stroke="#dfe6f7" stroke-width="0.65" />
<line x1="434.40" y1="418.40" x2="438.90" y2="418.40" stroke="#dfe6f7" stroke-width="0.65" />
<rect x="441.60" y="426.00" width="6.10" height="7.70" fill="#fbeedd" stroke="none" stroke-width="0.8" />
<line x1="442.10" y1="426.00" x2="442.10" y2="433.70" stroke="#f3c98f" stroke-width="0.9" />
<line x1="447.20" y1="426.00" x2="447.20" y2="433.70" stroke="#f3c98f" stroke-width="0.9" />
<line x1="442.50" y1="427.00" x2="446.80" y2="427.00" stroke="#f5cf98" stroke-width="0.75" />
<line x1="442.50" y1="428.90" x2="446.80" y2="428.90" stroke="#f5cf98" stroke-width="0.75" />
<line x1="442.50" y1="430.80" x2="446.80" y2="430.80" stroke="#f5cf98" stroke-width="0.75" />
<line x1="442.50" y1="432.70" x2="446.80" y2="432.70" stroke="#f5cf98" stroke-width="0.75" />
<line x1="442.10" y1="435.30" x2="447.20" y2="435.30" stroke="#707070" stroke-width="0.75" />
<line x1="442.10" y1="437.60" x2="447.20" y2="437.60" stroke="#707070" stroke-width="0.75" />
<line x1="442.10" y1="439.90" x2="447.20" y2="439.90" stroke="#707070" stroke-width="0.75" />
<line x1="442.10" y1="442.20" x2="447.20" y2="442.20" stroke="#707070" stroke-width="0.75" />
<line x1="442.10" y1="444.50" x2="447.20" y2="444.50" stroke="#707070" stroke-width="0.75" />
<line x1="442.10" y1="446.80" x2="447.20" y2="446.80" stroke="#707070" stroke-width="0.75" />
<line x1="442.10" y1="449.10" x2="447.20" y2="449.10" stroke="#707070" stroke-width="0.75" />
<line x1="442.10" y1="451.40" x2="447.20" y2="451.40" stroke="#707070" stroke-width="0.75" />
<line x1="442.10" y1="453.70" x2="447.20" y2="453.70" stroke="#707070" stroke-width="0.75" />
<line x1="442.10" y1="433.70" x2="442.10" y2="455.00" stroke="#3a3434" stroke-width="0.9" />
<line x1="447.20" y1="433.70" x2="447.20" y2="455.00" stroke="#3a3434" stroke-width="0.9" />
<line x1="442.40" y1="455.00" x2="442.40" y2="463.40" stroke="#5a5555" stroke-width="2.0" />
<line x1="442.40" y1="455.30" x2="442.40" y2="463.20" stroke="#9a9a9a" stroke-width="0.7" />
<path d="M440.60 462.20 C440.40 465.60 443.40 466.60 444.80 466.40 C446.80 466.00 447.80 465.00 447.60 463.00" stroke="#6a6565" stroke-width="1.5" fill="none" />
<rect x="419.20" y="469.50" width="47.50" height="1.70" fill="#c4c4c4" stroke="none" stroke-width="0.8" filter="url(#b04)"/>
<line x1="420.70" y1="468.10" x2="465.70" y2="468.10" stroke="#2a2a2a" stroke-width="1.3" stroke-dasharray="0.9 0.5 0.6 0.5"/>
<path d="M456.6 395.6 L456.6 397.8 M456.6 396.7 L457.8 396.7 L458.5 395.3 L459.2 398.0 L460.3 396.7" stroke="#222" stroke-width="0.75" fill="none" />
<circle cx="463.30" cy="396.80" r="3.10" fill="#86d072" stroke="#2f9a3a" stroke-width="0.8" />
<path d="M433.4 413.1 L433.4 415.3 M433.4 414.2 L432.2 414.2 L431.5 412.8 L430.8 415.5 L429.4 414.2" stroke="#222" stroke-width="0.75" fill="none" />
<circle cx="425.20" cy="414.20" r="3.10" fill="#f47d86" stroke="#e0283a" stroke-width="0.8" />
<path d="M438.6 421.6 C436.8 422.6 434.6 423.0 432.6 424.4 C431.2 425.4 431.0 427.4 432.4 427.2 C433.8 427.0 433.4 424.8 431.6 425.0 C429.6 425.4 428.6 428.6 426.8 430.4 C425.2 432.0 422.0 432.4 422.2 434.4 C422.4 436.2 426.2 436.0 427.4 434.4 C428.6 432.8 427.0 431.0 425.8 432.4 C424.8 433.6 427.6 435.6 430.8 436.2 C432.8 436.6 434.4 437.2 435.4 438.2" stroke="#222" stroke-width="0.75" fill="none" />
<text x="487.60" y="328.30" font-size="13.5" text-anchor="start" font-weight="bold" fill="#000" >i</text>
<line x1="527.40" y1="354.00" x2="527.40" y2="454.50" stroke="#231f20" stroke-width="0.85" />
<line x1="527.00" y1="454.10" x2="676.50" y2="454.10" stroke="#231f20" stroke-width="0.85" />
<line x1="525.40" y1="454.10" x2="527.40" y2="454.10" stroke="#231f20" stroke-width="0.7" />
<text x="0" y="0" transform="translate(524.20,456.80) scale(1,1.07)" font-size="7.9" text-anchor="end" fill="#231f20" >0</text>
<line x1="525.40" y1="429.15" x2="527.40" y2="429.15" stroke="#231f20" stroke-width="0.7" />
<text x="0" y="0" transform="translate(524.20,431.85) scale(1,1.07)" font-size="7.9" text-anchor="end" fill="#231f20" >20</text>
<line x1="525.40" y1="404.20" x2="527.40" y2="404.20" stroke="#231f20" stroke-width="0.7" />
<text x="0" y="0" transform="translate(524.20,406.90) scale(1,1.07)" font-size="7.9" text-anchor="end" fill="#231f20" >40</text>
<line x1="525.40" y1="379.25" x2="527.40" y2="379.25" stroke="#231f20" stroke-width="0.7" />
<text x="0" y="0" transform="translate(524.20,381.95) scale(1,1.07)" font-size="7.9" text-anchor="end" fill="#231f20" >60</text>
<line x1="525.40" y1="354.30" x2="527.40" y2="354.30" stroke="#231f20" stroke-width="0.7" />
<text x="0" y="0" transform="translate(524.20,357.00) scale(1,1.07)" font-size="7.9" text-anchor="end" fill="#231f20" >80</text>
<text x="0" y="0" font-size="7.6" text-anchor="middle" fill="#231f20" transform="translate(511.0,405.5) rotate(-90) scale(1,1.07)" style="font-size:7.9px">DNA unwinding proportion (%)</text>
<rect x="533.80" y="364.28" width="9.60" height="89.82" fill="#d9d9d9" stroke="#222" stroke-width="0.8" />
<line x1="538.60" y1="362.41" x2="538.60" y2="366.15" stroke="#111" stroke-width="0.7" />
<line x1="536.60" y1="362.41" x2="540.60" y2="362.41" stroke="#111" stroke-width="0.7" />
<line x1="536.60" y1="366.15" x2="540.60" y2="366.15" stroke="#111" stroke-width="0.7" />
<rect x="548.20" y="405.20" width="9.40" height="48.90" fill="url(#hatch)" stroke="#222" stroke-width="0.8" />
<line x1="552.90" y1="401.21" x2="552.90" y2="409.19" stroke="#111" stroke-width="0.7" />
<line x1="550.90" y1="401.21" x2="554.90" y2="401.21" stroke="#111" stroke-width="0.7" />
<line x1="550.90" y1="409.19" x2="554.90" y2="409.19" stroke="#111" stroke-width="0.7" />
<rect x="571.40" y="409.81" width="9.50" height="44.29" fill="#d9d9d9" stroke="#222" stroke-width="0.8" />
<line x1="576.15" y1="405.45" x2="576.15" y2="414.18" stroke="#111" stroke-width="0.7" />
<line x1="574.15" y1="405.45" x2="578.15" y2="405.45" stroke="#111" stroke-width="0.7" />
<line x1="574.15" y1="414.18" x2="578.15" y2="414.18" stroke="#111" stroke-width="0.7" />
<rect x="585.70" y="428.90" width="9.30" height="25.20" fill="url(#hatch)" stroke="#222" stroke-width="0.8" />
<line x1="590.35" y1="425.66" x2="590.35" y2="432.14" stroke="#111" stroke-width="0.7" />
<line x1="588.35" y1="425.66" x2="592.35" y2="425.66" stroke="#111" stroke-width="0.7" />
<line x1="588.35" y1="432.14" x2="592.35" y2="432.14" stroke="#111" stroke-width="0.7" />
<rect x="608.30" y="403.58" width="9.60" height="50.52" fill="#d9d9d9" stroke="#222" stroke-width="0.8" />
<line x1="613.10" y1="401.08" x2="613.10" y2="406.07" stroke="#111" stroke-width="0.7" />
<line x1="611.10" y1="401.08" x2="615.10" y2="401.08" stroke="#111" stroke-width="0.7" />
<line x1="611.10" y1="406.07" x2="615.10" y2="406.07" stroke="#111" stroke-width="0.7" />
<rect x="646.10" y="412.93" width="9.50" height="41.17" fill="#d9d9d9" stroke="#222" stroke-width="0.8" />
<line x1="650.85" y1="412.18" x2="650.85" y2="413.68" stroke="#111" stroke-width="0.7" />
<line x1="648.85" y1="412.18" x2="652.85" y2="412.18" stroke="#111" stroke-width="0.7" />
<line x1="648.85" y1="413.68" x2="652.85" y2="413.68" stroke="#111" stroke-width="0.7" />
<circle cx="535.80" cy="360.54" r="1.40" fill="#111" stroke="none" stroke-width="0.5" />
<circle cx="536.60" cy="367.40" r="1.40" fill="#111" stroke="none" stroke-width="0.5" />
<circle cx="541.20" cy="363.66" r="1.40" fill="#111" stroke="none" stroke-width="0.5" />
<path d="M550.80 396.69 L552.60 399.92 L549.00 399.92 Z" stroke="none" stroke-width="0.8" fill="#111" />
<path d="M553.50 404.80 L555.30 408.03 L551.70 408.03 Z" stroke="none" stroke-width="0.8" fill="#111" />
<path d="M555.20 407.29 L557.00 410.52 L553.40 410.52 Z" stroke="none" stroke-width="0.8" fill="#111" />
<circle cx="573.00" cy="404.20" r="1.40" fill="#111" stroke="none" stroke-width="0.5" />
<circle cx="578.40" cy="404.20" r="1.40" fill="#111" stroke="none" stroke-width="0.5" />
<circle cx="576.00" cy="418.55" r="1.40" fill="#111" stroke="none" stroke-width="0.5" />
<path d="M587.80 423.51 L589.60 426.74 L586.00 426.74 Z" stroke="none" stroke-width="0.8" fill="#111" />
<path d="M590.50 427.25 L592.30 430.48 L588.70 430.48 Z" stroke="none" stroke-width="0.8" fill="#111" />
<path d="M592.50 429.12 L594.30 432.35 L590.70 432.35 Z" stroke="none" stroke-width="0.8" fill="#111" />
<circle cx="610.50" cy="406.07" r="1.40" fill="#111" stroke="none" stroke-width="0.5" />
<circle cx="613.20" cy="399.83" r="1.40" fill="#111" stroke="none" stroke-width="0.5" />
<circle cx="615.80" cy="404.82" r="1.40" fill="#111" stroke="none" stroke-width="0.5" />
<circle cx="648.50" cy="412.93" r="1.40" fill="#111" stroke="none" stroke-width="0.5" />
<circle cx="651.00" cy="412.31" r="1.40" fill="#111" stroke="none" stroke-width="0.5" />
<circle cx="653.50" cy="412.93" r="1.40" fill="#111" stroke="none" stroke-width="0.5" />
<path d="M624.00 450.80 L625.80 454.03 L622.20 454.03 Z" stroke="none" stroke-width="0.8" fill="#111" />
<path d="M627.20 450.80 L629.00 454.03 L625.40 454.03 Z" stroke="none" stroke-width="0.8" fill="#111" />
<path d="M630.40 450.80 L632.20 454.03 L628.60 454.03 Z" stroke="none" stroke-width="0.8" fill="#111" />
<path d="M661.90 450.80 L663.70 454.03 L660.10 454.03 Z" stroke="none" stroke-width="0.8" fill="#111" />
<path d="M665.10 450.80 L666.90 454.03 L663.30 454.03 Z" stroke="none" stroke-width="0.8" fill="#111" />
<path d="M668.30 450.80 L670.10 454.03 L666.50 454.03 Z" stroke="none" stroke-width="0.8" fill="#111" />
<line x1="546.00" y1="454.10" x2="546.00" y2="456.10" stroke="#231f20" stroke-width="0.7" />
<line x1="583.50" y1="454.10" x2="583.50" y2="456.10" stroke="#231f20" stroke-width="0.7" />
<line x1="622.00" y1="454.10" x2="622.00" y2="456.10" stroke="#231f20" stroke-width="0.7" />
<line x1="659.60" y1="454.10" x2="659.60" y2="456.10" stroke="#231f20" stroke-width="0.7" />
<text x="0" y="0" font-size="7.9" text-anchor="end" fill="#231f20" transform="translate(551.20,460.70) rotate(-45) scale(1,1.07)">dDpbCas12e</text>
<text x="0" y="0" font-size="7.9" text-anchor="end" fill="#231f20" transform="translate(588.70,460.70) rotate(-45) scale(1,1.07)">dPlmCas12e</text>
<text x="0" y="0" font-size="7.9" text-anchor="end" fill="#231f20" transform="translate(627.20,460.70) rotate(-45) scale(1,1.07)">dVemCas12e</text>
<text x="0" y="0" font-size="7.9" text-anchor="end" fill="#231f20" transform="translate(664.80,460.70) rotate(-45) scale(1,1.07)">dLesCas12e</text>
<circle cx="625.50" cy="356.30" r="1.50" fill="#111" stroke="none" stroke-width="0.5" />
<text x="0" y="0" transform="translate(636.80,358.70) scale(1,1.07)" font-size="7.6" text-anchor="start" fill="#231f20" >50 mM NaCl</text>
<path d="M625.80 366.00 L627.89 369.74 L623.71 369.74 Z" stroke="none" stroke-width="0.8" fill="#111" />
<text x="0" y="0" transform="translate(636.80,370.70) scale(1,1.07)" font-size="7.6" text-anchor="start" fill="#231f20" >300 mM NaCl</text>
</svg>
</body></html>
